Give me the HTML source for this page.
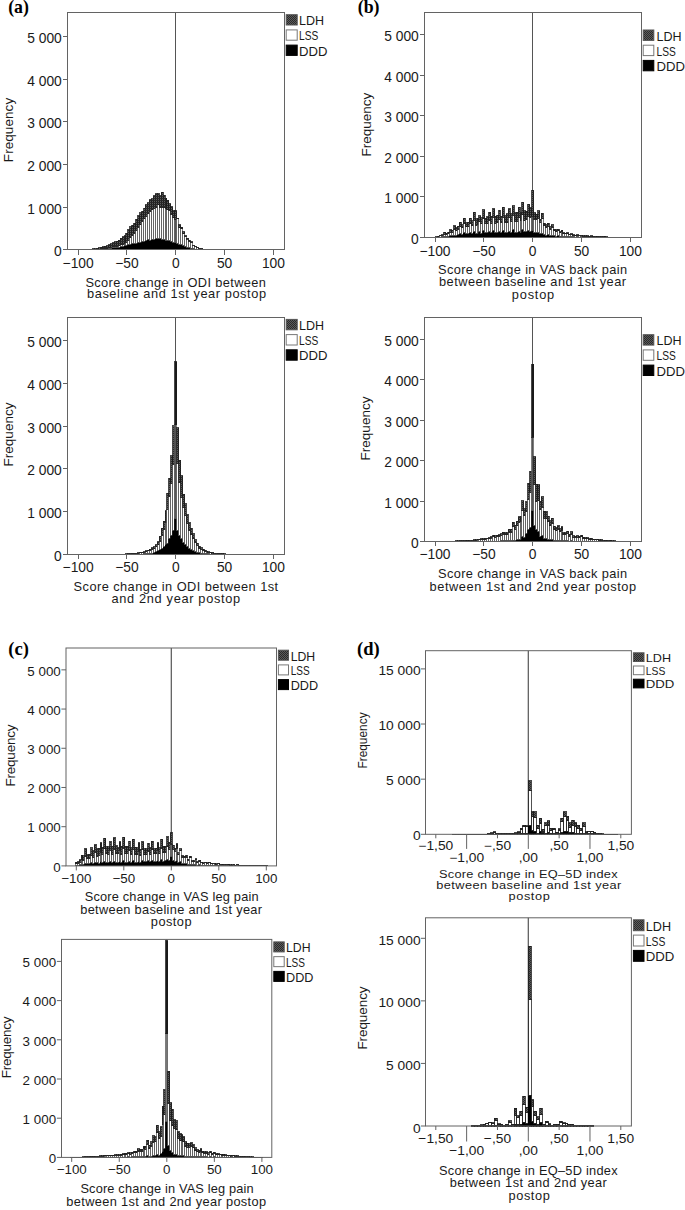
<!DOCTYPE html>
<html><head><meta charset="utf-8"><style>
html,body{margin:0;padding:0;background:#fff;}
svg{display:block;}
</style></head><body>
<svg width="685" height="1210" viewBox="0 0 685 1210">
<defs><pattern id="pl" x="0" y="0" width="2" height="2" patternUnits="userSpaceOnUse"><rect width="2" height="2" fill="#5c5c5c"/><rect width="1" height="1" fill="#2a2a2a"/><rect x="1" y="1" width="1" height="1" fill="#2a2a2a"/></pattern></defs>
<rect width="685" height="1210" fill="#fff"/>
<line x1="175.75" y1="12.50" x2="175.75" y2="249.90" stroke="#555" stroke-width="1.2" shape-rendering="crispEdges"/>
<rect x="79.08" y="249.86" width="1.95" height="0.04" fill="none" stroke="#5e5e5e" stroke-width="0.8" shape-rendering="crispEdges"/>
<rect x="79.08" y="249.81" width="1.95" height="0.04" fill="url(#pl)" stroke="#1a1a1a" stroke-width="0.8" shape-rendering="crispEdges"/>
<rect x="81.03" y="249.88" width="1.95" height="0.02" fill="#000" stroke="#000" stroke-width="0.8" shape-rendering="crispEdges"/>
<rect x="81.03" y="249.82" width="1.95" height="0.06" fill="none" stroke="#5e5e5e" stroke-width="0.8" shape-rendering="crispEdges"/>
<rect x="81.03" y="249.74" width="1.95" height="0.09" fill="url(#pl)" stroke="#1a1a1a" stroke-width="0.8" shape-rendering="crispEdges"/>
<rect x="82.99" y="249.86" width="1.95" height="0.04" fill="#000" stroke="#000" stroke-width="0.8" shape-rendering="crispEdges"/>
<rect x="82.99" y="249.79" width="1.95" height="0.07" fill="none" stroke="#5e5e5e" stroke-width="0.8" shape-rendering="crispEdges"/>
<rect x="82.99" y="249.65" width="1.95" height="0.14" fill="url(#pl)" stroke="#1a1a1a" stroke-width="0.8" shape-rendering="crispEdges"/>
<rect x="84.94" y="249.84" width="1.95" height="0.06" fill="#000" stroke="#000" stroke-width="0.8" shape-rendering="crispEdges"/>
<rect x="84.94" y="249.76" width="1.95" height="0.07" fill="none" stroke="#5e5e5e" stroke-width="0.8" shape-rendering="crispEdges"/>
<rect x="84.94" y="249.55" width="1.95" height="0.21" fill="url(#pl)" stroke="#1a1a1a" stroke-width="0.8" shape-rendering="crispEdges"/>
<rect x="86.89" y="249.81" width="1.95" height="0.09" fill="#000" stroke="#000" stroke-width="0.8" shape-rendering="crispEdges"/>
<rect x="86.89" y="249.73" width="1.95" height="0.08" fill="none" stroke="#5e5e5e" stroke-width="0.8" shape-rendering="crispEdges"/>
<rect x="86.89" y="249.48" width="1.95" height="0.24" fill="url(#pl)" stroke="#1a1a1a" stroke-width="0.8" shape-rendering="crispEdges"/>
<rect x="88.84" y="249.77" width="1.95" height="0.13" fill="#000" stroke="#000" stroke-width="0.8" shape-rendering="crispEdges"/>
<rect x="88.84" y="249.65" width="1.95" height="0.12" fill="none" stroke="#5e5e5e" stroke-width="0.8" shape-rendering="crispEdges"/>
<rect x="88.84" y="249.30" width="1.95" height="0.35" fill="url(#pl)" stroke="#1a1a1a" stroke-width="0.8" shape-rendering="crispEdges"/>
<rect x="90.80" y="249.73" width="1.95" height="0.17" fill="#000" stroke="#000" stroke-width="0.8" shape-rendering="crispEdges"/>
<rect x="90.80" y="249.58" width="1.95" height="0.15" fill="none" stroke="#5e5e5e" stroke-width="0.8" shape-rendering="crispEdges"/>
<rect x="90.80" y="249.16" width="1.95" height="0.42" fill="url(#pl)" stroke="#1a1a1a" stroke-width="0.8" shape-rendering="crispEdges"/>
<rect x="92.75" y="249.68" width="1.95" height="0.22" fill="#000" stroke="#000" stroke-width="0.8" shape-rendering="crispEdges"/>
<rect x="92.75" y="249.53" width="1.95" height="0.15" fill="none" stroke="#5e5e5e" stroke-width="0.8" shape-rendering="crispEdges"/>
<rect x="92.75" y="248.98" width="1.95" height="0.55" fill="url(#pl)" stroke="#1a1a1a" stroke-width="0.8" shape-rendering="crispEdges"/>
<rect x="94.70" y="249.58" width="1.95" height="0.32" fill="#000" stroke="#000" stroke-width="0.8" shape-rendering="crispEdges"/>
<rect x="94.70" y="249.35" width="1.95" height="0.23" fill="none" stroke="#5e5e5e" stroke-width="0.8" shape-rendering="crispEdges"/>
<rect x="94.70" y="248.61" width="1.95" height="0.73" fill="url(#pl)" stroke="#1a1a1a" stroke-width="0.8" shape-rendering="crispEdges"/>
<rect x="96.66" y="249.50" width="1.95" height="0.40" fill="#000" stroke="#000" stroke-width="0.8" shape-rendering="crispEdges"/>
<rect x="96.66" y="249.17" width="1.95" height="0.33" fill="none" stroke="#5e5e5e" stroke-width="0.8" shape-rendering="crispEdges"/>
<rect x="96.66" y="248.23" width="1.95" height="0.94" fill="url(#pl)" stroke="#1a1a1a" stroke-width="0.8" shape-rendering="crispEdges"/>
<rect x="98.61" y="249.38" width="1.95" height="0.52" fill="#000" stroke="#000" stroke-width="0.8" shape-rendering="crispEdges"/>
<rect x="98.61" y="249.04" width="1.95" height="0.34" fill="none" stroke="#5e5e5e" stroke-width="0.8" shape-rendering="crispEdges"/>
<rect x="98.61" y="247.86" width="1.95" height="1.18" fill="url(#pl)" stroke="#1a1a1a" stroke-width="0.8" shape-rendering="crispEdges"/>
<rect x="100.56" y="249.32" width="1.95" height="0.58" fill="#000" stroke="#000" stroke-width="0.8" shape-rendering="crispEdges"/>
<rect x="100.56" y="248.91" width="1.95" height="0.41" fill="none" stroke="#5e5e5e" stroke-width="0.8" shape-rendering="crispEdges"/>
<rect x="100.56" y="247.48" width="1.95" height="1.43" fill="url(#pl)" stroke="#1a1a1a" stroke-width="0.8" shape-rendering="crispEdges"/>
<rect x="102.52" y="249.14" width="1.95" height="0.76" fill="#000" stroke="#000" stroke-width="0.8" shape-rendering="crispEdges"/>
<rect x="102.52" y="248.55" width="1.95" height="0.59" fill="none" stroke="#5e5e5e" stroke-width="0.8" shape-rendering="crispEdges"/>
<rect x="102.52" y="246.98" width="1.95" height="1.57" fill="url(#pl)" stroke="#1a1a1a" stroke-width="0.8" shape-rendering="crispEdges"/>
<rect x="104.47" y="248.96" width="1.95" height="0.94" fill="#000" stroke="#000" stroke-width="0.8" shape-rendering="crispEdges"/>
<rect x="104.47" y="248.35" width="1.95" height="0.61" fill="none" stroke="#5e5e5e" stroke-width="0.8" shape-rendering="crispEdges"/>
<rect x="104.47" y="246.23" width="1.95" height="2.11" fill="url(#pl)" stroke="#1a1a1a" stroke-width="0.8" shape-rendering="crispEdges"/>
<rect x="106.42" y="248.78" width="1.95" height="1.12" fill="#000" stroke="#000" stroke-width="0.8" shape-rendering="crispEdges"/>
<rect x="106.42" y="248.06" width="1.95" height="0.72" fill="none" stroke="#5e5e5e" stroke-width="0.8" shape-rendering="crispEdges"/>
<rect x="106.42" y="245.67" width="1.95" height="2.40" fill="url(#pl)" stroke="#1a1a1a" stroke-width="0.8" shape-rendering="crispEdges"/>
<rect x="108.37" y="248.60" width="1.95" height="1.30" fill="#000" stroke="#000" stroke-width="0.8" shape-rendering="crispEdges"/>
<rect x="108.37" y="247.70" width="1.95" height="0.90" fill="none" stroke="#5e5e5e" stroke-width="0.8" shape-rendering="crispEdges"/>
<rect x="108.37" y="244.96" width="1.95" height="2.74" fill="url(#pl)" stroke="#1a1a1a" stroke-width="0.8" shape-rendering="crispEdges"/>
<rect x="110.33" y="248.24" width="1.95" height="1.66" fill="#000" stroke="#000" stroke-width="0.8" shape-rendering="crispEdges"/>
<rect x="110.33" y="247.26" width="1.95" height="0.97" fill="none" stroke="#5e5e5e" stroke-width="0.8" shape-rendering="crispEdges"/>
<rect x="110.33" y="243.83" width="1.95" height="3.44" fill="url(#pl)" stroke="#1a1a1a" stroke-width="0.8" shape-rendering="crispEdges"/>
<rect x="112.28" y="247.92" width="1.95" height="1.98" fill="#000" stroke="#000" stroke-width="0.8" shape-rendering="crispEdges"/>
<rect x="112.28" y="246.99" width="1.95" height="0.93" fill="none" stroke="#5e5e5e" stroke-width="0.8" shape-rendering="crispEdges"/>
<rect x="112.28" y="242.97" width="1.95" height="4.02" fill="url(#pl)" stroke="#1a1a1a" stroke-width="0.8" shape-rendering="crispEdges"/>
<rect x="114.23" y="247.65" width="1.95" height="2.25" fill="#000" stroke="#000" stroke-width="0.8" shape-rendering="crispEdges"/>
<rect x="114.23" y="246.37" width="1.95" height="1.27" fill="none" stroke="#5e5e5e" stroke-width="0.8" shape-rendering="crispEdges"/>
<rect x="114.23" y="241.93" width="1.95" height="4.45" fill="url(#pl)" stroke="#1a1a1a" stroke-width="0.8" shape-rendering="crispEdges"/>
<rect x="116.19" y="247.27" width="1.95" height="2.63" fill="#000" stroke="#000" stroke-width="0.8" shape-rendering="crispEdges"/>
<rect x="116.19" y="246.15" width="1.95" height="1.12" fill="none" stroke="#5e5e5e" stroke-width="0.8" shape-rendering="crispEdges"/>
<rect x="116.19" y="241.21" width="1.95" height="4.93" fill="url(#pl)" stroke="#1a1a1a" stroke-width="0.8" shape-rendering="crispEdges"/>
<rect x="118.14" y="247.12" width="1.95" height="2.78" fill="#000" stroke="#000" stroke-width="0.8" shape-rendering="crispEdges"/>
<rect x="118.14" y="245.60" width="1.95" height="1.52" fill="none" stroke="#5e5e5e" stroke-width="0.8" shape-rendering="crispEdges"/>
<rect x="118.14" y="240.02" width="1.95" height="5.58" fill="url(#pl)" stroke="#1a1a1a" stroke-width="0.8" shape-rendering="crispEdges"/>
<rect x="120.09" y="246.80" width="1.95" height="3.10" fill="#000" stroke="#000" stroke-width="0.8" shape-rendering="crispEdges"/>
<rect x="120.09" y="244.80" width="1.95" height="2.01" fill="none" stroke="#5e5e5e" stroke-width="0.8" shape-rendering="crispEdges"/>
<rect x="120.09" y="238.48" width="1.95" height="6.31" fill="url(#pl)" stroke="#1a1a1a" stroke-width="0.8" shape-rendering="crispEdges"/>
<rect x="122.05" y="246.37" width="1.95" height="3.53" fill="#000" stroke="#000" stroke-width="0.8" shape-rendering="crispEdges"/>
<rect x="122.05" y="244.28" width="1.95" height="2.09" fill="none" stroke="#5e5e5e" stroke-width="0.8" shape-rendering="crispEdges"/>
<rect x="122.05" y="236.78" width="1.95" height="7.50" fill="url(#pl)" stroke="#1a1a1a" stroke-width="0.8" shape-rendering="crispEdges"/>
<rect x="124.00" y="245.72" width="1.95" height="4.18" fill="#000" stroke="#000" stroke-width="0.8" shape-rendering="crispEdges"/>
<rect x="124.00" y="243.36" width="1.95" height="2.37" fill="none" stroke="#5e5e5e" stroke-width="0.8" shape-rendering="crispEdges"/>
<rect x="124.00" y="235.62" width="1.95" height="7.74" fill="url(#pl)" stroke="#1a1a1a" stroke-width="0.8" shape-rendering="crispEdges"/>
<rect x="125.95" y="245.37" width="1.95" height="4.53" fill="#000" stroke="#000" stroke-width="0.8" shape-rendering="crispEdges"/>
<rect x="125.95" y="242.14" width="1.95" height="3.23" fill="none" stroke="#5e5e5e" stroke-width="0.8" shape-rendering="crispEdges"/>
<rect x="125.95" y="233.28" width="1.95" height="8.87" fill="url(#pl)" stroke="#1a1a1a" stroke-width="0.8" shape-rendering="crispEdges"/>
<rect x="127.90" y="244.62" width="1.95" height="5.28" fill="#000" stroke="#000" stroke-width="0.8" shape-rendering="crispEdges"/>
<rect x="127.90" y="240.21" width="1.95" height="4.41" fill="none" stroke="#5e5e5e" stroke-width="0.8" shape-rendering="crispEdges"/>
<rect x="127.90" y="229.83" width="1.95" height="10.38" fill="url(#pl)" stroke="#1a1a1a" stroke-width="0.8" shape-rendering="crispEdges"/>
<rect x="129.86" y="244.13" width="1.95" height="5.77" fill="#000" stroke="#000" stroke-width="0.8" shape-rendering="crispEdges"/>
<rect x="129.86" y="237.94" width="1.95" height="6.19" fill="none" stroke="#5e5e5e" stroke-width="0.8" shape-rendering="crispEdges"/>
<rect x="129.86" y="226.84" width="1.95" height="11.10" fill="url(#pl)" stroke="#1a1a1a" stroke-width="0.8" shape-rendering="crispEdges"/>
<rect x="131.81" y="243.87" width="1.95" height="6.03" fill="#000" stroke="#000" stroke-width="0.8" shape-rendering="crispEdges"/>
<rect x="131.81" y="235.79" width="1.95" height="8.08" fill="none" stroke="#5e5e5e" stroke-width="0.8" shape-rendering="crispEdges"/>
<rect x="131.81" y="225.24" width="1.95" height="10.55" fill="url(#pl)" stroke="#1a1a1a" stroke-width="0.8" shape-rendering="crispEdges"/>
<rect x="133.76" y="243.54" width="1.95" height="6.36" fill="#000" stroke="#000" stroke-width="0.8" shape-rendering="crispEdges"/>
<rect x="133.76" y="233.07" width="1.95" height="10.48" fill="none" stroke="#5e5e5e" stroke-width="0.8" shape-rendering="crispEdges"/>
<rect x="133.76" y="223.06" width="1.95" height="10.00" fill="url(#pl)" stroke="#1a1a1a" stroke-width="0.8" shape-rendering="crispEdges"/>
<rect x="135.72" y="243.36" width="1.95" height="6.54" fill="#000" stroke="#000" stroke-width="0.8" shape-rendering="crispEdges"/>
<rect x="135.72" y="230.30" width="1.95" height="13.06" fill="none" stroke="#5e5e5e" stroke-width="0.8" shape-rendering="crispEdges"/>
<rect x="135.72" y="219.04" width="1.95" height="11.26" fill="url(#pl)" stroke="#1a1a1a" stroke-width="0.8" shape-rendering="crispEdges"/>
<rect x="137.67" y="242.46" width="1.95" height="7.44" fill="#000" stroke="#000" stroke-width="0.8" shape-rendering="crispEdges"/>
<rect x="137.67" y="227.19" width="1.95" height="15.28" fill="none" stroke="#5e5e5e" stroke-width="0.8" shape-rendering="crispEdges"/>
<rect x="137.67" y="215.61" width="1.95" height="11.57" fill="url(#pl)" stroke="#1a1a1a" stroke-width="0.8" shape-rendering="crispEdges"/>
<rect x="139.62" y="242.39" width="1.95" height="7.51" fill="#000" stroke="#000" stroke-width="0.8" shape-rendering="crispEdges"/>
<rect x="139.62" y="224.53" width="1.95" height="17.86" fill="none" stroke="#5e5e5e" stroke-width="0.8" shape-rendering="crispEdges"/>
<rect x="139.62" y="212.89" width="1.95" height="11.64" fill="url(#pl)" stroke="#1a1a1a" stroke-width="0.8" shape-rendering="crispEdges"/>
<rect x="141.58" y="241.94" width="1.95" height="7.96" fill="#000" stroke="#000" stroke-width="0.8" shape-rendering="crispEdges"/>
<rect x="141.58" y="221.39" width="1.95" height="20.55" fill="none" stroke="#5e5e5e" stroke-width="0.8" shape-rendering="crispEdges"/>
<rect x="141.58" y="211.41" width="1.95" height="9.99" fill="url(#pl)" stroke="#1a1a1a" stroke-width="0.8" shape-rendering="crispEdges"/>
<rect x="143.53" y="241.13" width="1.95" height="8.77" fill="#000" stroke="#000" stroke-width="0.8" shape-rendering="crispEdges"/>
<rect x="143.53" y="218.57" width="1.95" height="22.56" fill="none" stroke="#5e5e5e" stroke-width="0.8" shape-rendering="crispEdges"/>
<rect x="143.53" y="208.00" width="1.95" height="10.57" fill="url(#pl)" stroke="#1a1a1a" stroke-width="0.8" shape-rendering="crispEdges"/>
<rect x="145.48" y="240.70" width="1.95" height="9.20" fill="#000" stroke="#000" stroke-width="0.8" shape-rendering="crispEdges"/>
<rect x="145.48" y="216.21" width="1.95" height="24.49" fill="none" stroke="#5e5e5e" stroke-width="0.8" shape-rendering="crispEdges"/>
<rect x="145.48" y="204.90" width="1.95" height="11.31" fill="url(#pl)" stroke="#1a1a1a" stroke-width="0.8" shape-rendering="crispEdges"/>
<rect x="147.43" y="239.93" width="1.95" height="9.97" fill="#000" stroke="#000" stroke-width="0.8" shape-rendering="crispEdges"/>
<rect x="147.43" y="213.76" width="1.95" height="26.16" fill="none" stroke="#5e5e5e" stroke-width="0.8" shape-rendering="crispEdges"/>
<rect x="147.43" y="202.66" width="1.95" height="11.10" fill="url(#pl)" stroke="#1a1a1a" stroke-width="0.8" shape-rendering="crispEdges"/>
<rect x="149.39" y="240.05" width="1.95" height="9.85" fill="#000" stroke="#000" stroke-width="0.8" shape-rendering="crispEdges"/>
<rect x="149.39" y="211.39" width="1.95" height="28.67" fill="none" stroke="#5e5e5e" stroke-width="0.8" shape-rendering="crispEdges"/>
<rect x="149.39" y="199.94" width="1.95" height="11.44" fill="url(#pl)" stroke="#1a1a1a" stroke-width="0.8" shape-rendering="crispEdges"/>
<rect x="151.34" y="239.43" width="1.95" height="10.47" fill="#000" stroke="#000" stroke-width="0.8" shape-rendering="crispEdges"/>
<rect x="151.34" y="209.63" width="1.95" height="29.80" fill="none" stroke="#5e5e5e" stroke-width="0.8" shape-rendering="crispEdges"/>
<rect x="151.34" y="198.75" width="1.95" height="10.88" fill="url(#pl)" stroke="#1a1a1a" stroke-width="0.8" shape-rendering="crispEdges"/>
<rect x="153.29" y="239.25" width="1.95" height="10.65" fill="#000" stroke="#000" stroke-width="0.8" shape-rendering="crispEdges"/>
<rect x="153.29" y="208.11" width="1.95" height="31.14" fill="none" stroke="#5e5e5e" stroke-width="0.8" shape-rendering="crispEdges"/>
<rect x="153.29" y="195.90" width="1.95" height="12.21" fill="url(#pl)" stroke="#1a1a1a" stroke-width="0.8" shape-rendering="crispEdges"/>
<rect x="155.25" y="238.55" width="1.95" height="11.35" fill="#000" stroke="#000" stroke-width="0.8" shape-rendering="crispEdges"/>
<rect x="155.25" y="207.32" width="1.95" height="31.24" fill="none" stroke="#5e5e5e" stroke-width="0.8" shape-rendering="crispEdges"/>
<rect x="155.25" y="193.82" width="1.95" height="13.49" fill="url(#pl)" stroke="#1a1a1a" stroke-width="0.8" shape-rendering="crispEdges"/>
<rect x="157.20" y="238.50" width="1.95" height="11.40" fill="#000" stroke="#000" stroke-width="0.8" shape-rendering="crispEdges"/>
<rect x="157.20" y="204.76" width="1.95" height="33.74" fill="none" stroke="#5e5e5e" stroke-width="0.8" shape-rendering="crispEdges"/>
<rect x="157.20" y="193.74" width="1.95" height="11.02" fill="url(#pl)" stroke="#1a1a1a" stroke-width="0.8" shape-rendering="crispEdges"/>
<rect x="159.15" y="238.81" width="1.95" height="11.09" fill="#000" stroke="#000" stroke-width="0.8" shape-rendering="crispEdges"/>
<rect x="159.15" y="207.47" width="1.95" height="31.35" fill="none" stroke="#5e5e5e" stroke-width="0.8" shape-rendering="crispEdges"/>
<rect x="159.15" y="195.88" width="1.95" height="11.59" fill="url(#pl)" stroke="#1a1a1a" stroke-width="0.8" shape-rendering="crispEdges"/>
<rect x="161.11" y="239.26" width="1.95" height="10.64" fill="#000" stroke="#000" stroke-width="0.8" shape-rendering="crispEdges"/>
<rect x="161.11" y="207.21" width="1.95" height="32.05" fill="none" stroke="#5e5e5e" stroke-width="0.8" shape-rendering="crispEdges"/>
<rect x="161.11" y="192.33" width="1.95" height="14.88" fill="url(#pl)" stroke="#1a1a1a" stroke-width="0.8" shape-rendering="crispEdges"/>
<rect x="163.06" y="239.76" width="1.95" height="10.14" fill="#000" stroke="#000" stroke-width="0.8" shape-rendering="crispEdges"/>
<rect x="163.06" y="207.81" width="1.95" height="31.95" fill="none" stroke="#5e5e5e" stroke-width="0.8" shape-rendering="crispEdges"/>
<rect x="163.06" y="195.48" width="1.95" height="12.33" fill="url(#pl)" stroke="#1a1a1a" stroke-width="0.8" shape-rendering="crispEdges"/>
<rect x="165.01" y="240.00" width="1.95" height="9.90" fill="#000" stroke="#000" stroke-width="0.8" shape-rendering="crispEdges"/>
<rect x="165.01" y="208.49" width="1.95" height="31.51" fill="none" stroke="#5e5e5e" stroke-width="0.8" shape-rendering="crispEdges"/>
<rect x="165.01" y="198.17" width="1.95" height="10.33" fill="url(#pl)" stroke="#1a1a1a" stroke-width="0.8" shape-rendering="crispEdges"/>
<rect x="166.96" y="240.41" width="1.95" height="9.49" fill="#000" stroke="#000" stroke-width="0.8" shape-rendering="crispEdges"/>
<rect x="166.96" y="209.75" width="1.95" height="30.66" fill="none" stroke="#5e5e5e" stroke-width="0.8" shape-rendering="crispEdges"/>
<rect x="166.96" y="200.49" width="1.95" height="9.27" fill="url(#pl)" stroke="#1a1a1a" stroke-width="0.8" shape-rendering="crispEdges"/>
<rect x="168.92" y="240.98" width="1.95" height="8.92" fill="#000" stroke="#000" stroke-width="0.8" shape-rendering="crispEdges"/>
<rect x="168.92" y="210.44" width="1.95" height="30.54" fill="none" stroke="#5e5e5e" stroke-width="0.8" shape-rendering="crispEdges"/>
<rect x="168.92" y="203.80" width="1.95" height="6.64" fill="url(#pl)" stroke="#1a1a1a" stroke-width="0.8" shape-rendering="crispEdges"/>
<rect x="170.87" y="241.37" width="1.95" height="8.53" fill="#000" stroke="#000" stroke-width="0.8" shape-rendering="crispEdges"/>
<rect x="170.87" y="214.49" width="1.95" height="26.88" fill="none" stroke="#5e5e5e" stroke-width="0.8" shape-rendering="crispEdges"/>
<rect x="170.87" y="206.63" width="1.95" height="7.86" fill="url(#pl)" stroke="#1a1a1a" stroke-width="0.8" shape-rendering="crispEdges"/>
<rect x="172.82" y="242.04" width="1.95" height="7.86" fill="#000" stroke="#000" stroke-width="0.8" shape-rendering="crispEdges"/>
<rect x="172.82" y="217.55" width="1.95" height="24.49" fill="none" stroke="#5e5e5e" stroke-width="0.8" shape-rendering="crispEdges"/>
<rect x="172.82" y="210.77" width="1.95" height="6.78" fill="url(#pl)" stroke="#1a1a1a" stroke-width="0.8" shape-rendering="crispEdges"/>
<rect x="174.78" y="242.11" width="1.95" height="7.79" fill="#000" stroke="#000" stroke-width="0.8" shape-rendering="crispEdges"/>
<rect x="174.78" y="219.72" width="1.95" height="22.39" fill="none" stroke="#5e5e5e" stroke-width="0.8" shape-rendering="crispEdges"/>
<rect x="174.78" y="210.90" width="1.95" height="8.82" fill="url(#pl)" stroke="#1a1a1a" stroke-width="0.8" shape-rendering="crispEdges"/>
<rect x="176.73" y="243.10" width="1.95" height="6.80" fill="#000" stroke="#000" stroke-width="0.8" shape-rendering="crispEdges"/>
<rect x="176.73" y="218.77" width="1.95" height="24.33" fill="none" stroke="#5e5e5e" stroke-width="0.8" shape-rendering="crispEdges"/>
<rect x="176.73" y="218.17" width="1.95" height="0.60" fill="url(#pl)" stroke="#1a1a1a" stroke-width="0.8" shape-rendering="crispEdges"/>
<rect x="178.68" y="244.00" width="1.95" height="5.90" fill="#000" stroke="#000" stroke-width="0.8" shape-rendering="crispEdges"/>
<rect x="178.68" y="227.87" width="1.95" height="16.13" fill="none" stroke="#5e5e5e" stroke-width="0.8" shape-rendering="crispEdges"/>
<rect x="178.68" y="224.65" width="1.95" height="3.22" fill="url(#pl)" stroke="#1a1a1a" stroke-width="0.8" shape-rendering="crispEdges"/>
<rect x="180.64" y="244.71" width="1.95" height="5.19" fill="#000" stroke="#000" stroke-width="0.8" shape-rendering="crispEdges"/>
<rect x="180.64" y="228.99" width="1.95" height="15.72" fill="none" stroke="#5e5e5e" stroke-width="0.8" shape-rendering="crispEdges"/>
<rect x="180.64" y="227.47" width="1.95" height="1.52" fill="url(#pl)" stroke="#1a1a1a" stroke-width="0.8" shape-rendering="crispEdges"/>
<rect x="182.59" y="245.19" width="1.95" height="4.71" fill="#000" stroke="#000" stroke-width="0.8" shape-rendering="crispEdges"/>
<rect x="182.59" y="233.75" width="1.95" height="11.44" fill="none" stroke="#5e5e5e" stroke-width="0.8" shape-rendering="crispEdges"/>
<rect x="182.59" y="231.94" width="1.95" height="1.81" fill="url(#pl)" stroke="#1a1a1a" stroke-width="0.8" shape-rendering="crispEdges"/>
<rect x="184.54" y="246.17" width="1.95" height="3.73" fill="#000" stroke="#000" stroke-width="0.8" shape-rendering="crispEdges"/>
<rect x="184.54" y="236.56" width="1.95" height="9.62" fill="none" stroke="#5e5e5e" stroke-width="0.8" shape-rendering="crispEdges"/>
<rect x="184.54" y="235.87" width="1.95" height="0.69" fill="url(#pl)" stroke="#1a1a1a" stroke-width="0.8" shape-rendering="crispEdges"/>
<rect x="186.49" y="247.06" width="1.95" height="2.84" fill="#000" stroke="#000" stroke-width="0.8" shape-rendering="crispEdges"/>
<rect x="186.49" y="238.99" width="1.95" height="8.06" fill="none" stroke="#5e5e5e" stroke-width="0.8" shape-rendering="crispEdges"/>
<rect x="186.49" y="238.04" width="1.95" height="0.96" fill="url(#pl)" stroke="#1a1a1a" stroke-width="0.8" shape-rendering="crispEdges"/>
<rect x="188.45" y="247.88" width="1.95" height="2.02" fill="#000" stroke="#000" stroke-width="0.8" shape-rendering="crispEdges"/>
<rect x="188.45" y="241.15" width="1.95" height="6.73" fill="none" stroke="#5e5e5e" stroke-width="0.8" shape-rendering="crispEdges"/>
<rect x="188.45" y="240.49" width="1.95" height="0.67" fill="url(#pl)" stroke="#1a1a1a" stroke-width="0.8" shape-rendering="crispEdges"/>
<rect x="190.40" y="248.37" width="1.95" height="1.53" fill="#000" stroke="#000" stroke-width="0.8" shape-rendering="crispEdges"/>
<rect x="190.40" y="242.43" width="1.95" height="5.94" fill="none" stroke="#5e5e5e" stroke-width="0.8" shape-rendering="crispEdges"/>
<rect x="190.40" y="241.94" width="1.95" height="0.48" fill="url(#pl)" stroke="#1a1a1a" stroke-width="0.8" shape-rendering="crispEdges"/>
<rect x="192.35" y="248.88" width="1.95" height="1.02" fill="#000" stroke="#000" stroke-width="0.8" shape-rendering="crispEdges"/>
<rect x="192.35" y="245.81" width="1.95" height="3.07" fill="none" stroke="#5e5e5e" stroke-width="0.8" shape-rendering="crispEdges"/>
<rect x="192.35" y="245.50" width="1.95" height="0.31" fill="url(#pl)" stroke="#1a1a1a" stroke-width="0.8" shape-rendering="crispEdges"/>
<rect x="194.31" y="249.15" width="1.95" height="0.75" fill="#000" stroke="#000" stroke-width="0.8" shape-rendering="crispEdges"/>
<rect x="194.31" y="246.76" width="1.95" height="2.39" fill="none" stroke="#5e5e5e" stroke-width="0.8" shape-rendering="crispEdges"/>
<rect x="194.31" y="246.51" width="1.95" height="0.26" fill="url(#pl)" stroke="#1a1a1a" stroke-width="0.8" shape-rendering="crispEdges"/>
<rect x="196.26" y="249.41" width="1.95" height="0.49" fill="#000" stroke="#000" stroke-width="0.8" shape-rendering="crispEdges"/>
<rect x="196.26" y="247.85" width="1.95" height="1.56" fill="none" stroke="#5e5e5e" stroke-width="0.8" shape-rendering="crispEdges"/>
<rect x="196.26" y="247.66" width="1.95" height="0.19" fill="url(#pl)" stroke="#1a1a1a" stroke-width="0.8" shape-rendering="crispEdges"/>
<rect x="198.21" y="249.60" width="1.95" height="0.30" fill="#000" stroke="#000" stroke-width="0.8" shape-rendering="crispEdges"/>
<rect x="198.21" y="248.39" width="1.95" height="1.21" fill="none" stroke="#5e5e5e" stroke-width="0.8" shape-rendering="crispEdges"/>
<rect x="198.21" y="248.27" width="1.95" height="0.12" fill="url(#pl)" stroke="#1a1a1a" stroke-width="0.8" shape-rendering="crispEdges"/>
<rect x="200.17" y="249.67" width="1.95" height="0.23" fill="#000" stroke="#000" stroke-width="0.8" shape-rendering="crispEdges"/>
<rect x="200.17" y="248.75" width="1.95" height="0.92" fill="none" stroke="#5e5e5e" stroke-width="0.8" shape-rendering="crispEdges"/>
<rect x="200.17" y="248.64" width="1.95" height="0.11" fill="url(#pl)" stroke="#1a1a1a" stroke-width="0.8" shape-rendering="crispEdges"/>
<rect x="202.12" y="249.73" width="1.95" height="0.17" fill="#000" stroke="#000" stroke-width="0.8" shape-rendering="crispEdges"/>
<rect x="202.12" y="249.11" width="1.95" height="0.62" fill="none" stroke="#5e5e5e" stroke-width="0.8" shape-rendering="crispEdges"/>
<rect x="202.12" y="249.03" width="1.95" height="0.08" fill="url(#pl)" stroke="#1a1a1a" stroke-width="0.8" shape-rendering="crispEdges"/>
<rect x="204.07" y="249.77" width="1.95" height="0.13" fill="#000" stroke="#000" stroke-width="0.8" shape-rendering="crispEdges"/>
<rect x="204.07" y="249.33" width="1.95" height="0.44" fill="none" stroke="#5e5e5e" stroke-width="0.8" shape-rendering="crispEdges"/>
<rect x="204.07" y="249.26" width="1.95" height="0.07" fill="url(#pl)" stroke="#1a1a1a" stroke-width="0.8" shape-rendering="crispEdges"/>
<rect x="206.02" y="249.81" width="1.95" height="0.09" fill="#000" stroke="#000" stroke-width="0.8" shape-rendering="crispEdges"/>
<rect x="206.02" y="249.53" width="1.95" height="0.29" fill="none" stroke="#5e5e5e" stroke-width="0.8" shape-rendering="crispEdges"/>
<rect x="206.02" y="249.48" width="1.95" height="0.05" fill="url(#pl)" stroke="#1a1a1a" stroke-width="0.8" shape-rendering="crispEdges"/>
<rect x="207.98" y="249.83" width="1.95" height="0.07" fill="#000" stroke="#000" stroke-width="0.8" shape-rendering="crispEdges"/>
<rect x="207.98" y="249.58" width="1.95" height="0.25" fill="none" stroke="#5e5e5e" stroke-width="0.8" shape-rendering="crispEdges"/>
<rect x="207.98" y="249.56" width="1.95" height="0.01" fill="url(#pl)" stroke="#1a1a1a" stroke-width="0.8" shape-rendering="crispEdges"/>
<rect x="209.93" y="249.84" width="1.95" height="0.06" fill="#000" stroke="#000" stroke-width="0.8" shape-rendering="crispEdges"/>
<rect x="209.93" y="249.65" width="1.95" height="0.19" fill="none" stroke="#5e5e5e" stroke-width="0.8" shape-rendering="crispEdges"/>
<rect x="209.93" y="249.64" width="1.95" height="0.02" fill="url(#pl)" stroke="#1a1a1a" stroke-width="0.8" shape-rendering="crispEdges"/>
<rect x="211.88" y="249.86" width="1.95" height="0.04" fill="#000" stroke="#000" stroke-width="0.8" shape-rendering="crispEdges"/>
<rect x="211.88" y="249.72" width="1.95" height="0.13" fill="none" stroke="#5e5e5e" stroke-width="0.8" shape-rendering="crispEdges"/>
<rect x="213.84" y="249.87" width="1.95" height="0.03" fill="#000" stroke="#000" stroke-width="0.8" shape-rendering="crispEdges"/>
<rect x="213.84" y="249.78" width="1.95" height="0.10" fill="none" stroke="#5e5e5e" stroke-width="0.8" shape-rendering="crispEdges"/>
<rect x="215.79" y="249.89" width="1.95" height="0.01" fill="#000" stroke="#000" stroke-width="0.8" shape-rendering="crispEdges"/>
<rect x="215.79" y="249.82" width="1.95" height="0.07" fill="none" stroke="#5e5e5e" stroke-width="0.8" shape-rendering="crispEdges"/>
<rect x="217.74" y="249.86" width="1.95" height="0.04" fill="none" stroke="#5e5e5e" stroke-width="0.8" shape-rendering="crispEdges"/>
<rect x="219.70" y="249.87" width="1.95" height="0.03" fill="none" stroke="#5e5e5e" stroke-width="0.8" shape-rendering="crispEdges"/>
<rect x="219.70" y="249.87" width="1.95" height="0.00" fill="url(#pl)" stroke="#1a1a1a" stroke-width="0.8" shape-rendering="crispEdges"/>
<rect x="221.65" y="249.89" width="1.95" height="0.01" fill="none" stroke="#5e5e5e" stroke-width="0.8" shape-rendering="crispEdges"/>
<rect x="67.50" y="12.50" width="217.00" height="237.40" fill="none" stroke="#636363" stroke-width="1" shape-rendering="crispEdges"/>
<line x1="62.90" y1="249.90" x2="67.50" y2="249.90" stroke="#636363" stroke-width="1" shape-rendering="crispEdges"/>
<text transform="translate(61.80,256.40) scale(1,1.0)" font-family="Liberation Sans, sans-serif" font-size="13.8" text-anchor="end" fill="#1a1a1a">0</text>
<line x1="62.90" y1="207.20" x2="67.50" y2="207.20" stroke="#636363" stroke-width="1" shape-rendering="crispEdges"/>
<text transform="translate(61.80,213.70) scale(1,1.0)" font-family="Liberation Sans, sans-serif" font-size="13.8" text-anchor="end" fill="#1a1a1a">1 000</text>
<line x1="62.90" y1="164.50" x2="67.50" y2="164.50" stroke="#636363" stroke-width="1" shape-rendering="crispEdges"/>
<text transform="translate(61.80,171.00) scale(1,1.0)" font-family="Liberation Sans, sans-serif" font-size="13.8" text-anchor="end" fill="#1a1a1a">2 000</text>
<line x1="62.90" y1="121.80" x2="67.50" y2="121.80" stroke="#636363" stroke-width="1" shape-rendering="crispEdges"/>
<text transform="translate(61.80,128.30) scale(1,1.0)" font-family="Liberation Sans, sans-serif" font-size="13.8" text-anchor="end" fill="#1a1a1a">3 000</text>
<line x1="62.90" y1="79.10" x2="67.50" y2="79.10" stroke="#636363" stroke-width="1" shape-rendering="crispEdges"/>
<text transform="translate(61.80,85.60) scale(1,1.0)" font-family="Liberation Sans, sans-serif" font-size="13.8" text-anchor="end" fill="#1a1a1a">4 000</text>
<line x1="62.90" y1="36.40" x2="67.50" y2="36.40" stroke="#636363" stroke-width="1" shape-rendering="crispEdges"/>
<text transform="translate(61.80,42.90) scale(1,1.0)" font-family="Liberation Sans, sans-serif" font-size="13.8" text-anchor="end" fill="#1a1a1a">5 000</text>
<line x1="78.10" y1="249.90" x2="78.10" y2="254.60" stroke="#636363" stroke-width="1" shape-rendering="crispEdges"/>
<text transform="translate(78.10,268.00) scale(1,1.0)" font-family="Liberation Sans, sans-serif" font-size="13.8" text-anchor="middle" fill="#1a1a1a">−100</text>
<line x1="126.92" y1="249.90" x2="126.92" y2="254.60" stroke="#636363" stroke-width="1" shape-rendering="crispEdges"/>
<text transform="translate(126.92,268.00) scale(1,1.0)" font-family="Liberation Sans, sans-serif" font-size="13.8" text-anchor="middle" fill="#1a1a1a">−50</text>
<line x1="175.75" y1="249.90" x2="175.75" y2="254.60" stroke="#636363" stroke-width="1" shape-rendering="crispEdges"/>
<text transform="translate(175.75,268.00) scale(1,1.0)" font-family="Liberation Sans, sans-serif" font-size="13.8" text-anchor="middle" fill="#1a1a1a">0</text>
<line x1="224.57" y1="249.90" x2="224.57" y2="254.60" stroke="#636363" stroke-width="1" shape-rendering="crispEdges"/>
<text transform="translate(224.57,268.00) scale(1,1.0)" font-family="Liberation Sans, sans-serif" font-size="13.8" text-anchor="middle" fill="#1a1a1a">50</text>
<line x1="273.40" y1="249.90" x2="273.40" y2="254.60" stroke="#636363" stroke-width="1" shape-rendering="crispEdges"/>
<text transform="translate(273.40,268.00) scale(1,1.0)" font-family="Liberation Sans, sans-serif" font-size="13.8" text-anchor="middle" fill="#1a1a1a">100</text>
<text transform="translate(175.70,286.60) scale(1,1.0)" font-family="Liberation Sans, sans-serif" font-size="12.8" text-anchor="middle" fill="#1a1a1a" textLength="180.60" lengthAdjust="spacing">Score change in ODI between</text>
<text transform="translate(176.50,298.30) scale(1,1.0)" font-family="Liberation Sans, sans-serif" font-size="12.8" text-anchor="middle" fill="#1a1a1a" textLength="179.00" lengthAdjust="spacing">baseline and 1st year postop</text>
<text transform="translate(12.80,130.00) rotate(-90) scale(1,1.0)" font-family="Liberation Sans, sans-serif" font-size="13.5" text-anchor="middle" fill="#1a1a1a" textLength="64.30" lengthAdjust="spacing">Frequency</text>
<rect x="286.20" y="14.70" width="11.00" height="10.30" fill="url(#pl)" stroke="#555" stroke-width="1"/>
<text transform="translate(299.00,25.20) scale(1,1.0)" font-family="Liberation Sans, sans-serif" font-size="13.5" text-anchor="start" fill="#1a1a1a" textLength="25.00" lengthAdjust="spacingAndGlyphs">LDH</text>
<rect x="286.20" y="29.90" width="11.00" height="10.30" fill="#fff" stroke="#777" stroke-width="1"/>
<text transform="translate(299.00,40.40) scale(1,1.0)" font-family="Liberation Sans, sans-serif" font-size="13.5" text-anchor="start" fill="#1a1a1a" textLength="19.30" lengthAdjust="spacingAndGlyphs">LSS</text>
<rect x="286.20" y="45.10" width="11.00" height="10.30" fill="#000" stroke="#000" stroke-width="1"/>
<text transform="translate(299.00,55.60) scale(1,1.0)" font-family="Liberation Sans, sans-serif" font-size="13.5" text-anchor="start" fill="#1a1a1a" textLength="28.40" lengthAdjust="spacingAndGlyphs">DDD</text>
<text transform="translate(8.20,13.20) scale(1,1.0)" font-family="Liberation Serif, serif" font-size="17.8" text-anchor="start" fill="#000" font-weight="bold">(a)</text>
<line x1="175.75" y1="317.50" x2="175.75" y2="554.40" stroke="#555" stroke-width="1.2" shape-rendering="crispEdges"/>
<rect x="108.37" y="554.38" width="1.95" height="0.02" fill="none" stroke="#5e5e5e" stroke-width="0.8" shape-rendering="crispEdges"/>
<rect x="110.33" y="554.35" width="1.95" height="0.05" fill="none" stroke="#5e5e5e" stroke-width="0.8" shape-rendering="crispEdges"/>
<rect x="112.28" y="554.32" width="1.95" height="0.08" fill="none" stroke="#5e5e5e" stroke-width="0.8" shape-rendering="crispEdges"/>
<rect x="114.23" y="554.30" width="1.95" height="0.10" fill="none" stroke="#5e5e5e" stroke-width="0.8" shape-rendering="crispEdges"/>
<rect x="116.19" y="554.27" width="1.95" height="0.13" fill="none" stroke="#5e5e5e" stroke-width="0.8" shape-rendering="crispEdges"/>
<rect x="118.14" y="554.38" width="1.95" height="0.02" fill="#000" stroke="#000" stroke-width="0.8" shape-rendering="crispEdges"/>
<rect x="118.14" y="554.23" width="1.95" height="0.15" fill="none" stroke="#5e5e5e" stroke-width="0.8" shape-rendering="crispEdges"/>
<rect x="118.14" y="554.21" width="1.95" height="0.02" fill="url(#pl)" stroke="#1a1a1a" stroke-width="0.8" shape-rendering="crispEdges"/>
<rect x="120.09" y="554.37" width="1.95" height="0.03" fill="#000" stroke="#000" stroke-width="0.8" shape-rendering="crispEdges"/>
<rect x="120.09" y="554.19" width="1.95" height="0.17" fill="none" stroke="#5e5e5e" stroke-width="0.8" shape-rendering="crispEdges"/>
<rect x="120.09" y="554.16" width="1.95" height="0.03" fill="url(#pl)" stroke="#1a1a1a" stroke-width="0.8" shape-rendering="crispEdges"/>
<rect x="122.05" y="554.35" width="1.95" height="0.05" fill="#000" stroke="#000" stroke-width="0.8" shape-rendering="crispEdges"/>
<rect x="122.05" y="554.15" width="1.95" height="0.20" fill="none" stroke="#5e5e5e" stroke-width="0.8" shape-rendering="crispEdges"/>
<rect x="122.05" y="554.08" width="1.95" height="0.06" fill="url(#pl)" stroke="#1a1a1a" stroke-width="0.8" shape-rendering="crispEdges"/>
<rect x="124.00" y="554.33" width="1.95" height="0.07" fill="#000" stroke="#000" stroke-width="0.8" shape-rendering="crispEdges"/>
<rect x="124.00" y="554.09" width="1.95" height="0.24" fill="none" stroke="#5e5e5e" stroke-width="0.8" shape-rendering="crispEdges"/>
<rect x="124.00" y="554.02" width="1.95" height="0.07" fill="url(#pl)" stroke="#1a1a1a" stroke-width="0.8" shape-rendering="crispEdges"/>
<rect x="125.95" y="554.31" width="1.95" height="0.09" fill="#000" stroke="#000" stroke-width="0.8" shape-rendering="crispEdges"/>
<rect x="125.95" y="554.06" width="1.95" height="0.26" fill="none" stroke="#5e5e5e" stroke-width="0.8" shape-rendering="crispEdges"/>
<rect x="125.95" y="553.98" width="1.95" height="0.08" fill="url(#pl)" stroke="#1a1a1a" stroke-width="0.8" shape-rendering="crispEdges"/>
<rect x="127.90" y="554.29" width="1.95" height="0.11" fill="#000" stroke="#000" stroke-width="0.8" shape-rendering="crispEdges"/>
<rect x="127.90" y="553.91" width="1.95" height="0.37" fill="none" stroke="#5e5e5e" stroke-width="0.8" shape-rendering="crispEdges"/>
<rect x="127.90" y="553.82" width="1.95" height="0.10" fill="url(#pl)" stroke="#1a1a1a" stroke-width="0.8" shape-rendering="crispEdges"/>
<rect x="129.86" y="554.26" width="1.95" height="0.14" fill="#000" stroke="#000" stroke-width="0.8" shape-rendering="crispEdges"/>
<rect x="129.86" y="553.80" width="1.95" height="0.46" fill="none" stroke="#5e5e5e" stroke-width="0.8" shape-rendering="crispEdges"/>
<rect x="129.86" y="553.61" width="1.95" height="0.19" fill="url(#pl)" stroke="#1a1a1a" stroke-width="0.8" shape-rendering="crispEdges"/>
<rect x="131.81" y="554.24" width="1.95" height="0.16" fill="#000" stroke="#000" stroke-width="0.8" shape-rendering="crispEdges"/>
<rect x="131.81" y="553.65" width="1.95" height="0.58" fill="none" stroke="#5e5e5e" stroke-width="0.8" shape-rendering="crispEdges"/>
<rect x="131.81" y="553.48" width="1.95" height="0.17" fill="url(#pl)" stroke="#1a1a1a" stroke-width="0.8" shape-rendering="crispEdges"/>
<rect x="133.76" y="554.21" width="1.95" height="0.19" fill="#000" stroke="#000" stroke-width="0.8" shape-rendering="crispEdges"/>
<rect x="133.76" y="553.52" width="1.95" height="0.69" fill="none" stroke="#5e5e5e" stroke-width="0.8" shape-rendering="crispEdges"/>
<rect x="133.76" y="553.26" width="1.95" height="0.26" fill="url(#pl)" stroke="#1a1a1a" stroke-width="0.8" shape-rendering="crispEdges"/>
<rect x="135.72" y="554.19" width="1.95" height="0.21" fill="#000" stroke="#000" stroke-width="0.8" shape-rendering="crispEdges"/>
<rect x="135.72" y="553.39" width="1.95" height="0.80" fill="none" stroke="#5e5e5e" stroke-width="0.8" shape-rendering="crispEdges"/>
<rect x="135.72" y="553.11" width="1.95" height="0.27" fill="url(#pl)" stroke="#1a1a1a" stroke-width="0.8" shape-rendering="crispEdges"/>
<rect x="137.67" y="554.14" width="1.95" height="0.26" fill="#000" stroke="#000" stroke-width="0.8" shape-rendering="crispEdges"/>
<rect x="137.67" y="553.16" width="1.95" height="0.98" fill="none" stroke="#5e5e5e" stroke-width="0.8" shape-rendering="crispEdges"/>
<rect x="137.67" y="552.83" width="1.95" height="0.33" fill="url(#pl)" stroke="#1a1a1a" stroke-width="0.8" shape-rendering="crispEdges"/>
<rect x="139.62" y="554.09" width="1.95" height="0.31" fill="#000" stroke="#000" stroke-width="0.8" shape-rendering="crispEdges"/>
<rect x="139.62" y="552.84" width="1.95" height="1.25" fill="none" stroke="#5e5e5e" stroke-width="0.8" shape-rendering="crispEdges"/>
<rect x="139.62" y="552.45" width="1.95" height="0.38" fill="url(#pl)" stroke="#1a1a1a" stroke-width="0.8" shape-rendering="crispEdges"/>
<rect x="141.58" y="554.03" width="1.95" height="0.37" fill="#000" stroke="#000" stroke-width="0.8" shape-rendering="crispEdges"/>
<rect x="141.58" y="552.59" width="1.95" height="1.44" fill="none" stroke="#5e5e5e" stroke-width="0.8" shape-rendering="crispEdges"/>
<rect x="141.58" y="552.22" width="1.95" height="0.37" fill="url(#pl)" stroke="#1a1a1a" stroke-width="0.8" shape-rendering="crispEdges"/>
<rect x="143.53" y="553.97" width="1.95" height="0.43" fill="#000" stroke="#000" stroke-width="0.8" shape-rendering="crispEdges"/>
<rect x="143.53" y="552.42" width="1.95" height="1.55" fill="none" stroke="#5e5e5e" stroke-width="0.8" shape-rendering="crispEdges"/>
<rect x="143.53" y="551.85" width="1.95" height="0.57" fill="url(#pl)" stroke="#1a1a1a" stroke-width="0.8" shape-rendering="crispEdges"/>
<rect x="145.48" y="553.80" width="1.95" height="0.60" fill="#000" stroke="#000" stroke-width="0.8" shape-rendering="crispEdges"/>
<rect x="145.48" y="551.74" width="1.95" height="2.07" fill="none" stroke="#5e5e5e" stroke-width="0.8" shape-rendering="crispEdges"/>
<rect x="145.48" y="550.91" width="1.95" height="0.82" fill="url(#pl)" stroke="#1a1a1a" stroke-width="0.8" shape-rendering="crispEdges"/>
<rect x="147.43" y="553.65" width="1.95" height="0.75" fill="#000" stroke="#000" stroke-width="0.8" shape-rendering="crispEdges"/>
<rect x="147.43" y="550.98" width="1.95" height="2.67" fill="none" stroke="#5e5e5e" stroke-width="0.8" shape-rendering="crispEdges"/>
<rect x="147.43" y="550.24" width="1.95" height="0.74" fill="url(#pl)" stroke="#1a1a1a" stroke-width="0.8" shape-rendering="crispEdges"/>
<rect x="149.39" y="553.44" width="1.95" height="0.96" fill="#000" stroke="#000" stroke-width="0.8" shape-rendering="crispEdges"/>
<rect x="149.39" y="550.19" width="1.95" height="3.25" fill="none" stroke="#5e5e5e" stroke-width="0.8" shape-rendering="crispEdges"/>
<rect x="149.39" y="549.06" width="1.95" height="1.13" fill="url(#pl)" stroke="#1a1a1a" stroke-width="0.8" shape-rendering="crispEdges"/>
<rect x="151.34" y="553.19" width="1.95" height="1.21" fill="#000" stroke="#000" stroke-width="0.8" shape-rendering="crispEdges"/>
<rect x="151.34" y="549.35" width="1.95" height="3.84" fill="none" stroke="#5e5e5e" stroke-width="0.8" shape-rendering="crispEdges"/>
<rect x="151.34" y="547.90" width="1.95" height="1.45" fill="url(#pl)" stroke="#1a1a1a" stroke-width="0.8" shape-rendering="crispEdges"/>
<rect x="153.29" y="552.91" width="1.95" height="1.49" fill="#000" stroke="#000" stroke-width="0.8" shape-rendering="crispEdges"/>
<rect x="153.29" y="548.85" width="1.95" height="4.06" fill="none" stroke="#5e5e5e" stroke-width="0.8" shape-rendering="crispEdges"/>
<rect x="153.29" y="546.79" width="1.95" height="2.06" fill="url(#pl)" stroke="#1a1a1a" stroke-width="0.8" shape-rendering="crispEdges"/>
<rect x="155.25" y="551.61" width="1.95" height="2.79" fill="#000" stroke="#000" stroke-width="0.8" shape-rendering="crispEdges"/>
<rect x="155.25" y="546.77" width="1.95" height="4.85" fill="none" stroke="#5e5e5e" stroke-width="0.8" shape-rendering="crispEdges"/>
<rect x="155.25" y="544.69" width="1.95" height="2.07" fill="url(#pl)" stroke="#1a1a1a" stroke-width="0.8" shape-rendering="crispEdges"/>
<rect x="157.20" y="550.69" width="1.95" height="3.71" fill="#000" stroke="#000" stroke-width="0.8" shape-rendering="crispEdges"/>
<rect x="157.20" y="544.50" width="1.95" height="6.19" fill="none" stroke="#5e5e5e" stroke-width="0.8" shape-rendering="crispEdges"/>
<rect x="157.20" y="541.53" width="1.95" height="2.97" fill="url(#pl)" stroke="#1a1a1a" stroke-width="0.8" shape-rendering="crispEdges"/>
<rect x="159.15" y="549.70" width="1.95" height="4.70" fill="#000" stroke="#000" stroke-width="0.8" shape-rendering="crispEdges"/>
<rect x="159.15" y="541.19" width="1.95" height="8.51" fill="none" stroke="#5e5e5e" stroke-width="0.8" shape-rendering="crispEdges"/>
<rect x="159.15" y="536.11" width="1.95" height="5.08" fill="url(#pl)" stroke="#1a1a1a" stroke-width="0.8" shape-rendering="crispEdges"/>
<rect x="161.11" y="548.49" width="1.95" height="5.91" fill="#000" stroke="#000" stroke-width="0.8" shape-rendering="crispEdges"/>
<rect x="161.11" y="535.19" width="1.95" height="13.30" fill="none" stroke="#5e5e5e" stroke-width="0.8" shape-rendering="crispEdges"/>
<rect x="161.11" y="528.36" width="1.95" height="6.83" fill="url(#pl)" stroke="#1a1a1a" stroke-width="0.8" shape-rendering="crispEdges"/>
<rect x="163.06" y="546.55" width="1.95" height="7.85" fill="#000" stroke="#000" stroke-width="0.8" shape-rendering="crispEdges"/>
<rect x="163.06" y="529.93" width="1.95" height="16.62" fill="none" stroke="#5e5e5e" stroke-width="0.8" shape-rendering="crispEdges"/>
<rect x="163.06" y="521.30" width="1.95" height="8.63" fill="url(#pl)" stroke="#1a1a1a" stroke-width="0.8" shape-rendering="crispEdges"/>
<rect x="165.01" y="544.32" width="1.95" height="10.08" fill="#000" stroke="#000" stroke-width="0.8" shape-rendering="crispEdges"/>
<rect x="165.01" y="522.56" width="1.95" height="21.76" fill="none" stroke="#5e5e5e" stroke-width="0.8" shape-rendering="crispEdges"/>
<rect x="165.01" y="510.98" width="1.95" height="11.58" fill="url(#pl)" stroke="#1a1a1a" stroke-width="0.8" shape-rendering="crispEdges"/>
<rect x="166.96" y="543.10" width="1.95" height="11.30" fill="#000" stroke="#000" stroke-width="0.8" shape-rendering="crispEdges"/>
<rect x="166.96" y="509.32" width="1.95" height="33.78" fill="none" stroke="#5e5e5e" stroke-width="0.8" shape-rendering="crispEdges"/>
<rect x="166.96" y="493.28" width="1.95" height="16.04" fill="url(#pl)" stroke="#1a1a1a" stroke-width="0.8" shape-rendering="crispEdges"/>
<rect x="168.92" y="538.46" width="1.95" height="15.94" fill="#000" stroke="#000" stroke-width="0.8" shape-rendering="crispEdges"/>
<rect x="168.92" y="496.64" width="1.95" height="41.82" fill="none" stroke="#5e5e5e" stroke-width="0.8" shape-rendering="crispEdges"/>
<rect x="168.92" y="478.14" width="1.95" height="18.50" fill="url(#pl)" stroke="#1a1a1a" stroke-width="0.8" shape-rendering="crispEdges"/>
<rect x="170.87" y="535.28" width="1.95" height="19.12" fill="#000" stroke="#000" stroke-width="0.8" shape-rendering="crispEdges"/>
<rect x="170.87" y="483.49" width="1.95" height="51.79" fill="none" stroke="#5e5e5e" stroke-width="0.8" shape-rendering="crispEdges"/>
<rect x="170.87" y="455.81" width="1.95" height="27.68" fill="url(#pl)" stroke="#1a1a1a" stroke-width="0.8" shape-rendering="crispEdges"/>
<rect x="172.82" y="530.09" width="1.95" height="24.31" fill="#000" stroke="#000" stroke-width="0.8" shape-rendering="crispEdges"/>
<rect x="172.82" y="464.02" width="1.95" height="66.07" fill="none" stroke="#5e5e5e" stroke-width="0.8" shape-rendering="crispEdges"/>
<rect x="172.82" y="425.98" width="1.95" height="38.04" fill="url(#pl)" stroke="#1a1a1a" stroke-width="0.8" shape-rendering="crispEdges"/>
<rect x="174.78" y="518.55" width="1.95" height="35.85" fill="#000" stroke="#000" stroke-width="0.8" shape-rendering="crispEdges"/>
<rect x="174.78" y="424.61" width="1.95" height="93.94" fill="none" stroke="#5e5e5e" stroke-width="0.8" shape-rendering="crispEdges"/>
<rect x="174.78" y="361.61" width="1.95" height="63.00" fill="#1a1a1a" stroke="#1a1a1a" stroke-width="0.8" shape-rendering="crispEdges"/>
<rect x="176.73" y="530.19" width="1.95" height="24.21" fill="#000" stroke="#000" stroke-width="0.8" shape-rendering="crispEdges"/>
<rect x="176.73" y="463.06" width="1.95" height="67.13" fill="none" stroke="#5e5e5e" stroke-width="0.8" shape-rendering="crispEdges"/>
<rect x="176.73" y="427.57" width="1.95" height="35.49" fill="url(#pl)" stroke="#1a1a1a" stroke-width="0.8" shape-rendering="crispEdges"/>
<rect x="178.68" y="535.43" width="1.95" height="18.97" fill="#000" stroke="#000" stroke-width="0.8" shape-rendering="crispEdges"/>
<rect x="178.68" y="482.83" width="1.95" height="52.60" fill="none" stroke="#5e5e5e" stroke-width="0.8" shape-rendering="crispEdges"/>
<rect x="178.68" y="460.48" width="1.95" height="22.35" fill="url(#pl)" stroke="#1a1a1a" stroke-width="0.8" shape-rendering="crispEdges"/>
<rect x="180.64" y="538.76" width="1.95" height="15.64" fill="#000" stroke="#000" stroke-width="0.8" shape-rendering="crispEdges"/>
<rect x="180.64" y="497.31" width="1.95" height="41.44" fill="none" stroke="#5e5e5e" stroke-width="0.8" shape-rendering="crispEdges"/>
<rect x="180.64" y="475.72" width="1.95" height="21.59" fill="url(#pl)" stroke="#1a1a1a" stroke-width="0.8" shape-rendering="crispEdges"/>
<rect x="182.59" y="542.84" width="1.95" height="11.56" fill="#000" stroke="#000" stroke-width="0.8" shape-rendering="crispEdges"/>
<rect x="182.59" y="507.03" width="1.95" height="35.81" fill="none" stroke="#5e5e5e" stroke-width="0.8" shape-rendering="crispEdges"/>
<rect x="182.59" y="494.20" width="1.95" height="12.84" fill="url(#pl)" stroke="#1a1a1a" stroke-width="0.8" shape-rendering="crispEdges"/>
<rect x="184.54" y="544.22" width="1.95" height="10.18" fill="#000" stroke="#000" stroke-width="0.8" shape-rendering="crispEdges"/>
<rect x="184.54" y="515.16" width="1.95" height="29.06" fill="none" stroke="#5e5e5e" stroke-width="0.8" shape-rendering="crispEdges"/>
<rect x="184.54" y="503.66" width="1.95" height="11.50" fill="url(#pl)" stroke="#1a1a1a" stroke-width="0.8" shape-rendering="crispEdges"/>
<rect x="186.49" y="546.38" width="1.95" height="8.02" fill="#000" stroke="#000" stroke-width="0.8" shape-rendering="crispEdges"/>
<rect x="186.49" y="523.15" width="1.95" height="23.23" fill="none" stroke="#5e5e5e" stroke-width="0.8" shape-rendering="crispEdges"/>
<rect x="186.49" y="514.55" width="1.95" height="8.60" fill="url(#pl)" stroke="#1a1a1a" stroke-width="0.8" shape-rendering="crispEdges"/>
<rect x="188.45" y="548.29" width="1.95" height="6.11" fill="#000" stroke="#000" stroke-width="0.8" shape-rendering="crispEdges"/>
<rect x="188.45" y="530.47" width="1.95" height="17.82" fill="none" stroke="#5e5e5e" stroke-width="0.8" shape-rendering="crispEdges"/>
<rect x="188.45" y="522.50" width="1.95" height="7.97" fill="url(#pl)" stroke="#1a1a1a" stroke-width="0.8" shape-rendering="crispEdges"/>
<rect x="190.40" y="549.56" width="1.95" height="4.84" fill="#000" stroke="#000" stroke-width="0.8" shape-rendering="crispEdges"/>
<rect x="190.40" y="534.52" width="1.95" height="15.05" fill="none" stroke="#5e5e5e" stroke-width="0.8" shape-rendering="crispEdges"/>
<rect x="190.40" y="528.45" width="1.95" height="6.07" fill="url(#pl)" stroke="#1a1a1a" stroke-width="0.8" shape-rendering="crispEdges"/>
<rect x="192.35" y="550.76" width="1.95" height="3.64" fill="#000" stroke="#000" stroke-width="0.8" shape-rendering="crispEdges"/>
<rect x="192.35" y="538.78" width="1.95" height="11.98" fill="none" stroke="#5e5e5e" stroke-width="0.8" shape-rendering="crispEdges"/>
<rect x="192.35" y="533.98" width="1.95" height="4.80" fill="url(#pl)" stroke="#1a1a1a" stroke-width="0.8" shape-rendering="crispEdges"/>
<rect x="194.31" y="551.51" width="1.95" height="2.89" fill="#000" stroke="#000" stroke-width="0.8" shape-rendering="crispEdges"/>
<rect x="194.31" y="542.19" width="1.95" height="9.31" fill="none" stroke="#5e5e5e" stroke-width="0.8" shape-rendering="crispEdges"/>
<rect x="194.31" y="539.70" width="1.95" height="2.49" fill="url(#pl)" stroke="#1a1a1a" stroke-width="0.8" shape-rendering="crispEdges"/>
<rect x="196.26" y="552.41" width="1.95" height="1.99" fill="#000" stroke="#000" stroke-width="0.8" shape-rendering="crispEdges"/>
<rect x="196.26" y="545.45" width="1.95" height="6.96" fill="none" stroke="#5e5e5e" stroke-width="0.8" shape-rendering="crispEdges"/>
<rect x="196.26" y="543.43" width="1.95" height="2.02" fill="url(#pl)" stroke="#1a1a1a" stroke-width="0.8" shape-rendering="crispEdges"/>
<rect x="198.21" y="552.92" width="1.95" height="1.48" fill="#000" stroke="#000" stroke-width="0.8" shape-rendering="crispEdges"/>
<rect x="198.21" y="548.03" width="1.95" height="4.89" fill="none" stroke="#5e5e5e" stroke-width="0.8" shape-rendering="crispEdges"/>
<rect x="198.21" y="546.30" width="1.95" height="1.73" fill="url(#pl)" stroke="#1a1a1a" stroke-width="0.8" shape-rendering="crispEdges"/>
<rect x="200.17" y="553.23" width="1.95" height="1.17" fill="#000" stroke="#000" stroke-width="0.8" shape-rendering="crispEdges"/>
<rect x="200.17" y="549.05" width="1.95" height="4.18" fill="none" stroke="#5e5e5e" stroke-width="0.8" shape-rendering="crispEdges"/>
<rect x="200.17" y="547.87" width="1.95" height="1.18" fill="url(#pl)" stroke="#1a1a1a" stroke-width="0.8" shape-rendering="crispEdges"/>
<rect x="202.12" y="553.50" width="1.95" height="0.90" fill="#000" stroke="#000" stroke-width="0.8" shape-rendering="crispEdges"/>
<rect x="202.12" y="550.23" width="1.95" height="3.27" fill="none" stroke="#5e5e5e" stroke-width="0.8" shape-rendering="crispEdges"/>
<rect x="202.12" y="549.36" width="1.95" height="0.87" fill="url(#pl)" stroke="#1a1a1a" stroke-width="0.8" shape-rendering="crispEdges"/>
<rect x="204.07" y="553.69" width="1.95" height="0.71" fill="#000" stroke="#000" stroke-width="0.8" shape-rendering="crispEdges"/>
<rect x="204.07" y="551.20" width="1.95" height="2.49" fill="none" stroke="#5e5e5e" stroke-width="0.8" shape-rendering="crispEdges"/>
<rect x="204.07" y="550.35" width="1.95" height="0.85" fill="url(#pl)" stroke="#1a1a1a" stroke-width="0.8" shape-rendering="crispEdges"/>
<rect x="206.02" y="553.85" width="1.95" height="0.55" fill="#000" stroke="#000" stroke-width="0.8" shape-rendering="crispEdges"/>
<rect x="206.02" y="551.90" width="1.95" height="1.95" fill="none" stroke="#5e5e5e" stroke-width="0.8" shape-rendering="crispEdges"/>
<rect x="206.02" y="551.42" width="1.95" height="0.48" fill="url(#pl)" stroke="#1a1a1a" stroke-width="0.8" shape-rendering="crispEdges"/>
<rect x="207.98" y="553.94" width="1.95" height="0.46" fill="#000" stroke="#000" stroke-width="0.8" shape-rendering="crispEdges"/>
<rect x="207.98" y="552.26" width="1.95" height="1.69" fill="none" stroke="#5e5e5e" stroke-width="0.8" shape-rendering="crispEdges"/>
<rect x="207.98" y="551.81" width="1.95" height="0.45" fill="url(#pl)" stroke="#1a1a1a" stroke-width="0.8" shape-rendering="crispEdges"/>
<rect x="209.93" y="554.03" width="1.95" height="0.37" fill="#000" stroke="#000" stroke-width="0.8" shape-rendering="crispEdges"/>
<rect x="209.93" y="552.66" width="1.95" height="1.37" fill="none" stroke="#5e5e5e" stroke-width="0.8" shape-rendering="crispEdges"/>
<rect x="209.93" y="552.27" width="1.95" height="0.39" fill="url(#pl)" stroke="#1a1a1a" stroke-width="0.8" shape-rendering="crispEdges"/>
<rect x="211.88" y="554.11" width="1.95" height="0.29" fill="#000" stroke="#000" stroke-width="0.8" shape-rendering="crispEdges"/>
<rect x="211.88" y="552.99" width="1.95" height="1.11" fill="none" stroke="#5e5e5e" stroke-width="0.8" shape-rendering="crispEdges"/>
<rect x="211.88" y="552.73" width="1.95" height="0.27" fill="url(#pl)" stroke="#1a1a1a" stroke-width="0.8" shape-rendering="crispEdges"/>
<rect x="213.84" y="554.19" width="1.95" height="0.21" fill="#000" stroke="#000" stroke-width="0.8" shape-rendering="crispEdges"/>
<rect x="213.84" y="553.36" width="1.95" height="0.83" fill="none" stroke="#5e5e5e" stroke-width="0.8" shape-rendering="crispEdges"/>
<rect x="213.84" y="553.14" width="1.95" height="0.22" fill="url(#pl)" stroke="#1a1a1a" stroke-width="0.8" shape-rendering="crispEdges"/>
<rect x="215.79" y="554.21" width="1.95" height="0.19" fill="#000" stroke="#000" stroke-width="0.8" shape-rendering="crispEdges"/>
<rect x="215.79" y="553.47" width="1.95" height="0.74" fill="none" stroke="#5e5e5e" stroke-width="0.8" shape-rendering="crispEdges"/>
<rect x="215.79" y="553.30" width="1.95" height="0.17" fill="url(#pl)" stroke="#1a1a1a" stroke-width="0.8" shape-rendering="crispEdges"/>
<rect x="217.74" y="554.24" width="1.95" height="0.16" fill="#000" stroke="#000" stroke-width="0.8" shape-rendering="crispEdges"/>
<rect x="217.74" y="553.60" width="1.95" height="0.64" fill="none" stroke="#5e5e5e" stroke-width="0.8" shape-rendering="crispEdges"/>
<rect x="217.74" y="553.47" width="1.95" height="0.13" fill="url(#pl)" stroke="#1a1a1a" stroke-width="0.8" shape-rendering="crispEdges"/>
<rect x="219.70" y="554.26" width="1.95" height="0.14" fill="#000" stroke="#000" stroke-width="0.8" shape-rendering="crispEdges"/>
<rect x="219.70" y="553.78" width="1.95" height="0.49" fill="none" stroke="#5e5e5e" stroke-width="0.8" shape-rendering="crispEdges"/>
<rect x="219.70" y="553.64" width="1.95" height="0.14" fill="url(#pl)" stroke="#1a1a1a" stroke-width="0.8" shape-rendering="crispEdges"/>
<rect x="221.65" y="554.29" width="1.95" height="0.11" fill="#000" stroke="#000" stroke-width="0.8" shape-rendering="crispEdges"/>
<rect x="221.65" y="553.90" width="1.95" height="0.39" fill="none" stroke="#5e5e5e" stroke-width="0.8" shape-rendering="crispEdges"/>
<rect x="221.65" y="553.82" width="1.95" height="0.09" fill="url(#pl)" stroke="#1a1a1a" stroke-width="0.8" shape-rendering="crispEdges"/>
<rect x="223.60" y="554.32" width="1.95" height="0.08" fill="#000" stroke="#000" stroke-width="0.8" shape-rendering="crispEdges"/>
<rect x="223.60" y="554.06" width="1.95" height="0.26" fill="none" stroke="#5e5e5e" stroke-width="0.8" shape-rendering="crispEdges"/>
<rect x="223.60" y="553.98" width="1.95" height="0.07" fill="url(#pl)" stroke="#1a1a1a" stroke-width="0.8" shape-rendering="crispEdges"/>
<rect x="225.55" y="554.32" width="1.95" height="0.08" fill="#000" stroke="#000" stroke-width="0.8" shape-rendering="crispEdges"/>
<rect x="225.55" y="554.10" width="1.95" height="0.22" fill="none" stroke="#5e5e5e" stroke-width="0.8" shape-rendering="crispEdges"/>
<rect x="225.55" y="554.03" width="1.95" height="0.07" fill="url(#pl)" stroke="#1a1a1a" stroke-width="0.8" shape-rendering="crispEdges"/>
<rect x="227.51" y="554.33" width="1.95" height="0.07" fill="#000" stroke="#000" stroke-width="0.8" shape-rendering="crispEdges"/>
<rect x="227.51" y="554.14" width="1.95" height="0.19" fill="none" stroke="#5e5e5e" stroke-width="0.8" shape-rendering="crispEdges"/>
<rect x="227.51" y="554.08" width="1.95" height="0.05" fill="url(#pl)" stroke="#1a1a1a" stroke-width="0.8" shape-rendering="crispEdges"/>
<rect x="229.46" y="554.34" width="1.95" height="0.06" fill="#000" stroke="#000" stroke-width="0.8" shape-rendering="crispEdges"/>
<rect x="229.46" y="554.18" width="1.95" height="0.16" fill="none" stroke="#5e5e5e" stroke-width="0.8" shape-rendering="crispEdges"/>
<rect x="229.46" y="554.15" width="1.95" height="0.04" fill="url(#pl)" stroke="#1a1a1a" stroke-width="0.8" shape-rendering="crispEdges"/>
<rect x="231.41" y="554.35" width="1.95" height="0.05" fill="#000" stroke="#000" stroke-width="0.8" shape-rendering="crispEdges"/>
<rect x="231.41" y="554.23" width="1.95" height="0.12" fill="none" stroke="#5e5e5e" stroke-width="0.8" shape-rendering="crispEdges"/>
<rect x="231.41" y="554.22" width="1.95" height="0.01" fill="url(#pl)" stroke="#1a1a1a" stroke-width="0.8" shape-rendering="crispEdges"/>
<rect x="233.37" y="554.36" width="1.95" height="0.04" fill="#000" stroke="#000" stroke-width="0.8" shape-rendering="crispEdges"/>
<rect x="233.37" y="554.27" width="1.95" height="0.09" fill="none" stroke="#5e5e5e" stroke-width="0.8" shape-rendering="crispEdges"/>
<rect x="235.32" y="554.37" width="1.95" height="0.03" fill="#000" stroke="#000" stroke-width="0.8" shape-rendering="crispEdges"/>
<rect x="235.32" y="554.30" width="1.95" height="0.07" fill="none" stroke="#5e5e5e" stroke-width="0.8" shape-rendering="crispEdges"/>
<rect x="237.27" y="554.37" width="1.95" height="0.03" fill="#000" stroke="#000" stroke-width="0.8" shape-rendering="crispEdges"/>
<rect x="237.27" y="554.32" width="1.95" height="0.05" fill="none" stroke="#5e5e5e" stroke-width="0.8" shape-rendering="crispEdges"/>
<rect x="239.23" y="554.38" width="1.95" height="0.02" fill="#000" stroke="#000" stroke-width="0.8" shape-rendering="crispEdges"/>
<rect x="239.23" y="554.35" width="1.95" height="0.03" fill="none" stroke="#5e5e5e" stroke-width="0.8" shape-rendering="crispEdges"/>
<rect x="241.18" y="554.39" width="1.95" height="0.01" fill="#000" stroke="#000" stroke-width="0.8" shape-rendering="crispEdges"/>
<rect x="241.18" y="554.37" width="1.95" height="0.02" fill="none" stroke="#5e5e5e" stroke-width="0.8" shape-rendering="crispEdges"/>
<rect x="67.50" y="317.50" width="217.00" height="236.90" fill="none" stroke="#636363" stroke-width="1" shape-rendering="crispEdges"/>
<line x1="62.90" y1="554.40" x2="67.50" y2="554.40" stroke="#636363" stroke-width="1" shape-rendering="crispEdges"/>
<text transform="translate(61.80,560.90) scale(1,1.0)" font-family="Liberation Sans, sans-serif" font-size="13.8" text-anchor="end" fill="#1a1a1a">0</text>
<line x1="62.90" y1="511.66" x2="67.50" y2="511.66" stroke="#636363" stroke-width="1" shape-rendering="crispEdges"/>
<text transform="translate(61.80,518.16) scale(1,1.0)" font-family="Liberation Sans, sans-serif" font-size="13.8" text-anchor="end" fill="#1a1a1a">1 000</text>
<line x1="62.90" y1="468.92" x2="67.50" y2="468.92" stroke="#636363" stroke-width="1" shape-rendering="crispEdges"/>
<text transform="translate(61.80,475.42) scale(1,1.0)" font-family="Liberation Sans, sans-serif" font-size="13.8" text-anchor="end" fill="#1a1a1a">2 000</text>
<line x1="62.90" y1="426.18" x2="67.50" y2="426.18" stroke="#636363" stroke-width="1" shape-rendering="crispEdges"/>
<text transform="translate(61.80,432.68) scale(1,1.0)" font-family="Liberation Sans, sans-serif" font-size="13.8" text-anchor="end" fill="#1a1a1a">3 000</text>
<line x1="62.90" y1="383.44" x2="67.50" y2="383.44" stroke="#636363" stroke-width="1" shape-rendering="crispEdges"/>
<text transform="translate(61.80,389.94) scale(1,1.0)" font-family="Liberation Sans, sans-serif" font-size="13.8" text-anchor="end" fill="#1a1a1a">4 000</text>
<line x1="62.90" y1="340.70" x2="67.50" y2="340.70" stroke="#636363" stroke-width="1" shape-rendering="crispEdges"/>
<text transform="translate(61.80,347.20) scale(1,1.0)" font-family="Liberation Sans, sans-serif" font-size="13.8" text-anchor="end" fill="#1a1a1a">5 000</text>
<line x1="78.10" y1="554.40" x2="78.10" y2="559.10" stroke="#636363" stroke-width="1" shape-rendering="crispEdges"/>
<text transform="translate(78.10,572.20) scale(1,1.0)" font-family="Liberation Sans, sans-serif" font-size="13.8" text-anchor="middle" fill="#1a1a1a">−100</text>
<line x1="126.92" y1="554.40" x2="126.92" y2="559.10" stroke="#636363" stroke-width="1" shape-rendering="crispEdges"/>
<text transform="translate(126.92,572.20) scale(1,1.0)" font-family="Liberation Sans, sans-serif" font-size="13.8" text-anchor="middle" fill="#1a1a1a">−50</text>
<line x1="175.75" y1="554.40" x2="175.75" y2="559.10" stroke="#636363" stroke-width="1" shape-rendering="crispEdges"/>
<text transform="translate(175.75,572.20) scale(1,1.0)" font-family="Liberation Sans, sans-serif" font-size="13.8" text-anchor="middle" fill="#1a1a1a">0</text>
<line x1="224.57" y1="554.40" x2="224.57" y2="559.10" stroke="#636363" stroke-width="1" shape-rendering="crispEdges"/>
<text transform="translate(224.57,572.20) scale(1,1.0)" font-family="Liberation Sans, sans-serif" font-size="13.8" text-anchor="middle" fill="#1a1a1a">50</text>
<line x1="273.40" y1="554.40" x2="273.40" y2="559.10" stroke="#636363" stroke-width="1" shape-rendering="crispEdges"/>
<text transform="translate(273.40,572.20) scale(1,1.0)" font-family="Liberation Sans, sans-serif" font-size="13.8" text-anchor="middle" fill="#1a1a1a">100</text>
<text transform="translate(175.85,591.30) scale(1,1.0)" font-family="Liberation Sans, sans-serif" font-size="12.8" text-anchor="middle" fill="#1a1a1a" textLength="204.50" lengthAdjust="spacing">Score change in ODI between 1st</text>
<text transform="translate(175.80,603.30) scale(1,1.0)" font-family="Liberation Sans, sans-serif" font-size="12.8" text-anchor="middle" fill="#1a1a1a" textLength="128.60" lengthAdjust="spacing">and 2nd year postop</text>
<text transform="translate(12.90,434.50) rotate(-90) scale(1,1.0)" font-family="Liberation Sans, sans-serif" font-size="13.5" text-anchor="middle" fill="#1a1a1a" textLength="64.10" lengthAdjust="spacing">Frequency</text>
<rect x="286.20" y="319.40" width="11.00" height="10.40" fill="url(#pl)" stroke="#555" stroke-width="1"/>
<text transform="translate(299.00,329.90) scale(1,1.0)" font-family="Liberation Sans, sans-serif" font-size="13.5" text-anchor="start" fill="#1a1a1a" textLength="25.00" lengthAdjust="spacingAndGlyphs">LDH</text>
<rect x="286.20" y="334.60" width="11.00" height="10.40" fill="#fff" stroke="#777" stroke-width="1"/>
<text transform="translate(299.00,345.10) scale(1,1.0)" font-family="Liberation Sans, sans-serif" font-size="13.5" text-anchor="start" fill="#1a1a1a" textLength="19.30" lengthAdjust="spacingAndGlyphs">LSS</text>
<rect x="286.20" y="349.80" width="11.00" height="10.40" fill="#000" stroke="#000" stroke-width="1"/>
<text transform="translate(299.00,360.30) scale(1,1.0)" font-family="Liberation Sans, sans-serif" font-size="13.5" text-anchor="start" fill="#1a1a1a" textLength="28.40" lengthAdjust="spacingAndGlyphs">DDD</text>
<line x1="532.70" y1="12.50" x2="532.70" y2="237.50" stroke="#555" stroke-width="1.2" shape-rendering="crispEdges"/>
<rect x="434.02" y="237.44" width="1.96" height="0.06" fill="#000" stroke="#000" stroke-width="0.8" shape-rendering="crispEdges"/>
<rect x="434.02" y="237.39" width="1.96" height="0.06" fill="none" stroke="#5e5e5e" stroke-width="0.8" shape-rendering="crispEdges"/>
<rect x="434.02" y="237.34" width="1.96" height="0.05" fill="url(#pl)" stroke="#1a1a1a" stroke-width="0.8" shape-rendering="crispEdges"/>
<rect x="435.97" y="237.36" width="1.96" height="0.14" fill="#000" stroke="#000" stroke-width="0.8" shape-rendering="crispEdges"/>
<rect x="435.97" y="237.05" width="1.96" height="0.32" fill="none" stroke="#5e5e5e" stroke-width="0.8" shape-rendering="crispEdges"/>
<rect x="435.97" y="236.81" width="1.96" height="0.23" fill="url(#pl)" stroke="#1a1a1a" stroke-width="0.8" shape-rendering="crispEdges"/>
<rect x="437.93" y="237.25" width="1.96" height="0.25" fill="#000" stroke="#000" stroke-width="0.8" shape-rendering="crispEdges"/>
<rect x="437.93" y="236.67" width="1.96" height="0.58" fill="none" stroke="#5e5e5e" stroke-width="0.8" shape-rendering="crispEdges"/>
<rect x="437.93" y="236.32" width="1.96" height="0.35" fill="url(#pl)" stroke="#1a1a1a" stroke-width="0.8" shape-rendering="crispEdges"/>
<rect x="439.88" y="237.02" width="1.96" height="0.48" fill="#000" stroke="#000" stroke-width="0.8" shape-rendering="crispEdges"/>
<rect x="439.88" y="235.73" width="1.96" height="1.28" fill="none" stroke="#5e5e5e" stroke-width="0.8" shape-rendering="crispEdges"/>
<rect x="439.88" y="235.10" width="1.96" height="0.63" fill="url(#pl)" stroke="#1a1a1a" stroke-width="0.8" shape-rendering="crispEdges"/>
<rect x="441.84" y="236.92" width="1.96" height="0.58" fill="#000" stroke="#000" stroke-width="0.8" shape-rendering="crispEdges"/>
<rect x="441.84" y="235.47" width="1.96" height="1.45" fill="none" stroke="#5e5e5e" stroke-width="0.8" shape-rendering="crispEdges"/>
<rect x="441.84" y="234.71" width="1.96" height="0.76" fill="url(#pl)" stroke="#1a1a1a" stroke-width="0.8" shape-rendering="crispEdges"/>
<rect x="443.79" y="236.51" width="1.96" height="0.99" fill="#000" stroke="#000" stroke-width="0.8" shape-rendering="crispEdges"/>
<rect x="443.79" y="234.01" width="1.96" height="2.50" fill="none" stroke="#5e5e5e" stroke-width="0.8" shape-rendering="crispEdges"/>
<rect x="443.79" y="232.42" width="1.96" height="1.58" fill="url(#pl)" stroke="#1a1a1a" stroke-width="0.8" shape-rendering="crispEdges"/>
<rect x="445.74" y="236.52" width="1.96" height="0.98" fill="#000" stroke="#000" stroke-width="0.8" shape-rendering="crispEdges"/>
<rect x="445.74" y="234.19" width="1.96" height="2.33" fill="none" stroke="#5e5e5e" stroke-width="0.8" shape-rendering="crispEdges"/>
<rect x="445.74" y="233.17" width="1.96" height="1.02" fill="url(#pl)" stroke="#1a1a1a" stroke-width="0.8" shape-rendering="crispEdges"/>
<rect x="447.70" y="236.29" width="1.96" height="1.21" fill="#000" stroke="#000" stroke-width="0.8" shape-rendering="crispEdges"/>
<rect x="447.70" y="233.61" width="1.96" height="2.68" fill="none" stroke="#5e5e5e" stroke-width="0.8" shape-rendering="crispEdges"/>
<rect x="447.70" y="232.10" width="1.96" height="1.50" fill="url(#pl)" stroke="#1a1a1a" stroke-width="0.8" shape-rendering="crispEdges"/>
<rect x="449.65" y="235.80" width="1.96" height="1.70" fill="#000" stroke="#000" stroke-width="0.8" shape-rendering="crispEdges"/>
<rect x="449.65" y="232.04" width="1.96" height="3.77" fill="none" stroke="#5e5e5e" stroke-width="0.8" shape-rendering="crispEdges"/>
<rect x="449.65" y="229.82" width="1.96" height="2.22" fill="url(#pl)" stroke="#1a1a1a" stroke-width="0.8" shape-rendering="crispEdges"/>
<rect x="451.61" y="235.85" width="1.96" height="1.65" fill="#000" stroke="#000" stroke-width="0.8" shape-rendering="crispEdges"/>
<rect x="451.61" y="232.28" width="1.96" height="3.57" fill="none" stroke="#5e5e5e" stroke-width="0.8" shape-rendering="crispEdges"/>
<rect x="451.61" y="230.00" width="1.96" height="2.28" fill="url(#pl)" stroke="#1a1a1a" stroke-width="0.8" shape-rendering="crispEdges"/>
<rect x="453.56" y="235.01" width="1.96" height="2.49" fill="#000" stroke="#000" stroke-width="0.8" shape-rendering="crispEdges"/>
<rect x="453.56" y="229.16" width="1.96" height="5.85" fill="none" stroke="#5e5e5e" stroke-width="0.8" shape-rendering="crispEdges"/>
<rect x="453.56" y="225.70" width="1.96" height="3.46" fill="url(#pl)" stroke="#1a1a1a" stroke-width="0.8" shape-rendering="crispEdges"/>
<rect x="455.51" y="235.41" width="1.96" height="2.09" fill="#000" stroke="#000" stroke-width="0.8" shape-rendering="crispEdges"/>
<rect x="455.51" y="230.65" width="1.96" height="4.76" fill="none" stroke="#5e5e5e" stroke-width="0.8" shape-rendering="crispEdges"/>
<rect x="455.51" y="227.83" width="1.96" height="2.82" fill="url(#pl)" stroke="#1a1a1a" stroke-width="0.8" shape-rendering="crispEdges"/>
<rect x="457.47" y="234.90" width="1.96" height="2.60" fill="#000" stroke="#000" stroke-width="0.8" shape-rendering="crispEdges"/>
<rect x="457.47" y="229.48" width="1.96" height="5.42" fill="none" stroke="#5e5e5e" stroke-width="0.8" shape-rendering="crispEdges"/>
<rect x="457.47" y="226.28" width="1.96" height="3.20" fill="url(#pl)" stroke="#1a1a1a" stroke-width="0.8" shape-rendering="crispEdges"/>
<rect x="459.42" y="233.97" width="1.96" height="3.53" fill="#000" stroke="#000" stroke-width="0.8" shape-rendering="crispEdges"/>
<rect x="459.42" y="226.83" width="1.96" height="7.15" fill="none" stroke="#5e5e5e" stroke-width="0.8" shape-rendering="crispEdges"/>
<rect x="459.42" y="222.44" width="1.96" height="4.38" fill="url(#pl)" stroke="#1a1a1a" stroke-width="0.8" shape-rendering="crispEdges"/>
<rect x="461.38" y="234.37" width="1.96" height="3.13" fill="#000" stroke="#000" stroke-width="0.8" shape-rendering="crispEdges"/>
<rect x="461.38" y="227.84" width="1.96" height="6.53" fill="none" stroke="#5e5e5e" stroke-width="0.8" shape-rendering="crispEdges"/>
<rect x="461.38" y="224.62" width="1.96" height="3.23" fill="url(#pl)" stroke="#1a1a1a" stroke-width="0.8" shape-rendering="crispEdges"/>
<rect x="463.33" y="232.74" width="1.96" height="4.76" fill="#000" stroke="#000" stroke-width="0.8" shape-rendering="crispEdges"/>
<rect x="463.33" y="223.58" width="1.96" height="9.16" fill="none" stroke="#5e5e5e" stroke-width="0.8" shape-rendering="crispEdges"/>
<rect x="463.33" y="218.16" width="1.96" height="5.42" fill="url(#pl)" stroke="#1a1a1a" stroke-width="0.8" shape-rendering="crispEdges"/>
<rect x="465.28" y="233.89" width="1.96" height="3.61" fill="#000" stroke="#000" stroke-width="0.8" shape-rendering="crispEdges"/>
<rect x="465.28" y="226.80" width="1.96" height="7.09" fill="none" stroke="#5e5e5e" stroke-width="0.8" shape-rendering="crispEdges"/>
<rect x="465.28" y="222.80" width="1.96" height="3.99" fill="url(#pl)" stroke="#1a1a1a" stroke-width="0.8" shape-rendering="crispEdges"/>
<rect x="467.24" y="233.79" width="1.96" height="3.71" fill="#000" stroke="#000" stroke-width="0.8" shape-rendering="crispEdges"/>
<rect x="467.24" y="226.69" width="1.96" height="7.10" fill="none" stroke="#5e5e5e" stroke-width="0.8" shape-rendering="crispEdges"/>
<rect x="467.24" y="222.03" width="1.96" height="4.66" fill="url(#pl)" stroke="#1a1a1a" stroke-width="0.8" shape-rendering="crispEdges"/>
<rect x="469.19" y="232.92" width="1.96" height="4.58" fill="#000" stroke="#000" stroke-width="0.8" shape-rendering="crispEdges"/>
<rect x="469.19" y="223.71" width="1.96" height="9.21" fill="none" stroke="#5e5e5e" stroke-width="0.8" shape-rendering="crispEdges"/>
<rect x="469.19" y="218.14" width="1.96" height="5.56" fill="url(#pl)" stroke="#1a1a1a" stroke-width="0.8" shape-rendering="crispEdges"/>
<rect x="471.15" y="233.40" width="1.96" height="4.10" fill="#000" stroke="#000" stroke-width="0.8" shape-rendering="crispEdges"/>
<rect x="471.15" y="225.86" width="1.96" height="7.54" fill="none" stroke="#5e5e5e" stroke-width="0.8" shape-rendering="crispEdges"/>
<rect x="471.15" y="220.66" width="1.96" height="5.19" fill="url(#pl)" stroke="#1a1a1a" stroke-width="0.8" shape-rendering="crispEdges"/>
<rect x="473.10" y="231.53" width="1.96" height="5.97" fill="#000" stroke="#000" stroke-width="0.8" shape-rendering="crispEdges"/>
<rect x="473.10" y="220.32" width="1.96" height="11.21" fill="none" stroke="#5e5e5e" stroke-width="0.8" shape-rendering="crispEdges"/>
<rect x="473.10" y="212.00" width="1.96" height="8.32" fill="url(#pl)" stroke="#1a1a1a" stroke-width="0.8" shape-rendering="crispEdges"/>
<rect x="475.05" y="233.30" width="1.96" height="4.20" fill="#000" stroke="#000" stroke-width="0.8" shape-rendering="crispEdges"/>
<rect x="475.05" y="225.27" width="1.96" height="8.03" fill="none" stroke="#5e5e5e" stroke-width="0.8" shape-rendering="crispEdges"/>
<rect x="475.05" y="218.84" width="1.96" height="6.42" fill="url(#pl)" stroke="#1a1a1a" stroke-width="0.8" shape-rendering="crispEdges"/>
<rect x="477.01" y="233.06" width="1.96" height="4.44" fill="#000" stroke="#000" stroke-width="0.8" shape-rendering="crispEdges"/>
<rect x="477.01" y="224.32" width="1.96" height="8.74" fill="none" stroke="#5e5e5e" stroke-width="0.8" shape-rendering="crispEdges"/>
<rect x="477.01" y="218.82" width="1.96" height="5.50" fill="url(#pl)" stroke="#1a1a1a" stroke-width="0.8" shape-rendering="crispEdges"/>
<rect x="478.96" y="231.90" width="1.96" height="5.60" fill="#000" stroke="#000" stroke-width="0.8" shape-rendering="crispEdges"/>
<rect x="478.96" y="221.79" width="1.96" height="10.11" fill="none" stroke="#5e5e5e" stroke-width="0.8" shape-rendering="crispEdges"/>
<rect x="478.96" y="215.62" width="1.96" height="6.17" fill="url(#pl)" stroke="#1a1a1a" stroke-width="0.8" shape-rendering="crispEdges"/>
<rect x="480.92" y="233.05" width="1.96" height="4.45" fill="#000" stroke="#000" stroke-width="0.8" shape-rendering="crispEdges"/>
<rect x="480.92" y="223.91" width="1.96" height="9.14" fill="none" stroke="#5e5e5e" stroke-width="0.8" shape-rendering="crispEdges"/>
<rect x="480.92" y="217.97" width="1.96" height="5.94" fill="url(#pl)" stroke="#1a1a1a" stroke-width="0.8" shape-rendering="crispEdges"/>
<rect x="482.87" y="230.96" width="1.96" height="6.54" fill="#000" stroke="#000" stroke-width="0.8" shape-rendering="crispEdges"/>
<rect x="482.87" y="218.96" width="1.96" height="12.00" fill="none" stroke="#5e5e5e" stroke-width="0.8" shape-rendering="crispEdges"/>
<rect x="482.87" y="209.90" width="1.96" height="9.06" fill="url(#pl)" stroke="#1a1a1a" stroke-width="0.8" shape-rendering="crispEdges"/>
<rect x="484.82" y="232.73" width="1.96" height="4.77" fill="#000" stroke="#000" stroke-width="0.8" shape-rendering="crispEdges"/>
<rect x="484.82" y="223.20" width="1.96" height="9.53" fill="none" stroke="#5e5e5e" stroke-width="0.8" shape-rendering="crispEdges"/>
<rect x="484.82" y="218.22" width="1.96" height="4.98" fill="url(#pl)" stroke="#1a1a1a" stroke-width="0.8" shape-rendering="crispEdges"/>
<rect x="486.78" y="232.66" width="1.96" height="4.84" fill="#000" stroke="#000" stroke-width="0.8" shape-rendering="crispEdges"/>
<rect x="486.78" y="223.84" width="1.96" height="8.82" fill="none" stroke="#5e5e5e" stroke-width="0.8" shape-rendering="crispEdges"/>
<rect x="486.78" y="216.88" width="1.96" height="6.96" fill="url(#pl)" stroke="#1a1a1a" stroke-width="0.8" shape-rendering="crispEdges"/>
<rect x="488.73" y="231.63" width="1.96" height="5.87" fill="#000" stroke="#000" stroke-width="0.8" shape-rendering="crispEdges"/>
<rect x="488.73" y="220.07" width="1.96" height="11.56" fill="none" stroke="#5e5e5e" stroke-width="0.8" shape-rendering="crispEdges"/>
<rect x="488.73" y="212.13" width="1.96" height="7.95" fill="url(#pl)" stroke="#1a1a1a" stroke-width="0.8" shape-rendering="crispEdges"/>
<rect x="490.69" y="232.62" width="1.96" height="4.88" fill="#000" stroke="#000" stroke-width="0.8" shape-rendering="crispEdges"/>
<rect x="490.69" y="223.30" width="1.96" height="9.32" fill="none" stroke="#5e5e5e" stroke-width="0.8" shape-rendering="crispEdges"/>
<rect x="490.69" y="216.05" width="1.96" height="7.25" fill="url(#pl)" stroke="#1a1a1a" stroke-width="0.8" shape-rendering="crispEdges"/>
<rect x="492.64" y="230.73" width="1.96" height="6.77" fill="#000" stroke="#000" stroke-width="0.8" shape-rendering="crispEdges"/>
<rect x="492.64" y="217.07" width="1.96" height="13.65" fill="none" stroke="#5e5e5e" stroke-width="0.8" shape-rendering="crispEdges"/>
<rect x="492.64" y="208.66" width="1.96" height="8.41" fill="url(#pl)" stroke="#1a1a1a" stroke-width="0.8" shape-rendering="crispEdges"/>
<rect x="494.59" y="232.38" width="1.96" height="5.12" fill="#000" stroke="#000" stroke-width="0.8" shape-rendering="crispEdges"/>
<rect x="494.59" y="223.35" width="1.96" height="9.03" fill="none" stroke="#5e5e5e" stroke-width="0.8" shape-rendering="crispEdges"/>
<rect x="494.59" y="216.23" width="1.96" height="7.12" fill="url(#pl)" stroke="#1a1a1a" stroke-width="0.8" shape-rendering="crispEdges"/>
<rect x="496.55" y="232.62" width="1.96" height="4.88" fill="#000" stroke="#000" stroke-width="0.8" shape-rendering="crispEdges"/>
<rect x="496.55" y="222.73" width="1.96" height="9.90" fill="none" stroke="#5e5e5e" stroke-width="0.8" shape-rendering="crispEdges"/>
<rect x="496.55" y="215.39" width="1.96" height="7.34" fill="url(#pl)" stroke="#1a1a1a" stroke-width="0.8" shape-rendering="crispEdges"/>
<rect x="498.50" y="231.52" width="1.96" height="5.98" fill="#000" stroke="#000" stroke-width="0.8" shape-rendering="crispEdges"/>
<rect x="498.50" y="219.68" width="1.96" height="11.84" fill="none" stroke="#5e5e5e" stroke-width="0.8" shape-rendering="crispEdges"/>
<rect x="498.50" y="210.44" width="1.96" height="9.24" fill="url(#pl)" stroke="#1a1a1a" stroke-width="0.8" shape-rendering="crispEdges"/>
<rect x="500.46" y="232.59" width="1.96" height="4.91" fill="#000" stroke="#000" stroke-width="0.8" shape-rendering="crispEdges"/>
<rect x="500.46" y="222.12" width="1.96" height="10.47" fill="none" stroke="#5e5e5e" stroke-width="0.8" shape-rendering="crispEdges"/>
<rect x="500.46" y="216.10" width="1.96" height="6.02" fill="url(#pl)" stroke="#1a1a1a" stroke-width="0.8" shape-rendering="crispEdges"/>
<rect x="502.41" y="230.46" width="1.96" height="7.04" fill="#000" stroke="#000" stroke-width="0.8" shape-rendering="crispEdges"/>
<rect x="502.41" y="217.47" width="1.96" height="12.99" fill="none" stroke="#5e5e5e" stroke-width="0.8" shape-rendering="crispEdges"/>
<rect x="502.41" y="207.23" width="1.96" height="10.23" fill="url(#pl)" stroke="#1a1a1a" stroke-width="0.8" shape-rendering="crispEdges"/>
<rect x="504.36" y="232.49" width="1.96" height="5.01" fill="#000" stroke="#000" stroke-width="0.8" shape-rendering="crispEdges"/>
<rect x="504.36" y="222.48" width="1.96" height="10.01" fill="none" stroke="#5e5e5e" stroke-width="0.8" shape-rendering="crispEdges"/>
<rect x="504.36" y="215.58" width="1.96" height="6.90" fill="url(#pl)" stroke="#1a1a1a" stroke-width="0.8" shape-rendering="crispEdges"/>
<rect x="506.32" y="232.50" width="1.96" height="5.00" fill="#000" stroke="#000" stroke-width="0.8" shape-rendering="crispEdges"/>
<rect x="506.32" y="222.78" width="1.96" height="9.73" fill="none" stroke="#5e5e5e" stroke-width="0.8" shape-rendering="crispEdges"/>
<rect x="506.32" y="213.79" width="1.96" height="8.99" fill="url(#pl)" stroke="#1a1a1a" stroke-width="0.8" shape-rendering="crispEdges"/>
<rect x="508.27" y="231.31" width="1.96" height="6.19" fill="#000" stroke="#000" stroke-width="0.8" shape-rendering="crispEdges"/>
<rect x="508.27" y="217.75" width="1.96" height="13.56" fill="none" stroke="#5e5e5e" stroke-width="0.8" shape-rendering="crispEdges"/>
<rect x="508.27" y="208.84" width="1.96" height="8.92" fill="url(#pl)" stroke="#1a1a1a" stroke-width="0.8" shape-rendering="crispEdges"/>
<rect x="510.23" y="232.42" width="1.96" height="5.08" fill="#000" stroke="#000" stroke-width="0.8" shape-rendering="crispEdges"/>
<rect x="510.23" y="221.38" width="1.96" height="11.04" fill="none" stroke="#5e5e5e" stroke-width="0.8" shape-rendering="crispEdges"/>
<rect x="510.23" y="213.84" width="1.96" height="7.54" fill="url(#pl)" stroke="#1a1a1a" stroke-width="0.8" shape-rendering="crispEdges"/>
<rect x="512.18" y="229.99" width="1.96" height="7.51" fill="#000" stroke="#000" stroke-width="0.8" shape-rendering="crispEdges"/>
<rect x="512.18" y="215.13" width="1.96" height="14.86" fill="none" stroke="#5e5e5e" stroke-width="0.8" shape-rendering="crispEdges"/>
<rect x="512.18" y="205.74" width="1.96" height="9.39" fill="url(#pl)" stroke="#1a1a1a" stroke-width="0.8" shape-rendering="crispEdges"/>
<rect x="514.13" y="232.15" width="1.96" height="5.35" fill="#000" stroke="#000" stroke-width="0.8" shape-rendering="crispEdges"/>
<rect x="514.13" y="221.47" width="1.96" height="10.68" fill="none" stroke="#5e5e5e" stroke-width="0.8" shape-rendering="crispEdges"/>
<rect x="514.13" y="212.72" width="1.96" height="8.75" fill="url(#pl)" stroke="#1a1a1a" stroke-width="0.8" shape-rendering="crispEdges"/>
<rect x="516.09" y="232.20" width="1.96" height="5.30" fill="#000" stroke="#000" stroke-width="0.8" shape-rendering="crispEdges"/>
<rect x="516.09" y="221.34" width="1.96" height="10.86" fill="none" stroke="#5e5e5e" stroke-width="0.8" shape-rendering="crispEdges"/>
<rect x="516.09" y="212.09" width="1.96" height="9.25" fill="url(#pl)" stroke="#1a1a1a" stroke-width="0.8" shape-rendering="crispEdges"/>
<rect x="518.04" y="231.18" width="1.96" height="6.32" fill="#000" stroke="#000" stroke-width="0.8" shape-rendering="crispEdges"/>
<rect x="518.04" y="217.65" width="1.96" height="13.54" fill="none" stroke="#5e5e5e" stroke-width="0.8" shape-rendering="crispEdges"/>
<rect x="518.04" y="207.20" width="1.96" height="10.44" fill="url(#pl)" stroke="#1a1a1a" stroke-width="0.8" shape-rendering="crispEdges"/>
<rect x="520.00" y="232.33" width="1.96" height="5.17" fill="#000" stroke="#000" stroke-width="0.8" shape-rendering="crispEdges"/>
<rect x="520.00" y="220.88" width="1.96" height="11.44" fill="none" stroke="#5e5e5e" stroke-width="0.8" shape-rendering="crispEdges"/>
<rect x="520.00" y="212.58" width="1.96" height="8.31" fill="url(#pl)" stroke="#1a1a1a" stroke-width="0.8" shape-rendering="crispEdges"/>
<rect x="521.95" y="229.80" width="1.96" height="7.70" fill="#000" stroke="#000" stroke-width="0.8" shape-rendering="crispEdges"/>
<rect x="521.95" y="214.79" width="1.96" height="15.00" fill="none" stroke="#5e5e5e" stroke-width="0.8" shape-rendering="crispEdges"/>
<rect x="521.95" y="202.01" width="1.96" height="12.79" fill="url(#pl)" stroke="#1a1a1a" stroke-width="0.8" shape-rendering="crispEdges"/>
<rect x="523.90" y="231.84" width="1.96" height="5.66" fill="#000" stroke="#000" stroke-width="0.8" shape-rendering="crispEdges"/>
<rect x="523.90" y="220.90" width="1.96" height="10.94" fill="none" stroke="#5e5e5e" stroke-width="0.8" shape-rendering="crispEdges"/>
<rect x="523.90" y="210.82" width="1.96" height="10.08" fill="url(#pl)" stroke="#1a1a1a" stroke-width="0.8" shape-rendering="crispEdges"/>
<rect x="525.86" y="231.87" width="1.96" height="5.63" fill="#000" stroke="#000" stroke-width="0.8" shape-rendering="crispEdges"/>
<rect x="525.86" y="219.97" width="1.96" height="11.90" fill="none" stroke="#5e5e5e" stroke-width="0.8" shape-rendering="crispEdges"/>
<rect x="525.86" y="211.16" width="1.96" height="8.81" fill="url(#pl)" stroke="#1a1a1a" stroke-width="0.8" shape-rendering="crispEdges"/>
<rect x="527.81" y="230.62" width="1.96" height="6.88" fill="#000" stroke="#000" stroke-width="0.8" shape-rendering="crispEdges"/>
<rect x="527.81" y="216.12" width="1.96" height="14.50" fill="none" stroke="#5e5e5e" stroke-width="0.8" shape-rendering="crispEdges"/>
<rect x="527.81" y="204.33" width="1.96" height="11.78" fill="url(#pl)" stroke="#1a1a1a" stroke-width="0.8" shape-rendering="crispEdges"/>
<rect x="529.77" y="231.81" width="1.96" height="5.69" fill="#000" stroke="#000" stroke-width="0.8" shape-rendering="crispEdges"/>
<rect x="529.77" y="217.48" width="1.96" height="14.32" fill="none" stroke="#5e5e5e" stroke-width="0.8" shape-rendering="crispEdges"/>
<rect x="529.77" y="207.60" width="1.96" height="9.89" fill="url(#pl)" stroke="#1a1a1a" stroke-width="0.8" shape-rendering="crispEdges"/>
<rect x="531.72" y="230.32" width="1.96" height="7.18" fill="#000" stroke="#000" stroke-width="0.8" shape-rendering="crispEdges"/>
<rect x="531.72" y="216.11" width="1.96" height="14.21" fill="none" stroke="#5e5e5e" stroke-width="0.8" shape-rendering="crispEdges"/>
<rect x="531.72" y="190.07" width="1.96" height="26.04" fill="url(#pl)" stroke="#1a1a1a" stroke-width="0.8" shape-rendering="crispEdges"/>
<rect x="533.67" y="232.39" width="1.96" height="5.11" fill="#000" stroke="#000" stroke-width="0.8" shape-rendering="crispEdges"/>
<rect x="533.67" y="219.17" width="1.96" height="13.22" fill="none" stroke="#5e5e5e" stroke-width="0.8" shape-rendering="crispEdges"/>
<rect x="533.67" y="212.60" width="1.96" height="6.56" fill="url(#pl)" stroke="#1a1a1a" stroke-width="0.8" shape-rendering="crispEdges"/>
<rect x="535.63" y="232.70" width="1.96" height="4.80" fill="#000" stroke="#000" stroke-width="0.8" shape-rendering="crispEdges"/>
<rect x="535.63" y="219.75" width="1.96" height="12.95" fill="none" stroke="#5e5e5e" stroke-width="0.8" shape-rendering="crispEdges"/>
<rect x="535.63" y="214.26" width="1.96" height="5.49" fill="url(#pl)" stroke="#1a1a1a" stroke-width="0.8" shape-rendering="crispEdges"/>
<rect x="537.58" y="232.54" width="1.96" height="4.96" fill="#000" stroke="#000" stroke-width="0.8" shape-rendering="crispEdges"/>
<rect x="537.58" y="218.45" width="1.96" height="14.09" fill="none" stroke="#5e5e5e" stroke-width="0.8" shape-rendering="crispEdges"/>
<rect x="537.58" y="210.79" width="1.96" height="7.66" fill="url(#pl)" stroke="#1a1a1a" stroke-width="0.8" shape-rendering="crispEdges"/>
<rect x="539.54" y="233.90" width="1.96" height="3.60" fill="#000" stroke="#000" stroke-width="0.8" shape-rendering="crispEdges"/>
<rect x="539.54" y="222.14" width="1.96" height="11.76" fill="none" stroke="#5e5e5e" stroke-width="0.8" shape-rendering="crispEdges"/>
<rect x="539.54" y="219.02" width="1.96" height="3.12" fill="url(#pl)" stroke="#1a1a1a" stroke-width="0.8" shape-rendering="crispEdges"/>
<rect x="541.49" y="233.16" width="1.96" height="4.34" fill="#000" stroke="#000" stroke-width="0.8" shape-rendering="crispEdges"/>
<rect x="541.49" y="218.98" width="1.96" height="14.18" fill="none" stroke="#5e5e5e" stroke-width="0.8" shape-rendering="crispEdges"/>
<rect x="541.49" y="213.28" width="1.96" height="5.70" fill="url(#pl)" stroke="#1a1a1a" stroke-width="0.8" shape-rendering="crispEdges"/>
<rect x="543.44" y="234.58" width="1.96" height="2.92" fill="#000" stroke="#000" stroke-width="0.8" shape-rendering="crispEdges"/>
<rect x="543.44" y="225.99" width="1.96" height="8.59" fill="none" stroke="#5e5e5e" stroke-width="0.8" shape-rendering="crispEdges"/>
<rect x="543.44" y="223.10" width="1.96" height="2.88" fill="url(#pl)" stroke="#1a1a1a" stroke-width="0.8" shape-rendering="crispEdges"/>
<rect x="545.40" y="235.09" width="1.96" height="2.41" fill="#000" stroke="#000" stroke-width="0.8" shape-rendering="crispEdges"/>
<rect x="545.40" y="227.39" width="1.96" height="7.71" fill="none" stroke="#5e5e5e" stroke-width="0.8" shape-rendering="crispEdges"/>
<rect x="545.40" y="224.90" width="1.96" height="2.49" fill="url(#pl)" stroke="#1a1a1a" stroke-width="0.8" shape-rendering="crispEdges"/>
<rect x="547.35" y="234.84" width="1.96" height="2.66" fill="#000" stroke="#000" stroke-width="0.8" shape-rendering="crispEdges"/>
<rect x="547.35" y="226.11" width="1.96" height="8.73" fill="none" stroke="#5e5e5e" stroke-width="0.8" shape-rendering="crispEdges"/>
<rect x="547.35" y="223.34" width="1.96" height="2.77" fill="url(#pl)" stroke="#1a1a1a" stroke-width="0.8" shape-rendering="crispEdges"/>
<rect x="549.31" y="235.40" width="1.96" height="2.10" fill="#000" stroke="#000" stroke-width="0.8" shape-rendering="crispEdges"/>
<rect x="549.31" y="229.19" width="1.96" height="6.22" fill="none" stroke="#5e5e5e" stroke-width="0.8" shape-rendering="crispEdges"/>
<rect x="549.31" y="226.78" width="1.96" height="2.40" fill="url(#pl)" stroke="#1a1a1a" stroke-width="0.8" shape-rendering="crispEdges"/>
<rect x="551.26" y="235.00" width="1.96" height="2.50" fill="#000" stroke="#000" stroke-width="0.8" shape-rendering="crispEdges"/>
<rect x="551.26" y="227.10" width="1.96" height="7.90" fill="none" stroke="#5e5e5e" stroke-width="0.8" shape-rendering="crispEdges"/>
<rect x="551.26" y="224.62" width="1.96" height="2.48" fill="url(#pl)" stroke="#1a1a1a" stroke-width="0.8" shape-rendering="crispEdges"/>
<rect x="553.21" y="235.81" width="1.96" height="1.69" fill="#000" stroke="#000" stroke-width="0.8" shape-rendering="crispEdges"/>
<rect x="553.21" y="230.82" width="1.96" height="4.99" fill="none" stroke="#5e5e5e" stroke-width="0.8" shape-rendering="crispEdges"/>
<rect x="553.21" y="229.01" width="1.96" height="1.81" fill="url(#pl)" stroke="#1a1a1a" stroke-width="0.8" shape-rendering="crispEdges"/>
<rect x="555.17" y="236.07" width="1.96" height="1.43" fill="#000" stroke="#000" stroke-width="0.8" shape-rendering="crispEdges"/>
<rect x="555.17" y="231.74" width="1.96" height="4.33" fill="none" stroke="#5e5e5e" stroke-width="0.8" shape-rendering="crispEdges"/>
<rect x="555.17" y="229.70" width="1.96" height="2.04" fill="url(#pl)" stroke="#1a1a1a" stroke-width="0.8" shape-rendering="crispEdges"/>
<rect x="557.12" y="235.91" width="1.96" height="1.59" fill="#000" stroke="#000" stroke-width="0.8" shape-rendering="crispEdges"/>
<rect x="557.12" y="230.91" width="1.96" height="5.00" fill="none" stroke="#5e5e5e" stroke-width="0.8" shape-rendering="crispEdges"/>
<rect x="557.12" y="229.32" width="1.96" height="1.59" fill="url(#pl)" stroke="#1a1a1a" stroke-width="0.8" shape-rendering="crispEdges"/>
<rect x="559.08" y="236.36" width="1.96" height="1.14" fill="#000" stroke="#000" stroke-width="0.8" shape-rendering="crispEdges"/>
<rect x="559.08" y="232.56" width="1.96" height="3.80" fill="none" stroke="#5e5e5e" stroke-width="0.8" shape-rendering="crispEdges"/>
<rect x="559.08" y="231.62" width="1.96" height="0.94" fill="url(#pl)" stroke="#1a1a1a" stroke-width="0.8" shape-rendering="crispEdges"/>
<rect x="561.03" y="236.15" width="1.96" height="1.35" fill="#000" stroke="#000" stroke-width="0.8" shape-rendering="crispEdges"/>
<rect x="561.03" y="231.84" width="1.96" height="4.32" fill="none" stroke="#5e5e5e" stroke-width="0.8" shape-rendering="crispEdges"/>
<rect x="561.03" y="230.47" width="1.96" height="1.37" fill="url(#pl)" stroke="#1a1a1a" stroke-width="0.8" shape-rendering="crispEdges"/>
<rect x="562.98" y="236.57" width="1.96" height="0.93" fill="#000" stroke="#000" stroke-width="0.8" shape-rendering="crispEdges"/>
<rect x="562.98" y="233.77" width="1.96" height="2.79" fill="none" stroke="#5e5e5e" stroke-width="0.8" shape-rendering="crispEdges"/>
<rect x="562.98" y="232.66" width="1.96" height="1.11" fill="url(#pl)" stroke="#1a1a1a" stroke-width="0.8" shape-rendering="crispEdges"/>
<rect x="564.94" y="236.66" width="1.96" height="0.84" fill="#000" stroke="#000" stroke-width="0.8" shape-rendering="crispEdges"/>
<rect x="564.94" y="233.92" width="1.96" height="2.74" fill="none" stroke="#5e5e5e" stroke-width="0.8" shape-rendering="crispEdges"/>
<rect x="564.94" y="233.13" width="1.96" height="0.78" fill="url(#pl)" stroke="#1a1a1a" stroke-width="0.8" shape-rendering="crispEdges"/>
<rect x="566.89" y="236.59" width="1.96" height="0.91" fill="#000" stroke="#000" stroke-width="0.8" shape-rendering="crispEdges"/>
<rect x="566.89" y="233.76" width="1.96" height="2.83" fill="none" stroke="#5e5e5e" stroke-width="0.8" shape-rendering="crispEdges"/>
<rect x="566.89" y="232.98" width="1.96" height="0.78" fill="url(#pl)" stroke="#1a1a1a" stroke-width="0.8" shape-rendering="crispEdges"/>
<rect x="568.85" y="236.84" width="1.96" height="0.66" fill="#000" stroke="#000" stroke-width="0.8" shape-rendering="crispEdges"/>
<rect x="568.85" y="234.85" width="1.96" height="1.99" fill="none" stroke="#5e5e5e" stroke-width="0.8" shape-rendering="crispEdges"/>
<rect x="568.85" y="234.12" width="1.96" height="0.73" fill="url(#pl)" stroke="#1a1a1a" stroke-width="0.8" shape-rendering="crispEdges"/>
<rect x="570.80" y="236.69" width="1.96" height="0.81" fill="#000" stroke="#000" stroke-width="0.8" shape-rendering="crispEdges"/>
<rect x="570.80" y="234.31" width="1.96" height="2.38" fill="none" stroke="#5e5e5e" stroke-width="0.8" shape-rendering="crispEdges"/>
<rect x="570.80" y="233.60" width="1.96" height="0.71" fill="url(#pl)" stroke="#1a1a1a" stroke-width="0.8" shape-rendering="crispEdges"/>
<rect x="572.75" y="236.96" width="1.96" height="0.54" fill="#000" stroke="#000" stroke-width="0.8" shape-rendering="crispEdges"/>
<rect x="572.75" y="235.37" width="1.96" height="1.59" fill="none" stroke="#5e5e5e" stroke-width="0.8" shape-rendering="crispEdges"/>
<rect x="572.75" y="234.81" width="1.96" height="0.56" fill="url(#pl)" stroke="#1a1a1a" stroke-width="0.8" shape-rendering="crispEdges"/>
<rect x="574.71" y="237.03" width="1.96" height="0.47" fill="#000" stroke="#000" stroke-width="0.8" shape-rendering="crispEdges"/>
<rect x="574.71" y="235.59" width="1.96" height="1.45" fill="none" stroke="#5e5e5e" stroke-width="0.8" shape-rendering="crispEdges"/>
<rect x="574.71" y="235.03" width="1.96" height="0.56" fill="url(#pl)" stroke="#1a1a1a" stroke-width="0.8" shape-rendering="crispEdges"/>
<rect x="576.66" y="236.94" width="1.96" height="0.56" fill="#000" stroke="#000" stroke-width="0.8" shape-rendering="crispEdges"/>
<rect x="576.66" y="235.32" width="1.96" height="1.62" fill="none" stroke="#5e5e5e" stroke-width="0.8" shape-rendering="crispEdges"/>
<rect x="576.66" y="234.79" width="1.96" height="0.52" fill="url(#pl)" stroke="#1a1a1a" stroke-width="0.8" shape-rendering="crispEdges"/>
<rect x="578.62" y="237.08" width="1.96" height="0.42" fill="#000" stroke="#000" stroke-width="0.8" shape-rendering="crispEdges"/>
<rect x="578.62" y="235.82" width="1.96" height="1.27" fill="none" stroke="#5e5e5e" stroke-width="0.8" shape-rendering="crispEdges"/>
<rect x="578.62" y="235.50" width="1.96" height="0.32" fill="url(#pl)" stroke="#1a1a1a" stroke-width="0.8" shape-rendering="crispEdges"/>
<rect x="580.57" y="236.99" width="1.96" height="0.51" fill="#000" stroke="#000" stroke-width="0.8" shape-rendering="crispEdges"/>
<rect x="580.57" y="235.41" width="1.96" height="1.58" fill="none" stroke="#5e5e5e" stroke-width="0.8" shape-rendering="crispEdges"/>
<rect x="580.57" y="235.00" width="1.96" height="0.41" fill="url(#pl)" stroke="#1a1a1a" stroke-width="0.8" shape-rendering="crispEdges"/>
<rect x="582.52" y="237.16" width="1.96" height="0.34" fill="#000" stroke="#000" stroke-width="0.8" shape-rendering="crispEdges"/>
<rect x="582.52" y="236.18" width="1.96" height="0.98" fill="none" stroke="#5e5e5e" stroke-width="0.8" shape-rendering="crispEdges"/>
<rect x="582.52" y="235.82" width="1.96" height="0.36" fill="url(#pl)" stroke="#1a1a1a" stroke-width="0.8" shape-rendering="crispEdges"/>
<rect x="584.48" y="237.19" width="1.96" height="0.31" fill="#000" stroke="#000" stroke-width="0.8" shape-rendering="crispEdges"/>
<rect x="584.48" y="236.26" width="1.96" height="0.93" fill="none" stroke="#5e5e5e" stroke-width="0.8" shape-rendering="crispEdges"/>
<rect x="584.48" y="235.90" width="1.96" height="0.36" fill="url(#pl)" stroke="#1a1a1a" stroke-width="0.8" shape-rendering="crispEdges"/>
<rect x="586.43" y="237.15" width="1.96" height="0.35" fill="#000" stroke="#000" stroke-width="0.8" shape-rendering="crispEdges"/>
<rect x="586.43" y="236.14" width="1.96" height="1.01" fill="none" stroke="#5e5e5e" stroke-width="0.8" shape-rendering="crispEdges"/>
<rect x="586.43" y="235.80" width="1.96" height="0.34" fill="url(#pl)" stroke="#1a1a1a" stroke-width="0.8" shape-rendering="crispEdges"/>
<rect x="588.39" y="237.23" width="1.96" height="0.27" fill="#000" stroke="#000" stroke-width="0.8" shape-rendering="crispEdges"/>
<rect x="588.39" y="236.53" width="1.96" height="0.69" fill="none" stroke="#5e5e5e" stroke-width="0.8" shape-rendering="crispEdges"/>
<rect x="588.39" y="236.22" width="1.96" height="0.31" fill="url(#pl)" stroke="#1a1a1a" stroke-width="0.8" shape-rendering="crispEdges"/>
<rect x="590.34" y="237.16" width="1.96" height="0.34" fill="#000" stroke="#000" stroke-width="0.8" shape-rendering="crispEdges"/>
<rect x="590.34" y="236.31" width="1.96" height="0.85" fill="none" stroke="#5e5e5e" stroke-width="0.8" shape-rendering="crispEdges"/>
<rect x="590.34" y="235.97" width="1.96" height="0.33" fill="url(#pl)" stroke="#1a1a1a" stroke-width="0.8" shape-rendering="crispEdges"/>
<rect x="592.29" y="237.27" width="1.96" height="0.23" fill="#000" stroke="#000" stroke-width="0.8" shape-rendering="crispEdges"/>
<rect x="592.29" y="236.65" width="1.96" height="0.63" fill="none" stroke="#5e5e5e" stroke-width="0.8" shape-rendering="crispEdges"/>
<rect x="592.29" y="236.47" width="1.96" height="0.18" fill="url(#pl)" stroke="#1a1a1a" stroke-width="0.8" shape-rendering="crispEdges"/>
<rect x="594.25" y="237.29" width="1.96" height="0.21" fill="#000" stroke="#000" stroke-width="0.8" shape-rendering="crispEdges"/>
<rect x="594.25" y="236.72" width="1.96" height="0.58" fill="none" stroke="#5e5e5e" stroke-width="0.8" shape-rendering="crispEdges"/>
<rect x="594.25" y="236.54" width="1.96" height="0.18" fill="url(#pl)" stroke="#1a1a1a" stroke-width="0.8" shape-rendering="crispEdges"/>
<rect x="596.20" y="237.26" width="1.96" height="0.24" fill="#000" stroke="#000" stroke-width="0.8" shape-rendering="crispEdges"/>
<rect x="596.20" y="236.64" width="1.96" height="0.62" fill="none" stroke="#5e5e5e" stroke-width="0.8" shape-rendering="crispEdges"/>
<rect x="596.20" y="236.42" width="1.96" height="0.22" fill="url(#pl)" stroke="#1a1a1a" stroke-width="0.8" shape-rendering="crispEdges"/>
<rect x="598.16" y="237.32" width="1.96" height="0.18" fill="#000" stroke="#000" stroke-width="0.8" shape-rendering="crispEdges"/>
<rect x="598.16" y="236.89" width="1.96" height="0.42" fill="none" stroke="#5e5e5e" stroke-width="0.8" shape-rendering="crispEdges"/>
<rect x="598.16" y="236.69" width="1.96" height="0.20" fill="url(#pl)" stroke="#1a1a1a" stroke-width="0.8" shape-rendering="crispEdges"/>
<rect x="600.11" y="237.28" width="1.96" height="0.22" fill="#000" stroke="#000" stroke-width="0.8" shape-rendering="crispEdges"/>
<rect x="600.11" y="236.70" width="1.96" height="0.59" fill="none" stroke="#5e5e5e" stroke-width="0.8" shape-rendering="crispEdges"/>
<rect x="600.11" y="236.58" width="1.96" height="0.12" fill="url(#pl)" stroke="#1a1a1a" stroke-width="0.8" shape-rendering="crispEdges"/>
<rect x="602.06" y="237.35" width="1.96" height="0.15" fill="#000" stroke="#000" stroke-width="0.8" shape-rendering="crispEdges"/>
<rect x="602.06" y="236.99" width="1.96" height="0.36" fill="none" stroke="#5e5e5e" stroke-width="0.8" shape-rendering="crispEdges"/>
<rect x="602.06" y="236.90" width="1.96" height="0.09" fill="url(#pl)" stroke="#1a1a1a" stroke-width="0.8" shape-rendering="crispEdges"/>
<rect x="604.02" y="237.37" width="1.96" height="0.13" fill="#000" stroke="#000" stroke-width="0.8" shape-rendering="crispEdges"/>
<rect x="604.02" y="237.05" width="1.96" height="0.32" fill="none" stroke="#5e5e5e" stroke-width="0.8" shape-rendering="crispEdges"/>
<rect x="604.02" y="236.95" width="1.96" height="0.09" fill="url(#pl)" stroke="#1a1a1a" stroke-width="0.8" shape-rendering="crispEdges"/>
<rect x="605.97" y="237.37" width="1.96" height="0.13" fill="#000" stroke="#000" stroke-width="0.8" shape-rendering="crispEdges"/>
<rect x="605.97" y="237.01" width="1.96" height="0.35" fill="none" stroke="#5e5e5e" stroke-width="0.8" shape-rendering="crispEdges"/>
<rect x="605.97" y="236.91" width="1.96" height="0.11" fill="url(#pl)" stroke="#1a1a1a" stroke-width="0.8" shape-rendering="crispEdges"/>
<rect x="607.93" y="237.40" width="1.96" height="0.10" fill="#000" stroke="#000" stroke-width="0.8" shape-rendering="crispEdges"/>
<rect x="607.93" y="237.15" width="1.96" height="0.25" fill="none" stroke="#5e5e5e" stroke-width="0.8" shape-rendering="crispEdges"/>
<rect x="607.93" y="237.07" width="1.96" height="0.08" fill="url(#pl)" stroke="#1a1a1a" stroke-width="0.8" shape-rendering="crispEdges"/>
<rect x="609.88" y="237.39" width="1.96" height="0.11" fill="#000" stroke="#000" stroke-width="0.8" shape-rendering="crispEdges"/>
<rect x="609.88" y="237.12" width="1.96" height="0.26" fill="none" stroke="#5e5e5e" stroke-width="0.8" shape-rendering="crispEdges"/>
<rect x="609.88" y="237.01" width="1.96" height="0.11" fill="url(#pl)" stroke="#1a1a1a" stroke-width="0.8" shape-rendering="crispEdges"/>
<rect x="611.83" y="237.43" width="1.96" height="0.07" fill="#000" stroke="#000" stroke-width="0.8" shape-rendering="crispEdges"/>
<rect x="611.83" y="237.24" width="1.96" height="0.19" fill="none" stroke="#5e5e5e" stroke-width="0.8" shape-rendering="crispEdges"/>
<rect x="611.83" y="237.18" width="1.96" height="0.06" fill="url(#pl)" stroke="#1a1a1a" stroke-width="0.8" shape-rendering="crispEdges"/>
<rect x="613.79" y="237.43" width="1.96" height="0.07" fill="#000" stroke="#000" stroke-width="0.8" shape-rendering="crispEdges"/>
<rect x="613.79" y="237.27" width="1.96" height="0.16" fill="none" stroke="#5e5e5e" stroke-width="0.8" shape-rendering="crispEdges"/>
<rect x="613.79" y="237.23" width="1.96" height="0.05" fill="url(#pl)" stroke="#1a1a1a" stroke-width="0.8" shape-rendering="crispEdges"/>
<rect x="615.74" y="237.43" width="1.96" height="0.07" fill="#000" stroke="#000" stroke-width="0.8" shape-rendering="crispEdges"/>
<rect x="615.74" y="237.27" width="1.96" height="0.16" fill="none" stroke="#5e5e5e" stroke-width="0.8" shape-rendering="crispEdges"/>
<rect x="615.74" y="237.20" width="1.96" height="0.07" fill="url(#pl)" stroke="#1a1a1a" stroke-width="0.8" shape-rendering="crispEdges"/>
<rect x="617.70" y="237.45" width="1.96" height="0.05" fill="#000" stroke="#000" stroke-width="0.8" shape-rendering="crispEdges"/>
<rect x="617.70" y="237.34" width="1.96" height="0.11" fill="none" stroke="#5e5e5e" stroke-width="0.8" shape-rendering="crispEdges"/>
<rect x="617.70" y="237.29" width="1.96" height="0.05" fill="url(#pl)" stroke="#1a1a1a" stroke-width="0.8" shape-rendering="crispEdges"/>
<rect x="619.65" y="237.44" width="1.96" height="0.06" fill="#000" stroke="#000" stroke-width="0.8" shape-rendering="crispEdges"/>
<rect x="619.65" y="237.34" width="1.96" height="0.11" fill="none" stroke="#5e5e5e" stroke-width="0.8" shape-rendering="crispEdges"/>
<rect x="619.65" y="237.28" width="1.96" height="0.06" fill="url(#pl)" stroke="#1a1a1a" stroke-width="0.8" shape-rendering="crispEdges"/>
<rect x="621.60" y="237.47" width="1.96" height="0.03" fill="#000" stroke="#000" stroke-width="0.8" shape-rendering="crispEdges"/>
<rect x="621.60" y="237.40" width="1.96" height="0.07" fill="none" stroke="#5e5e5e" stroke-width="0.8" shape-rendering="crispEdges"/>
<rect x="621.60" y="237.36" width="1.96" height="0.04" fill="url(#pl)" stroke="#1a1a1a" stroke-width="0.8" shape-rendering="crispEdges"/>
<rect x="623.56" y="237.48" width="1.96" height="0.02" fill="#000" stroke="#000" stroke-width="0.8" shape-rendering="crispEdges"/>
<rect x="623.56" y="237.41" width="1.96" height="0.06" fill="none" stroke="#5e5e5e" stroke-width="0.8" shape-rendering="crispEdges"/>
<rect x="623.56" y="237.39" width="1.96" height="0.03" fill="url(#pl)" stroke="#1a1a1a" stroke-width="0.8" shape-rendering="crispEdges"/>
<rect x="625.51" y="237.48" width="1.96" height="0.02" fill="#000" stroke="#000" stroke-width="0.8" shape-rendering="crispEdges"/>
<rect x="625.51" y="237.41" width="1.96" height="0.07" fill="none" stroke="#5e5e5e" stroke-width="0.8" shape-rendering="crispEdges"/>
<rect x="625.51" y="237.39" width="1.96" height="0.02" fill="url(#pl)" stroke="#1a1a1a" stroke-width="0.8" shape-rendering="crispEdges"/>
<rect x="627.47" y="237.49" width="1.96" height="0.01" fill="#000" stroke="#000" stroke-width="0.8" shape-rendering="crispEdges"/>
<rect x="627.47" y="237.44" width="1.96" height="0.05" fill="none" stroke="#5e5e5e" stroke-width="0.8" shape-rendering="crispEdges"/>
<rect x="627.47" y="237.44" width="1.96" height="0.01" fill="url(#pl)" stroke="#1a1a1a" stroke-width="0.8" shape-rendering="crispEdges"/>
<rect x="629.42" y="237.44" width="1.96" height="0.06" fill="none" stroke="#5e5e5e" stroke-width="0.8" shape-rendering="crispEdges"/>
<rect x="629.42" y="237.44" width="1.96" height="0.00" fill="url(#pl)" stroke="#1a1a1a" stroke-width="0.8" shape-rendering="crispEdges"/>
<rect x="424.50" y="12.50" width="217.00" height="225.00" fill="none" stroke="#636363" stroke-width="1" shape-rendering="crispEdges"/>
<line x1="419.90" y1="237.50" x2="424.50" y2="237.50" stroke="#636363" stroke-width="1" shape-rendering="crispEdges"/>
<text transform="translate(418.80,244.00) scale(1,1.0)" font-family="Liberation Sans, sans-serif" font-size="13.8" text-anchor="end" fill="#1a1a1a">0</text>
<line x1="419.90" y1="196.98" x2="424.50" y2="196.98" stroke="#636363" stroke-width="1" shape-rendering="crispEdges"/>
<text transform="translate(418.80,203.48) scale(1,1.0)" font-family="Liberation Sans, sans-serif" font-size="13.8" text-anchor="end" fill="#1a1a1a">1 000</text>
<line x1="419.90" y1="156.46" x2="424.50" y2="156.46" stroke="#636363" stroke-width="1" shape-rendering="crispEdges"/>
<text transform="translate(418.80,162.96) scale(1,1.0)" font-family="Liberation Sans, sans-serif" font-size="13.8" text-anchor="end" fill="#1a1a1a">2 000</text>
<line x1="419.90" y1="115.94" x2="424.50" y2="115.94" stroke="#636363" stroke-width="1" shape-rendering="crispEdges"/>
<text transform="translate(418.80,122.44) scale(1,1.0)" font-family="Liberation Sans, sans-serif" font-size="13.8" text-anchor="end" fill="#1a1a1a">3 000</text>
<line x1="419.90" y1="75.42" x2="424.50" y2="75.42" stroke="#636363" stroke-width="1" shape-rendering="crispEdges"/>
<text transform="translate(418.80,81.92) scale(1,1.0)" font-family="Liberation Sans, sans-serif" font-size="13.8" text-anchor="end" fill="#1a1a1a">4 000</text>
<line x1="419.90" y1="34.90" x2="424.50" y2="34.90" stroke="#636363" stroke-width="1" shape-rendering="crispEdges"/>
<text transform="translate(418.80,41.40) scale(1,1.0)" font-family="Liberation Sans, sans-serif" font-size="13.8" text-anchor="end" fill="#1a1a1a">5 000</text>
<line x1="435.00" y1="237.50" x2="435.00" y2="242.20" stroke="#636363" stroke-width="1" shape-rendering="crispEdges"/>
<text transform="translate(435.00,255.50) scale(1,1.0)" font-family="Liberation Sans, sans-serif" font-size="13.8" text-anchor="middle" fill="#1a1a1a">−100</text>
<line x1="483.85" y1="237.50" x2="483.85" y2="242.20" stroke="#636363" stroke-width="1" shape-rendering="crispEdges"/>
<text transform="translate(483.85,255.50) scale(1,1.0)" font-family="Liberation Sans, sans-serif" font-size="13.8" text-anchor="middle" fill="#1a1a1a">−50</text>
<line x1="532.70" y1="237.50" x2="532.70" y2="242.20" stroke="#636363" stroke-width="1" shape-rendering="crispEdges"/>
<text transform="translate(532.70,255.50) scale(1,1.0)" font-family="Liberation Sans, sans-serif" font-size="13.8" text-anchor="middle" fill="#1a1a1a">0</text>
<line x1="581.55" y1="237.50" x2="581.55" y2="242.20" stroke="#636363" stroke-width="1" shape-rendering="crispEdges"/>
<text transform="translate(581.55,255.50) scale(1,1.0)" font-family="Liberation Sans, sans-serif" font-size="13.8" text-anchor="middle" fill="#1a1a1a">50</text>
<line x1="630.40" y1="237.50" x2="630.40" y2="242.20" stroke="#636363" stroke-width="1" shape-rendering="crispEdges"/>
<text transform="translate(630.40,255.50) scale(1,1.0)" font-family="Liberation Sans, sans-serif" font-size="13.8" text-anchor="middle" fill="#1a1a1a">100</text>
<text transform="translate(532.50,273.70) scale(1,1.0)" font-family="Liberation Sans, sans-serif" font-size="12.8" text-anchor="middle" fill="#1a1a1a" textLength="189.00" lengthAdjust="spacing">Score change in VAS back pain</text>
<text transform="translate(532.50,286.30) scale(1,1.0)" font-family="Liberation Sans, sans-serif" font-size="12.8" text-anchor="middle" fill="#1a1a1a" textLength="187.00" lengthAdjust="spacing">between baseline and 1st year</text>
<text transform="translate(533.00,299.10) scale(1,1.0)" font-family="Liberation Sans, sans-serif" font-size="12.8" text-anchor="middle" fill="#1a1a1a" textLength="42.30" lengthAdjust="spacing">postop</text>
<text transform="translate(371.40,124.70) rotate(-90) scale(1,1.0)" font-family="Liberation Sans, sans-serif" font-size="13.5" text-anchor="middle" fill="#1a1a1a" textLength="63.70" lengthAdjust="spacing">Frequency</text>
<rect x="643.20" y="30.00" width="10.60" height="10.40" fill="url(#pl)" stroke="#555" stroke-width="1"/>
<text transform="translate(656.50,40.50) scale(1,1.0)" font-family="Liberation Sans, sans-serif" font-size="13.5" text-anchor="start" fill="#1a1a1a" textLength="25.00" lengthAdjust="spacingAndGlyphs">LDH</text>
<rect x="643.20" y="45.20" width="10.60" height="10.40" fill="#fff" stroke="#777" stroke-width="1"/>
<text transform="translate(656.50,55.70) scale(1,1.0)" font-family="Liberation Sans, sans-serif" font-size="13.5" text-anchor="start" fill="#1a1a1a" textLength="19.30" lengthAdjust="spacingAndGlyphs">LSS</text>
<rect x="643.20" y="60.40" width="10.60" height="10.40" fill="#000" stroke="#000" stroke-width="1"/>
<text transform="translate(656.50,70.90) scale(1,1.0)" font-family="Liberation Sans, sans-serif" font-size="13.5" text-anchor="start" fill="#1a1a1a" textLength="28.40" lengthAdjust="spacingAndGlyphs">DDD</text>
<text transform="translate(357.80,13.20) scale(1,1.0)" font-family="Liberation Serif, serif" font-size="17.8" text-anchor="start" fill="#000" font-weight="bold">(b)</text>
<line x1="532.70" y1="317.50" x2="532.70" y2="541.70" stroke="#555" stroke-width="1.2" shape-rendering="crispEdges"/>
<rect x="434.02" y="541.62" width="1.96" height="0.08" fill="none" stroke="#5e5e5e" stroke-width="0.8" shape-rendering="crispEdges"/>
<rect x="434.02" y="541.62" width="1.96" height="0.00" fill="url(#pl)" stroke="#1a1a1a" stroke-width="0.8" shape-rendering="crispEdges"/>
<rect x="435.97" y="541.62" width="1.96" height="0.08" fill="none" stroke="#5e5e5e" stroke-width="0.8" shape-rendering="crispEdges"/>
<rect x="437.93" y="541.62" width="1.96" height="0.08" fill="none" stroke="#5e5e5e" stroke-width="0.8" shape-rendering="crispEdges"/>
<rect x="439.88" y="541.62" width="1.96" height="0.08" fill="none" stroke="#5e5e5e" stroke-width="0.8" shape-rendering="crispEdges"/>
<rect x="439.88" y="541.62" width="1.96" height="0.00" fill="url(#pl)" stroke="#1a1a1a" stroke-width="0.8" shape-rendering="crispEdges"/>
<rect x="441.84" y="541.58" width="1.96" height="0.12" fill="none" stroke="#5e5e5e" stroke-width="0.8" shape-rendering="crispEdges"/>
<rect x="441.84" y="541.54" width="1.96" height="0.04" fill="url(#pl)" stroke="#1a1a1a" stroke-width="0.8" shape-rendering="crispEdges"/>
<rect x="443.79" y="541.54" width="1.96" height="0.16" fill="none" stroke="#5e5e5e" stroke-width="0.8" shape-rendering="crispEdges"/>
<rect x="443.79" y="541.50" width="1.96" height="0.04" fill="url(#pl)" stroke="#1a1a1a" stroke-width="0.8" shape-rendering="crispEdges"/>
<rect x="445.74" y="541.66" width="1.96" height="0.04" fill="#000" stroke="#000" stroke-width="0.8" shape-rendering="crispEdges"/>
<rect x="445.74" y="541.50" width="1.96" height="0.16" fill="none" stroke="#5e5e5e" stroke-width="0.8" shape-rendering="crispEdges"/>
<rect x="445.74" y="541.42" width="1.96" height="0.08" fill="url(#pl)" stroke="#1a1a1a" stroke-width="0.8" shape-rendering="crispEdges"/>
<rect x="447.70" y="541.66" width="1.96" height="0.04" fill="#000" stroke="#000" stroke-width="0.8" shape-rendering="crispEdges"/>
<rect x="447.70" y="541.41" width="1.96" height="0.25" fill="none" stroke="#5e5e5e" stroke-width="0.8" shape-rendering="crispEdges"/>
<rect x="447.70" y="541.35" width="1.96" height="0.06" fill="url(#pl)" stroke="#1a1a1a" stroke-width="0.8" shape-rendering="crispEdges"/>
<rect x="449.65" y="541.66" width="1.96" height="0.04" fill="#000" stroke="#000" stroke-width="0.8" shape-rendering="crispEdges"/>
<rect x="449.65" y="541.34" width="1.96" height="0.32" fill="none" stroke="#5e5e5e" stroke-width="0.8" shape-rendering="crispEdges"/>
<rect x="449.65" y="541.26" width="1.96" height="0.08" fill="url(#pl)" stroke="#1a1a1a" stroke-width="0.8" shape-rendering="crispEdges"/>
<rect x="451.61" y="541.66" width="1.96" height="0.04" fill="#000" stroke="#000" stroke-width="0.8" shape-rendering="crispEdges"/>
<rect x="451.61" y="541.30" width="1.96" height="0.36" fill="none" stroke="#5e5e5e" stroke-width="0.8" shape-rendering="crispEdges"/>
<rect x="451.61" y="541.16" width="1.96" height="0.14" fill="url(#pl)" stroke="#1a1a1a" stroke-width="0.8" shape-rendering="crispEdges"/>
<rect x="453.56" y="541.66" width="1.96" height="0.04" fill="#000" stroke="#000" stroke-width="0.8" shape-rendering="crispEdges"/>
<rect x="453.56" y="541.22" width="1.96" height="0.44" fill="none" stroke="#5e5e5e" stroke-width="0.8" shape-rendering="crispEdges"/>
<rect x="453.56" y="541.09" width="1.96" height="0.13" fill="url(#pl)" stroke="#1a1a1a" stroke-width="0.8" shape-rendering="crispEdges"/>
<rect x="455.51" y="541.62" width="1.96" height="0.08" fill="#000" stroke="#000" stroke-width="0.8" shape-rendering="crispEdges"/>
<rect x="455.51" y="541.15" width="1.96" height="0.47" fill="none" stroke="#5e5e5e" stroke-width="0.8" shape-rendering="crispEdges"/>
<rect x="455.51" y="540.99" width="1.96" height="0.16" fill="url(#pl)" stroke="#1a1a1a" stroke-width="0.8" shape-rendering="crispEdges"/>
<rect x="457.47" y="541.62" width="1.96" height="0.08" fill="#000" stroke="#000" stroke-width="0.8" shape-rendering="crispEdges"/>
<rect x="457.47" y="541.06" width="1.96" height="0.56" fill="none" stroke="#5e5e5e" stroke-width="0.8" shape-rendering="crispEdges"/>
<rect x="457.47" y="540.88" width="1.96" height="0.17" fill="url(#pl)" stroke="#1a1a1a" stroke-width="0.8" shape-rendering="crispEdges"/>
<rect x="459.42" y="541.62" width="1.96" height="0.08" fill="#000" stroke="#000" stroke-width="0.8" shape-rendering="crispEdges"/>
<rect x="459.42" y="540.97" width="1.96" height="0.65" fill="none" stroke="#5e5e5e" stroke-width="0.8" shape-rendering="crispEdges"/>
<rect x="459.42" y="540.76" width="1.96" height="0.21" fill="url(#pl)" stroke="#1a1a1a" stroke-width="0.8" shape-rendering="crispEdges"/>
<rect x="461.38" y="541.62" width="1.96" height="0.08" fill="#000" stroke="#000" stroke-width="0.8" shape-rendering="crispEdges"/>
<rect x="461.38" y="540.88" width="1.96" height="0.74" fill="none" stroke="#5e5e5e" stroke-width="0.8" shape-rendering="crispEdges"/>
<rect x="461.38" y="540.63" width="1.96" height="0.25" fill="url(#pl)" stroke="#1a1a1a" stroke-width="0.8" shape-rendering="crispEdges"/>
<rect x="463.33" y="541.58" width="1.96" height="0.12" fill="#000" stroke="#000" stroke-width="0.8" shape-rendering="crispEdges"/>
<rect x="463.33" y="540.77" width="1.96" height="0.81" fill="none" stroke="#5e5e5e" stroke-width="0.8" shape-rendering="crispEdges"/>
<rect x="463.33" y="540.52" width="1.96" height="0.25" fill="url(#pl)" stroke="#1a1a1a" stroke-width="0.8" shape-rendering="crispEdges"/>
<rect x="465.28" y="541.58" width="1.96" height="0.12" fill="#000" stroke="#000" stroke-width="0.8" shape-rendering="crispEdges"/>
<rect x="465.28" y="540.70" width="1.96" height="0.87" fill="none" stroke="#5e5e5e" stroke-width="0.8" shape-rendering="crispEdges"/>
<rect x="465.28" y="540.39" width="1.96" height="0.31" fill="url(#pl)" stroke="#1a1a1a" stroke-width="0.8" shape-rendering="crispEdges"/>
<rect x="467.24" y="541.58" width="1.96" height="0.12" fill="#000" stroke="#000" stroke-width="0.8" shape-rendering="crispEdges"/>
<rect x="467.24" y="540.61" width="1.96" height="0.96" fill="none" stroke="#5e5e5e" stroke-width="0.8" shape-rendering="crispEdges"/>
<rect x="467.24" y="540.32" width="1.96" height="0.30" fill="url(#pl)" stroke="#1a1a1a" stroke-width="0.8" shape-rendering="crispEdges"/>
<rect x="469.19" y="541.58" width="1.96" height="0.12" fill="#000" stroke="#000" stroke-width="0.8" shape-rendering="crispEdges"/>
<rect x="469.19" y="540.49" width="1.96" height="1.09" fill="none" stroke="#5e5e5e" stroke-width="0.8" shape-rendering="crispEdges"/>
<rect x="469.19" y="540.19" width="1.96" height="0.29" fill="url(#pl)" stroke="#1a1a1a" stroke-width="0.8" shape-rendering="crispEdges"/>
<rect x="471.15" y="541.54" width="1.96" height="0.16" fill="#000" stroke="#000" stroke-width="0.8" shape-rendering="crispEdges"/>
<rect x="471.15" y="540.38" width="1.96" height="1.15" fill="none" stroke="#5e5e5e" stroke-width="0.8" shape-rendering="crispEdges"/>
<rect x="471.15" y="540.02" width="1.96" height="0.36" fill="url(#pl)" stroke="#1a1a1a" stroke-width="0.8" shape-rendering="crispEdges"/>
<rect x="473.10" y="541.54" width="1.96" height="0.16" fill="#000" stroke="#000" stroke-width="0.8" shape-rendering="crispEdges"/>
<rect x="473.10" y="540.30" width="1.96" height="1.24" fill="none" stroke="#5e5e5e" stroke-width="0.8" shape-rendering="crispEdges"/>
<rect x="473.10" y="539.84" width="1.96" height="0.46" fill="url(#pl)" stroke="#1a1a1a" stroke-width="0.8" shape-rendering="crispEdges"/>
<rect x="475.05" y="541.52" width="1.96" height="0.18" fill="#000" stroke="#000" stroke-width="0.8" shape-rendering="crispEdges"/>
<rect x="475.05" y="540.11" width="1.96" height="1.40" fill="none" stroke="#5e5e5e" stroke-width="0.8" shape-rendering="crispEdges"/>
<rect x="475.05" y="539.67" width="1.96" height="0.45" fill="url(#pl)" stroke="#1a1a1a" stroke-width="0.8" shape-rendering="crispEdges"/>
<rect x="477.01" y="541.50" width="1.96" height="0.20" fill="#000" stroke="#000" stroke-width="0.8" shape-rendering="crispEdges"/>
<rect x="477.01" y="539.91" width="1.96" height="1.58" fill="none" stroke="#5e5e5e" stroke-width="0.8" shape-rendering="crispEdges"/>
<rect x="477.01" y="539.43" width="1.96" height="0.48" fill="url(#pl)" stroke="#1a1a1a" stroke-width="0.8" shape-rendering="crispEdges"/>
<rect x="478.96" y="541.45" width="1.96" height="0.25" fill="#000" stroke="#000" stroke-width="0.8" shape-rendering="crispEdges"/>
<rect x="478.96" y="539.81" width="1.96" height="1.65" fill="none" stroke="#5e5e5e" stroke-width="0.8" shape-rendering="crispEdges"/>
<rect x="478.96" y="539.17" width="1.96" height="0.64" fill="url(#pl)" stroke="#1a1a1a" stroke-width="0.8" shape-rendering="crispEdges"/>
<rect x="480.92" y="541.45" width="1.96" height="0.25" fill="#000" stroke="#000" stroke-width="0.8" shape-rendering="crispEdges"/>
<rect x="480.92" y="539.41" width="1.96" height="2.04" fill="none" stroke="#5e5e5e" stroke-width="0.8" shape-rendering="crispEdges"/>
<rect x="480.92" y="538.84" width="1.96" height="0.57" fill="url(#pl)" stroke="#1a1a1a" stroke-width="0.8" shape-rendering="crispEdges"/>
<rect x="482.87" y="541.41" width="1.96" height="0.29" fill="#000" stroke="#000" stroke-width="0.8" shape-rendering="crispEdges"/>
<rect x="482.87" y="539.21" width="1.96" height="2.21" fill="none" stroke="#5e5e5e" stroke-width="0.8" shape-rendering="crispEdges"/>
<rect x="482.87" y="538.51" width="1.96" height="0.70" fill="url(#pl)" stroke="#1a1a1a" stroke-width="0.8" shape-rendering="crispEdges"/>
<rect x="484.82" y="541.38" width="1.96" height="0.32" fill="#000" stroke="#000" stroke-width="0.8" shape-rendering="crispEdges"/>
<rect x="484.82" y="539.04" width="1.96" height="2.35" fill="none" stroke="#5e5e5e" stroke-width="0.8" shape-rendering="crispEdges"/>
<rect x="484.82" y="538.36" width="1.96" height="0.68" fill="url(#pl)" stroke="#1a1a1a" stroke-width="0.8" shape-rendering="crispEdges"/>
<rect x="486.78" y="541.37" width="1.96" height="0.33" fill="#000" stroke="#000" stroke-width="0.8" shape-rendering="crispEdges"/>
<rect x="486.78" y="538.94" width="1.96" height="2.43" fill="none" stroke="#5e5e5e" stroke-width="0.8" shape-rendering="crispEdges"/>
<rect x="486.78" y="538.14" width="1.96" height="0.80" fill="url(#pl)" stroke="#1a1a1a" stroke-width="0.8" shape-rendering="crispEdges"/>
<rect x="488.73" y="541.34" width="1.96" height="0.36" fill="#000" stroke="#000" stroke-width="0.8" shape-rendering="crispEdges"/>
<rect x="488.73" y="538.55" width="1.96" height="2.79" fill="none" stroke="#5e5e5e" stroke-width="0.8" shape-rendering="crispEdges"/>
<rect x="488.73" y="537.70" width="1.96" height="0.85" fill="url(#pl)" stroke="#1a1a1a" stroke-width="0.8" shape-rendering="crispEdges"/>
<rect x="490.69" y="541.26" width="1.96" height="0.44" fill="#000" stroke="#000" stroke-width="0.8" shape-rendering="crispEdges"/>
<rect x="490.69" y="537.99" width="1.96" height="3.26" fill="none" stroke="#5e5e5e" stroke-width="0.8" shape-rendering="crispEdges"/>
<rect x="490.69" y="536.74" width="1.96" height="1.26" fill="url(#pl)" stroke="#1a1a1a" stroke-width="0.8" shape-rendering="crispEdges"/>
<rect x="492.64" y="541.12" width="1.96" height="0.58" fill="#000" stroke="#000" stroke-width="0.8" shape-rendering="crispEdges"/>
<rect x="492.64" y="536.53" width="1.96" height="4.60" fill="none" stroke="#5e5e5e" stroke-width="0.8" shape-rendering="crispEdges"/>
<rect x="492.64" y="535.21" width="1.96" height="1.32" fill="url(#pl)" stroke="#1a1a1a" stroke-width="0.8" shape-rendering="crispEdges"/>
<rect x="494.59" y="541.14" width="1.96" height="0.56" fill="#000" stroke="#000" stroke-width="0.8" shape-rendering="crispEdges"/>
<rect x="494.59" y="537.03" width="1.96" height="4.11" fill="none" stroke="#5e5e5e" stroke-width="0.8" shape-rendering="crispEdges"/>
<rect x="494.59" y="535.50" width="1.96" height="1.53" fill="url(#pl)" stroke="#1a1a1a" stroke-width="0.8" shape-rendering="crispEdges"/>
<rect x="496.55" y="541.08" width="1.96" height="0.62" fill="#000" stroke="#000" stroke-width="0.8" shape-rendering="crispEdges"/>
<rect x="496.55" y="536.36" width="1.96" height="4.72" fill="none" stroke="#5e5e5e" stroke-width="0.8" shape-rendering="crispEdges"/>
<rect x="496.55" y="535.08" width="1.96" height="1.28" fill="url(#pl)" stroke="#1a1a1a" stroke-width="0.8" shape-rendering="crispEdges"/>
<rect x="498.50" y="541.06" width="1.96" height="0.64" fill="#000" stroke="#000" stroke-width="0.8" shape-rendering="crispEdges"/>
<rect x="498.50" y="536.15" width="1.96" height="4.92" fill="none" stroke="#5e5e5e" stroke-width="0.8" shape-rendering="crispEdges"/>
<rect x="498.50" y="534.57" width="1.96" height="1.58" fill="url(#pl)" stroke="#1a1a1a" stroke-width="0.8" shape-rendering="crispEdges"/>
<rect x="500.46" y="540.97" width="1.96" height="0.73" fill="#000" stroke="#000" stroke-width="0.8" shape-rendering="crispEdges"/>
<rect x="500.46" y="535.39" width="1.96" height="5.57" fill="none" stroke="#5e5e5e" stroke-width="0.8" shape-rendering="crispEdges"/>
<rect x="500.46" y="533.74" width="1.96" height="1.66" fill="url(#pl)" stroke="#1a1a1a" stroke-width="0.8" shape-rendering="crispEdges"/>
<rect x="502.41" y="540.81" width="1.96" height="0.89" fill="#000" stroke="#000" stroke-width="0.8" shape-rendering="crispEdges"/>
<rect x="502.41" y="534.36" width="1.96" height="6.46" fill="none" stroke="#5e5e5e" stroke-width="0.8" shape-rendering="crispEdges"/>
<rect x="502.41" y="532.13" width="1.96" height="2.23" fill="url(#pl)" stroke="#1a1a1a" stroke-width="0.8" shape-rendering="crispEdges"/>
<rect x="504.36" y="540.87" width="1.96" height="0.83" fill="#000" stroke="#000" stroke-width="0.8" shape-rendering="crispEdges"/>
<rect x="504.36" y="534.71" width="1.96" height="6.16" fill="none" stroke="#5e5e5e" stroke-width="0.8" shape-rendering="crispEdges"/>
<rect x="504.36" y="532.87" width="1.96" height="1.84" fill="url(#pl)" stroke="#1a1a1a" stroke-width="0.8" shape-rendering="crispEdges"/>
<rect x="506.32" y="540.89" width="1.96" height="0.81" fill="#000" stroke="#000" stroke-width="0.8" shape-rendering="crispEdges"/>
<rect x="506.32" y="534.73" width="1.96" height="6.15" fill="none" stroke="#5e5e5e" stroke-width="0.8" shape-rendering="crispEdges"/>
<rect x="506.32" y="532.70" width="1.96" height="2.04" fill="url(#pl)" stroke="#1a1a1a" stroke-width="0.8" shape-rendering="crispEdges"/>
<rect x="508.27" y="540.58" width="1.96" height="1.12" fill="#000" stroke="#000" stroke-width="0.8" shape-rendering="crispEdges"/>
<rect x="508.27" y="532.49" width="1.96" height="8.10" fill="none" stroke="#5e5e5e" stroke-width="0.8" shape-rendering="crispEdges"/>
<rect x="508.27" y="529.43" width="1.96" height="3.05" fill="url(#pl)" stroke="#1a1a1a" stroke-width="0.8" shape-rendering="crispEdges"/>
<rect x="510.23" y="540.59" width="1.96" height="1.11" fill="#000" stroke="#000" stroke-width="0.8" shape-rendering="crispEdges"/>
<rect x="510.23" y="532.02" width="1.96" height="8.57" fill="none" stroke="#5e5e5e" stroke-width="0.8" shape-rendering="crispEdges"/>
<rect x="510.23" y="529.36" width="1.96" height="2.66" fill="url(#pl)" stroke="#1a1a1a" stroke-width="0.8" shape-rendering="crispEdges"/>
<rect x="512.18" y="540.00" width="1.96" height="1.70" fill="#000" stroke="#000" stroke-width="0.8" shape-rendering="crispEdges"/>
<rect x="512.18" y="526.70" width="1.96" height="13.30" fill="none" stroke="#5e5e5e" stroke-width="0.8" shape-rendering="crispEdges"/>
<rect x="512.18" y="522.49" width="1.96" height="4.21" fill="url(#pl)" stroke="#1a1a1a" stroke-width="0.8" shape-rendering="crispEdges"/>
<rect x="514.13" y="540.28" width="1.96" height="1.42" fill="#000" stroke="#000" stroke-width="0.8" shape-rendering="crispEdges"/>
<rect x="514.13" y="529.45" width="1.96" height="10.83" fill="none" stroke="#5e5e5e" stroke-width="0.8" shape-rendering="crispEdges"/>
<rect x="514.13" y="525.43" width="1.96" height="4.02" fill="url(#pl)" stroke="#1a1a1a" stroke-width="0.8" shape-rendering="crispEdges"/>
<rect x="516.09" y="539.62" width="1.96" height="2.08" fill="#000" stroke="#000" stroke-width="0.8" shape-rendering="crispEdges"/>
<rect x="516.09" y="525.69" width="1.96" height="13.93" fill="none" stroke="#5e5e5e" stroke-width="0.8" shape-rendering="crispEdges"/>
<rect x="516.09" y="521.11" width="1.96" height="4.58" fill="url(#pl)" stroke="#1a1a1a" stroke-width="0.8" shape-rendering="crispEdges"/>
<rect x="518.04" y="539.16" width="1.96" height="2.54" fill="#000" stroke="#000" stroke-width="0.8" shape-rendering="crispEdges"/>
<rect x="518.04" y="522.19" width="1.96" height="16.97" fill="none" stroke="#5e5e5e" stroke-width="0.8" shape-rendering="crispEdges"/>
<rect x="518.04" y="516.62" width="1.96" height="5.58" fill="url(#pl)" stroke="#1a1a1a" stroke-width="0.8" shape-rendering="crispEdges"/>
<rect x="520.00" y="539.18" width="1.96" height="2.52" fill="#000" stroke="#000" stroke-width="0.8" shape-rendering="crispEdges"/>
<rect x="520.00" y="521.76" width="1.96" height="17.43" fill="none" stroke="#5e5e5e" stroke-width="0.8" shape-rendering="crispEdges"/>
<rect x="520.00" y="516.54" width="1.96" height="5.21" fill="url(#pl)" stroke="#1a1a1a" stroke-width="0.8" shape-rendering="crispEdges"/>
<rect x="521.95" y="536.59" width="1.96" height="5.11" fill="#000" stroke="#000" stroke-width="0.8" shape-rendering="crispEdges"/>
<rect x="521.95" y="510.13" width="1.96" height="26.46" fill="none" stroke="#5e5e5e" stroke-width="0.8" shape-rendering="crispEdges"/>
<rect x="521.95" y="500.58" width="1.96" height="9.55" fill="url(#pl)" stroke="#1a1a1a" stroke-width="0.8" shape-rendering="crispEdges"/>
<rect x="523.90" y="537.29" width="1.96" height="4.41" fill="#000" stroke="#000" stroke-width="0.8" shape-rendering="crispEdges"/>
<rect x="523.90" y="515.76" width="1.96" height="21.52" fill="none" stroke="#5e5e5e" stroke-width="0.8" shape-rendering="crispEdges"/>
<rect x="523.90" y="508.62" width="1.96" height="7.14" fill="url(#pl)" stroke="#1a1a1a" stroke-width="0.8" shape-rendering="crispEdges"/>
<rect x="525.86" y="533.91" width="1.96" height="7.79" fill="#000" stroke="#000" stroke-width="0.8" shape-rendering="crispEdges"/>
<rect x="525.86" y="511.55" width="1.96" height="22.36" fill="none" stroke="#5e5e5e" stroke-width="0.8" shape-rendering="crispEdges"/>
<rect x="525.86" y="501.60" width="1.96" height="9.94" fill="url(#pl)" stroke="#1a1a1a" stroke-width="0.8" shape-rendering="crispEdges"/>
<rect x="527.81" y="529.71" width="1.96" height="11.99" fill="#000" stroke="#000" stroke-width="0.8" shape-rendering="crispEdges"/>
<rect x="527.81" y="499.46" width="1.96" height="30.25" fill="none" stroke="#5e5e5e" stroke-width="0.8" shape-rendering="crispEdges"/>
<rect x="527.81" y="483.11" width="1.96" height="16.35" fill="url(#pl)" stroke="#1a1a1a" stroke-width="0.8" shape-rendering="crispEdges"/>
<rect x="529.77" y="527.46" width="1.96" height="14.24" fill="#000" stroke="#000" stroke-width="0.8" shape-rendering="crispEdges"/>
<rect x="529.77" y="492.24" width="1.96" height="35.22" fill="none" stroke="#5e5e5e" stroke-width="0.8" shape-rendering="crispEdges"/>
<rect x="529.77" y="471.04" width="1.96" height="21.20" fill="url(#pl)" stroke="#1a1a1a" stroke-width="0.8" shape-rendering="crispEdges"/>
<rect x="531.72" y="510.65" width="1.96" height="31.05" fill="#000" stroke="#000" stroke-width="0.8" shape-rendering="crispEdges"/>
<rect x="531.72" y="437.25" width="1.96" height="73.40" fill="none" stroke="#5e5e5e" stroke-width="0.8" shape-rendering="crispEdges"/>
<rect x="531.72" y="364.25" width="1.96" height="73.01" fill="#1a1a1a" stroke="#1a1a1a" stroke-width="0.8" shape-rendering="crispEdges"/>
<rect x="533.67" y="525.54" width="1.96" height="16.16" fill="#000" stroke="#000" stroke-width="0.8" shape-rendering="crispEdges"/>
<rect x="533.67" y="484.47" width="1.96" height="41.07" fill="none" stroke="#5e5e5e" stroke-width="0.8" shape-rendering="crispEdges"/>
<rect x="533.67" y="456.64" width="1.96" height="27.84" fill="url(#pl)" stroke="#1a1a1a" stroke-width="0.8" shape-rendering="crispEdges"/>
<rect x="535.63" y="529.70" width="1.96" height="12.00" fill="#000" stroke="#000" stroke-width="0.8" shape-rendering="crispEdges"/>
<rect x="535.63" y="501.76" width="1.96" height="27.94" fill="none" stroke="#5e5e5e" stroke-width="0.8" shape-rendering="crispEdges"/>
<rect x="535.63" y="484.46" width="1.96" height="17.30" fill="url(#pl)" stroke="#1a1a1a" stroke-width="0.8" shape-rendering="crispEdges"/>
<rect x="537.58" y="531.34" width="1.96" height="10.36" fill="#000" stroke="#000" stroke-width="0.8" shape-rendering="crispEdges"/>
<rect x="537.58" y="500.90" width="1.96" height="30.45" fill="none" stroke="#5e5e5e" stroke-width="0.8" shape-rendering="crispEdges"/>
<rect x="537.58" y="484.64" width="1.96" height="16.26" fill="url(#pl)" stroke="#1a1a1a" stroke-width="0.8" shape-rendering="crispEdges"/>
<rect x="539.54" y="536.47" width="1.96" height="5.23" fill="#000" stroke="#000" stroke-width="0.8" shape-rendering="crispEdges"/>
<rect x="539.54" y="509.95" width="1.96" height="26.51" fill="none" stroke="#5e5e5e" stroke-width="0.8" shape-rendering="crispEdges"/>
<rect x="539.54" y="501.26" width="1.96" height="8.69" fill="url(#pl)" stroke="#1a1a1a" stroke-width="0.8" shape-rendering="crispEdges"/>
<rect x="541.49" y="535.86" width="1.96" height="5.84" fill="#000" stroke="#000" stroke-width="0.8" shape-rendering="crispEdges"/>
<rect x="541.49" y="507.12" width="1.96" height="28.74" fill="none" stroke="#5e5e5e" stroke-width="0.8" shape-rendering="crispEdges"/>
<rect x="541.49" y="496.71" width="1.96" height="10.41" fill="url(#pl)" stroke="#1a1a1a" stroke-width="0.8" shape-rendering="crispEdges"/>
<rect x="543.44" y="538.57" width="1.96" height="3.13" fill="#000" stroke="#000" stroke-width="0.8" shape-rendering="crispEdges"/>
<rect x="543.44" y="518.23" width="1.96" height="20.34" fill="none" stroke="#5e5e5e" stroke-width="0.8" shape-rendering="crispEdges"/>
<rect x="543.44" y="511.42" width="1.96" height="6.80" fill="url(#pl)" stroke="#1a1a1a" stroke-width="0.8" shape-rendering="crispEdges"/>
<rect x="545.40" y="538.73" width="1.96" height="2.97" fill="#000" stroke="#000" stroke-width="0.8" shape-rendering="crispEdges"/>
<rect x="545.40" y="518.60" width="1.96" height="20.13" fill="none" stroke="#5e5e5e" stroke-width="0.8" shape-rendering="crispEdges"/>
<rect x="545.40" y="511.85" width="1.96" height="6.76" fill="url(#pl)" stroke="#1a1a1a" stroke-width="0.8" shape-rendering="crispEdges"/>
<rect x="547.35" y="539.23" width="1.96" height="2.47" fill="#000" stroke="#000" stroke-width="0.8" shape-rendering="crispEdges"/>
<rect x="547.35" y="521.96" width="1.96" height="17.27" fill="none" stroke="#5e5e5e" stroke-width="0.8" shape-rendering="crispEdges"/>
<rect x="547.35" y="516.26" width="1.96" height="5.70" fill="url(#pl)" stroke="#1a1a1a" stroke-width="0.8" shape-rendering="crispEdges"/>
<rect x="549.31" y="539.85" width="1.96" height="1.85" fill="#000" stroke="#000" stroke-width="0.8" shape-rendering="crispEdges"/>
<rect x="549.31" y="525.50" width="1.96" height="14.36" fill="none" stroke="#5e5e5e" stroke-width="0.8" shape-rendering="crispEdges"/>
<rect x="549.31" y="520.72" width="1.96" height="4.78" fill="url(#pl)" stroke="#1a1a1a" stroke-width="0.8" shape-rendering="crispEdges"/>
<rect x="551.26" y="539.55" width="1.96" height="2.15" fill="#000" stroke="#000" stroke-width="0.8" shape-rendering="crispEdges"/>
<rect x="551.26" y="523.10" width="1.96" height="16.45" fill="none" stroke="#5e5e5e" stroke-width="0.8" shape-rendering="crispEdges"/>
<rect x="551.26" y="518.23" width="1.96" height="4.87" fill="url(#pl)" stroke="#1a1a1a" stroke-width="0.8" shape-rendering="crispEdges"/>
<rect x="553.21" y="540.33" width="1.96" height="1.37" fill="#000" stroke="#000" stroke-width="0.8" shape-rendering="crispEdges"/>
<rect x="553.21" y="529.40" width="1.96" height="10.93" fill="none" stroke="#5e5e5e" stroke-width="0.8" shape-rendering="crispEdges"/>
<rect x="553.21" y="526.19" width="1.96" height="3.21" fill="url(#pl)" stroke="#1a1a1a" stroke-width="0.8" shape-rendering="crispEdges"/>
<rect x="555.17" y="540.41" width="1.96" height="1.29" fill="#000" stroke="#000" stroke-width="0.8" shape-rendering="crispEdges"/>
<rect x="555.17" y="530.66" width="1.96" height="9.75" fill="none" stroke="#5e5e5e" stroke-width="0.8" shape-rendering="crispEdges"/>
<rect x="555.17" y="527.58" width="1.96" height="3.08" fill="url(#pl)" stroke="#1a1a1a" stroke-width="0.8" shape-rendering="crispEdges"/>
<rect x="557.12" y="540.27" width="1.96" height="1.43" fill="#000" stroke="#000" stroke-width="0.8" shape-rendering="crispEdges"/>
<rect x="557.12" y="529.33" width="1.96" height="10.94" fill="none" stroke="#5e5e5e" stroke-width="0.8" shape-rendering="crispEdges"/>
<rect x="557.12" y="525.69" width="1.96" height="3.64" fill="url(#pl)" stroke="#1a1a1a" stroke-width="0.8" shape-rendering="crispEdges"/>
<rect x="559.08" y="540.52" width="1.96" height="1.18" fill="#000" stroke="#000" stroke-width="0.8" shape-rendering="crispEdges"/>
<rect x="559.08" y="531.76" width="1.96" height="8.75" fill="none" stroke="#5e5e5e" stroke-width="0.8" shape-rendering="crispEdges"/>
<rect x="559.08" y="528.99" width="1.96" height="2.78" fill="url(#pl)" stroke="#1a1a1a" stroke-width="0.8" shape-rendering="crispEdges"/>
<rect x="561.03" y="540.41" width="1.96" height="1.29" fill="#000" stroke="#000" stroke-width="0.8" shape-rendering="crispEdges"/>
<rect x="561.03" y="530.14" width="1.96" height="10.27" fill="none" stroke="#5e5e5e" stroke-width="0.8" shape-rendering="crispEdges"/>
<rect x="561.03" y="526.83" width="1.96" height="3.31" fill="url(#pl)" stroke="#1a1a1a" stroke-width="0.8" shape-rendering="crispEdges"/>
<rect x="562.98" y="540.91" width="1.96" height="0.79" fill="#000" stroke="#000" stroke-width="0.8" shape-rendering="crispEdges"/>
<rect x="562.98" y="534.62" width="1.96" height="6.30" fill="none" stroke="#5e5e5e" stroke-width="0.8" shape-rendering="crispEdges"/>
<rect x="562.98" y="532.72" width="1.96" height="1.90" fill="url(#pl)" stroke="#1a1a1a" stroke-width="0.8" shape-rendering="crispEdges"/>
<rect x="564.94" y="540.88" width="1.96" height="0.82" fill="#000" stroke="#000" stroke-width="0.8" shape-rendering="crispEdges"/>
<rect x="564.94" y="534.57" width="1.96" height="6.31" fill="none" stroke="#5e5e5e" stroke-width="0.8" shape-rendering="crispEdges"/>
<rect x="564.94" y="532.71" width="1.96" height="1.86" fill="url(#pl)" stroke="#1a1a1a" stroke-width="0.8" shape-rendering="crispEdges"/>
<rect x="566.89" y="540.79" width="1.96" height="0.91" fill="#000" stroke="#000" stroke-width="0.8" shape-rendering="crispEdges"/>
<rect x="566.89" y="533.50" width="1.96" height="7.29" fill="none" stroke="#5e5e5e" stroke-width="0.8" shape-rendering="crispEdges"/>
<rect x="566.89" y="531.02" width="1.96" height="2.47" fill="url(#pl)" stroke="#1a1a1a" stroke-width="0.8" shape-rendering="crispEdges"/>
<rect x="568.85" y="541.04" width="1.96" height="0.66" fill="#000" stroke="#000" stroke-width="0.8" shape-rendering="crispEdges"/>
<rect x="568.85" y="536.09" width="1.96" height="4.95" fill="none" stroke="#5e5e5e" stroke-width="0.8" shape-rendering="crispEdges"/>
<rect x="568.85" y="534.29" width="1.96" height="1.80" fill="url(#pl)" stroke="#1a1a1a" stroke-width="0.8" shape-rendering="crispEdges"/>
<rect x="570.80" y="540.82" width="1.96" height="0.88" fill="#000" stroke="#000" stroke-width="0.8" shape-rendering="crispEdges"/>
<rect x="570.80" y="534.18" width="1.96" height="6.63" fill="none" stroke="#5e5e5e" stroke-width="0.8" shape-rendering="crispEdges"/>
<rect x="570.80" y="531.71" width="1.96" height="2.47" fill="url(#pl)" stroke="#1a1a1a" stroke-width="0.8" shape-rendering="crispEdges"/>
<rect x="572.75" y="541.18" width="1.96" height="0.52" fill="#000" stroke="#000" stroke-width="0.8" shape-rendering="crispEdges"/>
<rect x="572.75" y="537.19" width="1.96" height="4.00" fill="none" stroke="#5e5e5e" stroke-width="0.8" shape-rendering="crispEdges"/>
<rect x="572.75" y="535.84" width="1.96" height="1.35" fill="url(#pl)" stroke="#1a1a1a" stroke-width="0.8" shape-rendering="crispEdges"/>
<rect x="574.71" y="541.16" width="1.96" height="0.54" fill="#000" stroke="#000" stroke-width="0.8" shape-rendering="crispEdges"/>
<rect x="574.71" y="537.34" width="1.96" height="3.82" fill="none" stroke="#5e5e5e" stroke-width="0.8" shape-rendering="crispEdges"/>
<rect x="574.71" y="536.12" width="1.96" height="1.22" fill="url(#pl)" stroke="#1a1a1a" stroke-width="0.8" shape-rendering="crispEdges"/>
<rect x="576.66" y="541.16" width="1.96" height="0.54" fill="#000" stroke="#000" stroke-width="0.8" shape-rendering="crispEdges"/>
<rect x="576.66" y="537.34" width="1.96" height="3.82" fill="none" stroke="#5e5e5e" stroke-width="0.8" shape-rendering="crispEdges"/>
<rect x="576.66" y="535.89" width="1.96" height="1.45" fill="url(#pl)" stroke="#1a1a1a" stroke-width="0.8" shape-rendering="crispEdges"/>
<rect x="578.62" y="541.22" width="1.96" height="0.48" fill="#000" stroke="#000" stroke-width="0.8" shape-rendering="crispEdges"/>
<rect x="578.62" y="537.57" width="1.96" height="3.64" fill="none" stroke="#5e5e5e" stroke-width="0.8" shape-rendering="crispEdges"/>
<rect x="578.62" y="536.29" width="1.96" height="1.29" fill="url(#pl)" stroke="#1a1a1a" stroke-width="0.8" shape-rendering="crispEdges"/>
<rect x="580.57" y="541.15" width="1.96" height="0.55" fill="#000" stroke="#000" stroke-width="0.8" shape-rendering="crispEdges"/>
<rect x="580.57" y="536.75" width="1.96" height="4.40" fill="none" stroke="#5e5e5e" stroke-width="0.8" shape-rendering="crispEdges"/>
<rect x="580.57" y="535.21" width="1.96" height="1.55" fill="url(#pl)" stroke="#1a1a1a" stroke-width="0.8" shape-rendering="crispEdges"/>
<rect x="582.52" y="541.29" width="1.96" height="0.41" fill="#000" stroke="#000" stroke-width="0.8" shape-rendering="crispEdges"/>
<rect x="582.52" y="538.19" width="1.96" height="3.11" fill="none" stroke="#5e5e5e" stroke-width="0.8" shape-rendering="crispEdges"/>
<rect x="582.52" y="537.12" width="1.96" height="1.07" fill="url(#pl)" stroke="#1a1a1a" stroke-width="0.8" shape-rendering="crispEdges"/>
<rect x="584.48" y="541.33" width="1.96" height="0.37" fill="#000" stroke="#000" stroke-width="0.8" shape-rendering="crispEdges"/>
<rect x="584.48" y="538.52" width="1.96" height="2.81" fill="none" stroke="#5e5e5e" stroke-width="0.8" shape-rendering="crispEdges"/>
<rect x="584.48" y="537.51" width="1.96" height="1.01" fill="url(#pl)" stroke="#1a1a1a" stroke-width="0.8" shape-rendering="crispEdges"/>
<rect x="586.43" y="541.38" width="1.96" height="0.32" fill="#000" stroke="#000" stroke-width="0.8" shape-rendering="crispEdges"/>
<rect x="586.43" y="538.92" width="1.96" height="2.46" fill="none" stroke="#5e5e5e" stroke-width="0.8" shape-rendering="crispEdges"/>
<rect x="586.43" y="537.99" width="1.96" height="0.93" fill="url(#pl)" stroke="#1a1a1a" stroke-width="0.8" shape-rendering="crispEdges"/>
<rect x="588.39" y="541.42" width="1.96" height="0.28" fill="#000" stroke="#000" stroke-width="0.8" shape-rendering="crispEdges"/>
<rect x="588.39" y="539.23" width="1.96" height="2.18" fill="none" stroke="#5e5e5e" stroke-width="0.8" shape-rendering="crispEdges"/>
<rect x="588.39" y="538.50" width="1.96" height="0.73" fill="url(#pl)" stroke="#1a1a1a" stroke-width="0.8" shape-rendering="crispEdges"/>
<rect x="590.34" y="541.38" width="1.96" height="0.32" fill="#000" stroke="#000" stroke-width="0.8" shape-rendering="crispEdges"/>
<rect x="590.34" y="539.04" width="1.96" height="2.34" fill="none" stroke="#5e5e5e" stroke-width="0.8" shape-rendering="crispEdges"/>
<rect x="590.34" y="538.31" width="1.96" height="0.73" fill="url(#pl)" stroke="#1a1a1a" stroke-width="0.8" shape-rendering="crispEdges"/>
<rect x="592.29" y="541.46" width="1.96" height="0.24" fill="#000" stroke="#000" stroke-width="0.8" shape-rendering="crispEdges"/>
<rect x="592.29" y="539.65" width="1.96" height="1.80" fill="none" stroke="#5e5e5e" stroke-width="0.8" shape-rendering="crispEdges"/>
<rect x="592.29" y="539.01" width="1.96" height="0.65" fill="url(#pl)" stroke="#1a1a1a" stroke-width="0.8" shape-rendering="crispEdges"/>
<rect x="594.25" y="541.50" width="1.96" height="0.20" fill="#000" stroke="#000" stroke-width="0.8" shape-rendering="crispEdges"/>
<rect x="594.25" y="539.75" width="1.96" height="1.75" fill="none" stroke="#5e5e5e" stroke-width="0.8" shape-rendering="crispEdges"/>
<rect x="594.25" y="539.26" width="1.96" height="0.49" fill="url(#pl)" stroke="#1a1a1a" stroke-width="0.8" shape-rendering="crispEdges"/>
<rect x="596.20" y="541.50" width="1.96" height="0.20" fill="#000" stroke="#000" stroke-width="0.8" shape-rendering="crispEdges"/>
<rect x="596.20" y="539.96" width="1.96" height="1.54" fill="none" stroke="#5e5e5e" stroke-width="0.8" shape-rendering="crispEdges"/>
<rect x="596.20" y="539.42" width="1.96" height="0.54" fill="url(#pl)" stroke="#1a1a1a" stroke-width="0.8" shape-rendering="crispEdges"/>
<rect x="598.16" y="541.54" width="1.96" height="0.16" fill="#000" stroke="#000" stroke-width="0.8" shape-rendering="crispEdges"/>
<rect x="598.16" y="540.25" width="1.96" height="1.29" fill="none" stroke="#5e5e5e" stroke-width="0.8" shape-rendering="crispEdges"/>
<rect x="598.16" y="539.76" width="1.96" height="0.49" fill="url(#pl)" stroke="#1a1a1a" stroke-width="0.8" shape-rendering="crispEdges"/>
<rect x="600.11" y="541.49" width="1.96" height="0.21" fill="#000" stroke="#000" stroke-width="0.8" shape-rendering="crispEdges"/>
<rect x="600.11" y="540.01" width="1.96" height="1.48" fill="none" stroke="#5e5e5e" stroke-width="0.8" shape-rendering="crispEdges"/>
<rect x="600.11" y="539.52" width="1.96" height="0.49" fill="url(#pl)" stroke="#1a1a1a" stroke-width="0.8" shape-rendering="crispEdges"/>
<rect x="602.06" y="541.54" width="1.96" height="0.16" fill="#000" stroke="#000" stroke-width="0.8" shape-rendering="crispEdges"/>
<rect x="602.06" y="540.45" width="1.96" height="1.09" fill="none" stroke="#5e5e5e" stroke-width="0.8" shape-rendering="crispEdges"/>
<rect x="602.06" y="540.11" width="1.96" height="0.33" fill="url(#pl)" stroke="#1a1a1a" stroke-width="0.8" shape-rendering="crispEdges"/>
<rect x="604.02" y="541.58" width="1.96" height="0.12" fill="#000" stroke="#000" stroke-width="0.8" shape-rendering="crispEdges"/>
<rect x="604.02" y="540.58" width="1.96" height="1.00" fill="none" stroke="#5e5e5e" stroke-width="0.8" shape-rendering="crispEdges"/>
<rect x="604.02" y="540.24" width="1.96" height="0.34" fill="url(#pl)" stroke="#1a1a1a" stroke-width="0.8" shape-rendering="crispEdges"/>
<rect x="605.97" y="541.58" width="1.96" height="0.12" fill="#000" stroke="#000" stroke-width="0.8" shape-rendering="crispEdges"/>
<rect x="605.97" y="540.67" width="1.96" height="0.91" fill="none" stroke="#5e5e5e" stroke-width="0.8" shape-rendering="crispEdges"/>
<rect x="605.97" y="540.40" width="1.96" height="0.27" fill="url(#pl)" stroke="#1a1a1a" stroke-width="0.8" shape-rendering="crispEdges"/>
<rect x="607.93" y="541.58" width="1.96" height="0.12" fill="#000" stroke="#000" stroke-width="0.8" shape-rendering="crispEdges"/>
<rect x="607.93" y="540.82" width="1.96" height="0.76" fill="none" stroke="#5e5e5e" stroke-width="0.8" shape-rendering="crispEdges"/>
<rect x="607.93" y="540.56" width="1.96" height="0.26" fill="url(#pl)" stroke="#1a1a1a" stroke-width="0.8" shape-rendering="crispEdges"/>
<rect x="609.88" y="541.58" width="1.96" height="0.12" fill="#000" stroke="#000" stroke-width="0.8" shape-rendering="crispEdges"/>
<rect x="609.88" y="540.77" width="1.96" height="0.81" fill="none" stroke="#5e5e5e" stroke-width="0.8" shape-rendering="crispEdges"/>
<rect x="609.88" y="540.47" width="1.96" height="0.30" fill="url(#pl)" stroke="#1a1a1a" stroke-width="0.8" shape-rendering="crispEdges"/>
<rect x="611.83" y="541.62" width="1.96" height="0.08" fill="#000" stroke="#000" stroke-width="0.8" shape-rendering="crispEdges"/>
<rect x="611.83" y="541.00" width="1.96" height="0.62" fill="none" stroke="#5e5e5e" stroke-width="0.8" shape-rendering="crispEdges"/>
<rect x="611.83" y="540.80" width="1.96" height="0.20" fill="url(#pl)" stroke="#1a1a1a" stroke-width="0.8" shape-rendering="crispEdges"/>
<rect x="613.79" y="541.62" width="1.96" height="0.08" fill="#000" stroke="#000" stroke-width="0.8" shape-rendering="crispEdges"/>
<rect x="613.79" y="541.13" width="1.96" height="0.49" fill="none" stroke="#5e5e5e" stroke-width="0.8" shape-rendering="crispEdges"/>
<rect x="613.79" y="540.97" width="1.96" height="0.17" fill="url(#pl)" stroke="#1a1a1a" stroke-width="0.8" shape-rendering="crispEdges"/>
<rect x="615.74" y="541.66" width="1.96" height="0.04" fill="#000" stroke="#000" stroke-width="0.8" shape-rendering="crispEdges"/>
<rect x="615.74" y="541.22" width="1.96" height="0.44" fill="none" stroke="#5e5e5e" stroke-width="0.8" shape-rendering="crispEdges"/>
<rect x="615.74" y="541.09" width="1.96" height="0.13" fill="url(#pl)" stroke="#1a1a1a" stroke-width="0.8" shape-rendering="crispEdges"/>
<rect x="617.70" y="541.66" width="1.96" height="0.04" fill="#000" stroke="#000" stroke-width="0.8" shape-rendering="crispEdges"/>
<rect x="617.70" y="541.33" width="1.96" height="0.33" fill="none" stroke="#5e5e5e" stroke-width="0.8" shape-rendering="crispEdges"/>
<rect x="617.70" y="541.22" width="1.96" height="0.11" fill="url(#pl)" stroke="#1a1a1a" stroke-width="0.8" shape-rendering="crispEdges"/>
<rect x="619.65" y="541.66" width="1.96" height="0.04" fill="#000" stroke="#000" stroke-width="0.8" shape-rendering="crispEdges"/>
<rect x="619.65" y="541.33" width="1.96" height="0.33" fill="none" stroke="#5e5e5e" stroke-width="0.8" shape-rendering="crispEdges"/>
<rect x="619.65" y="541.20" width="1.96" height="0.12" fill="url(#pl)" stroke="#1a1a1a" stroke-width="0.8" shape-rendering="crispEdges"/>
<rect x="621.60" y="541.66" width="1.96" height="0.04" fill="#000" stroke="#000" stroke-width="0.8" shape-rendering="crispEdges"/>
<rect x="621.60" y="541.45" width="1.96" height="0.21" fill="none" stroke="#5e5e5e" stroke-width="0.8" shape-rendering="crispEdges"/>
<rect x="621.60" y="541.38" width="1.96" height="0.08" fill="url(#pl)" stroke="#1a1a1a" stroke-width="0.8" shape-rendering="crispEdges"/>
<rect x="623.56" y="541.66" width="1.96" height="0.04" fill="#000" stroke="#000" stroke-width="0.8" shape-rendering="crispEdges"/>
<rect x="623.56" y="541.50" width="1.96" height="0.16" fill="none" stroke="#5e5e5e" stroke-width="0.8" shape-rendering="crispEdges"/>
<rect x="623.56" y="541.46" width="1.96" height="0.04" fill="url(#pl)" stroke="#1a1a1a" stroke-width="0.8" shape-rendering="crispEdges"/>
<rect x="625.51" y="541.58" width="1.96" height="0.12" fill="none" stroke="#5e5e5e" stroke-width="0.8" shape-rendering="crispEdges"/>
<rect x="625.51" y="541.54" width="1.96" height="0.04" fill="url(#pl)" stroke="#1a1a1a" stroke-width="0.8" shape-rendering="crispEdges"/>
<rect x="627.47" y="541.62" width="1.96" height="0.08" fill="none" stroke="#5e5e5e" stroke-width="0.8" shape-rendering="crispEdges"/>
<rect x="627.47" y="541.58" width="1.96" height="0.04" fill="url(#pl)" stroke="#1a1a1a" stroke-width="0.8" shape-rendering="crispEdges"/>
<rect x="629.42" y="541.62" width="1.96" height="0.08" fill="none" stroke="#5e5e5e" stroke-width="0.8" shape-rendering="crispEdges"/>
<rect x="424.50" y="317.50" width="217.00" height="224.20" fill="none" stroke="#636363" stroke-width="1" shape-rendering="crispEdges"/>
<line x1="419.90" y1="541.70" x2="424.50" y2="541.70" stroke="#636363" stroke-width="1" shape-rendering="crispEdges"/>
<text transform="translate(418.80,548.20) scale(1,1.0)" font-family="Liberation Sans, sans-serif" font-size="13.8" text-anchor="end" fill="#1a1a1a">0</text>
<line x1="419.90" y1="501.24" x2="424.50" y2="501.24" stroke="#636363" stroke-width="1" shape-rendering="crispEdges"/>
<text transform="translate(418.80,507.74) scale(1,1.0)" font-family="Liberation Sans, sans-serif" font-size="13.8" text-anchor="end" fill="#1a1a1a">1 000</text>
<line x1="419.90" y1="460.78" x2="424.50" y2="460.78" stroke="#636363" stroke-width="1" shape-rendering="crispEdges"/>
<text transform="translate(418.80,467.28) scale(1,1.0)" font-family="Liberation Sans, sans-serif" font-size="13.8" text-anchor="end" fill="#1a1a1a">2 000</text>
<line x1="419.90" y1="420.32" x2="424.50" y2="420.32" stroke="#636363" stroke-width="1" shape-rendering="crispEdges"/>
<text transform="translate(418.80,426.82) scale(1,1.0)" font-family="Liberation Sans, sans-serif" font-size="13.8" text-anchor="end" fill="#1a1a1a">3 000</text>
<line x1="419.90" y1="379.86" x2="424.50" y2="379.86" stroke="#636363" stroke-width="1" shape-rendering="crispEdges"/>
<text transform="translate(418.80,386.36) scale(1,1.0)" font-family="Liberation Sans, sans-serif" font-size="13.8" text-anchor="end" fill="#1a1a1a">4 000</text>
<line x1="419.90" y1="339.40" x2="424.50" y2="339.40" stroke="#636363" stroke-width="1" shape-rendering="crispEdges"/>
<text transform="translate(418.80,345.90) scale(1,1.0)" font-family="Liberation Sans, sans-serif" font-size="13.8" text-anchor="end" fill="#1a1a1a">5 000</text>
<line x1="435.00" y1="541.70" x2="435.00" y2="546.40" stroke="#636363" stroke-width="1" shape-rendering="crispEdges"/>
<text transform="translate(435.00,559.40) scale(1,1.0)" font-family="Liberation Sans, sans-serif" font-size="13.8" text-anchor="middle" fill="#1a1a1a">−100</text>
<line x1="483.85" y1="541.70" x2="483.85" y2="546.40" stroke="#636363" stroke-width="1" shape-rendering="crispEdges"/>
<text transform="translate(483.85,559.40) scale(1,1.0)" font-family="Liberation Sans, sans-serif" font-size="13.8" text-anchor="middle" fill="#1a1a1a">−50</text>
<line x1="532.70" y1="541.70" x2="532.70" y2="546.40" stroke="#636363" stroke-width="1" shape-rendering="crispEdges"/>
<text transform="translate(532.70,559.40) scale(1,1.0)" font-family="Liberation Sans, sans-serif" font-size="13.8" text-anchor="middle" fill="#1a1a1a">0</text>
<line x1="581.55" y1="541.70" x2="581.55" y2="546.40" stroke="#636363" stroke-width="1" shape-rendering="crispEdges"/>
<text transform="translate(581.55,559.40) scale(1,1.0)" font-family="Liberation Sans, sans-serif" font-size="13.8" text-anchor="middle" fill="#1a1a1a">50</text>
<line x1="630.40" y1="541.70" x2="630.40" y2="546.40" stroke="#636363" stroke-width="1" shape-rendering="crispEdges"/>
<text transform="translate(630.40,559.40) scale(1,1.0)" font-family="Liberation Sans, sans-serif" font-size="13.8" text-anchor="middle" fill="#1a1a1a">100</text>
<text transform="translate(532.50,578.00) scale(1,1.0)" font-family="Liberation Sans, sans-serif" font-size="12.8" text-anchor="middle" fill="#1a1a1a" textLength="189.00" lengthAdjust="spacing">Score change in VAS back pain</text>
<text transform="translate(532.80,591.20) scale(1,1.0)" font-family="Liberation Sans, sans-serif" font-size="12.8" text-anchor="middle" fill="#1a1a1a" textLength="206.60" lengthAdjust="spacing">between 1st and 2nd year postop</text>
<text transform="translate(369.90,428.50) rotate(-90) scale(1,1.0)" font-family="Liberation Sans, sans-serif" font-size="13.5" text-anchor="middle" fill="#1a1a1a" textLength="64.20" lengthAdjust="spacing">Frequency</text>
<rect x="643.20" y="334.70" width="10.60" height="10.40" fill="url(#pl)" stroke="#555" stroke-width="1"/>
<text transform="translate(656.50,345.20) scale(1,1.0)" font-family="Liberation Sans, sans-serif" font-size="13.5" text-anchor="start" fill="#1a1a1a" textLength="25.00" lengthAdjust="spacingAndGlyphs">LDH</text>
<rect x="643.20" y="349.90" width="10.60" height="10.40" fill="#fff" stroke="#777" stroke-width="1"/>
<text transform="translate(656.50,360.40) scale(1,1.0)" font-family="Liberation Sans, sans-serif" font-size="13.5" text-anchor="start" fill="#1a1a1a" textLength="19.30" lengthAdjust="spacingAndGlyphs">LSS</text>
<rect x="643.20" y="365.10" width="10.60" height="10.40" fill="#000" stroke="#000" stroke-width="1"/>
<text transform="translate(656.50,375.60) scale(1,1.0)" font-family="Liberation Sans, sans-serif" font-size="13.5" text-anchor="start" fill="#1a1a1a" textLength="28.40" lengthAdjust="spacingAndGlyphs">DDD</text>
<line x1="171.30" y1="648.00" x2="171.30" y2="865.90" stroke="#555" stroke-width="1.2"/>
<rect x="75.35" y="865.05" width="1.90" height="0.85" fill="#000" stroke="#000" stroke-width="0.8" shape-rendering="crispEdges"/>
<rect x="75.35" y="863.65" width="1.90" height="1.40" fill="none" stroke="#5e5e5e" stroke-width="0.8" shape-rendering="crispEdges"/>
<rect x="75.35" y="862.05" width="1.90" height="1.60" fill="url(#pl)" stroke="#1a1a1a" stroke-width="0.8" shape-rendering="crispEdges"/>
<rect x="77.25" y="865.10" width="1.90" height="0.80" fill="#000" stroke="#000" stroke-width="0.8" shape-rendering="crispEdges"/>
<rect x="77.25" y="863.30" width="1.90" height="1.81" fill="none" stroke="#5e5e5e" stroke-width="0.8" shape-rendering="crispEdges"/>
<rect x="77.25" y="861.66" width="1.90" height="1.64" fill="url(#pl)" stroke="#1a1a1a" stroke-width="0.8" shape-rendering="crispEdges"/>
<rect x="79.15" y="864.96" width="1.90" height="0.94" fill="#000" stroke="#000" stroke-width="0.8" shape-rendering="crispEdges"/>
<rect x="79.15" y="862.48" width="1.90" height="2.48" fill="none" stroke="#5e5e5e" stroke-width="0.8" shape-rendering="crispEdges"/>
<rect x="79.15" y="859.94" width="1.90" height="2.54" fill="url(#pl)" stroke="#1a1a1a" stroke-width="0.8" shape-rendering="crispEdges"/>
<rect x="81.05" y="864.15" width="1.90" height="1.75" fill="#000" stroke="#000" stroke-width="0.8" shape-rendering="crispEdges"/>
<rect x="81.05" y="859.66" width="1.90" height="4.49" fill="none" stroke="#5e5e5e" stroke-width="0.8" shape-rendering="crispEdges"/>
<rect x="81.05" y="855.29" width="1.90" height="4.37" fill="url(#pl)" stroke="#1a1a1a" stroke-width="0.8" shape-rendering="crispEdges"/>
<rect x="82.95" y="864.19" width="1.90" height="1.71" fill="#000" stroke="#000" stroke-width="0.8" shape-rendering="crispEdges"/>
<rect x="82.95" y="860.30" width="1.90" height="3.89" fill="none" stroke="#5e5e5e" stroke-width="0.8" shape-rendering="crispEdges"/>
<rect x="82.95" y="855.90" width="1.90" height="4.40" fill="url(#pl)" stroke="#1a1a1a" stroke-width="0.8" shape-rendering="crispEdges"/>
<rect x="84.85" y="863.05" width="1.90" height="2.85" fill="#000" stroke="#000" stroke-width="0.8" shape-rendering="crispEdges"/>
<rect x="84.85" y="856.64" width="1.90" height="6.40" fill="none" stroke="#5e5e5e" stroke-width="0.8" shape-rendering="crispEdges"/>
<rect x="84.85" y="848.85" width="1.90" height="7.80" fill="url(#pl)" stroke="#1a1a1a" stroke-width="0.8" shape-rendering="crispEdges"/>
<rect x="86.75" y="863.78" width="1.90" height="2.12" fill="#000" stroke="#000" stroke-width="0.8" shape-rendering="crispEdges"/>
<rect x="86.75" y="858.97" width="1.90" height="4.81" fill="none" stroke="#5e5e5e" stroke-width="0.8" shape-rendering="crispEdges"/>
<rect x="86.75" y="854.55" width="1.90" height="4.42" fill="url(#pl)" stroke="#1a1a1a" stroke-width="0.8" shape-rendering="crispEdges"/>
<rect x="88.65" y="863.73" width="1.90" height="2.17" fill="#000" stroke="#000" stroke-width="0.8" shape-rendering="crispEdges"/>
<rect x="88.65" y="858.93" width="1.90" height="4.81" fill="none" stroke="#5e5e5e" stroke-width="0.8" shape-rendering="crispEdges"/>
<rect x="88.65" y="854.47" width="1.90" height="4.46" fill="url(#pl)" stroke="#1a1a1a" stroke-width="0.8" shape-rendering="crispEdges"/>
<rect x="90.55" y="862.83" width="1.90" height="3.07" fill="#000" stroke="#000" stroke-width="0.8" shape-rendering="crispEdges"/>
<rect x="90.55" y="855.94" width="1.90" height="6.89" fill="none" stroke="#5e5e5e" stroke-width="0.8" shape-rendering="crispEdges"/>
<rect x="90.55" y="847.94" width="1.90" height="8.00" fill="url(#pl)" stroke="#1a1a1a" stroke-width="0.8" shape-rendering="crispEdges"/>
<rect x="92.45" y="863.39" width="1.90" height="2.51" fill="#000" stroke="#000" stroke-width="0.8" shape-rendering="crispEdges"/>
<rect x="92.45" y="857.18" width="1.90" height="6.21" fill="none" stroke="#5e5e5e" stroke-width="0.8" shape-rendering="crispEdges"/>
<rect x="92.45" y="850.95" width="1.90" height="6.23" fill="url(#pl)" stroke="#1a1a1a" stroke-width="0.8" shape-rendering="crispEdges"/>
<rect x="94.35" y="862.07" width="1.90" height="3.83" fill="#000" stroke="#000" stroke-width="0.8" shape-rendering="crispEdges"/>
<rect x="94.35" y="852.26" width="1.90" height="9.80" fill="none" stroke="#5e5e5e" stroke-width="0.8" shape-rendering="crispEdges"/>
<rect x="94.35" y="844.68" width="1.90" height="7.59" fill="url(#pl)" stroke="#1a1a1a" stroke-width="0.8" shape-rendering="crispEdges"/>
<rect x="96.25" y="862.95" width="1.90" height="2.95" fill="#000" stroke="#000" stroke-width="0.8" shape-rendering="crispEdges"/>
<rect x="96.25" y="856.25" width="1.90" height="6.70" fill="none" stroke="#5e5e5e" stroke-width="0.8" shape-rendering="crispEdges"/>
<rect x="96.25" y="848.78" width="1.90" height="7.47" fill="url(#pl)" stroke="#1a1a1a" stroke-width="0.8" shape-rendering="crispEdges"/>
<rect x="98.15" y="863.01" width="1.90" height="2.89" fill="#000" stroke="#000" stroke-width="0.8" shape-rendering="crispEdges"/>
<rect x="98.15" y="855.09" width="1.90" height="7.92" fill="none" stroke="#5e5e5e" stroke-width="0.8" shape-rendering="crispEdges"/>
<rect x="98.15" y="848.22" width="1.90" height="6.88" fill="url(#pl)" stroke="#1a1a1a" stroke-width="0.8" shape-rendering="crispEdges"/>
<rect x="100.05" y="861.74" width="1.90" height="4.16" fill="#000" stroke="#000" stroke-width="0.8" shape-rendering="crispEdges"/>
<rect x="100.05" y="852.14" width="1.90" height="9.60" fill="none" stroke="#5e5e5e" stroke-width="0.8" shape-rendering="crispEdges"/>
<rect x="100.05" y="842.69" width="1.90" height="9.45" fill="url(#pl)" stroke="#1a1a1a" stroke-width="0.8" shape-rendering="crispEdges"/>
<rect x="101.95" y="862.70" width="1.90" height="3.20" fill="#000" stroke="#000" stroke-width="0.8" shape-rendering="crispEdges"/>
<rect x="101.95" y="854.11" width="1.90" height="8.59" fill="none" stroke="#5e5e5e" stroke-width="0.8" shape-rendering="crispEdges"/>
<rect x="101.95" y="847.49" width="1.90" height="6.62" fill="url(#pl)" stroke="#1a1a1a" stroke-width="0.8" shape-rendering="crispEdges"/>
<rect x="103.85" y="861.33" width="1.90" height="4.57" fill="#000" stroke="#000" stroke-width="0.8" shape-rendering="crispEdges"/>
<rect x="103.85" y="848.95" width="1.90" height="12.38" fill="none" stroke="#5e5e5e" stroke-width="0.8" shape-rendering="crispEdges"/>
<rect x="103.85" y="838.41" width="1.90" height="10.54" fill="url(#pl)" stroke="#1a1a1a" stroke-width="0.8" shape-rendering="crispEdges"/>
<rect x="105.75" y="862.49" width="1.90" height="3.41" fill="#000" stroke="#000" stroke-width="0.8" shape-rendering="crispEdges"/>
<rect x="105.75" y="853.64" width="1.90" height="8.86" fill="none" stroke="#5e5e5e" stroke-width="0.8" shape-rendering="crispEdges"/>
<rect x="105.75" y="846.60" width="1.90" height="7.04" fill="url(#pl)" stroke="#1a1a1a" stroke-width="0.8" shape-rendering="crispEdges"/>
<rect x="107.65" y="862.36" width="1.90" height="3.54" fill="#000" stroke="#000" stroke-width="0.8" shape-rendering="crispEdges"/>
<rect x="107.65" y="854.23" width="1.90" height="8.13" fill="none" stroke="#5e5e5e" stroke-width="0.8" shape-rendering="crispEdges"/>
<rect x="107.65" y="846.90" width="1.90" height="7.33" fill="url(#pl)" stroke="#1a1a1a" stroke-width="0.8" shape-rendering="crispEdges"/>
<rect x="109.55" y="861.29" width="1.90" height="4.61" fill="#000" stroke="#000" stroke-width="0.8" shape-rendering="crispEdges"/>
<rect x="109.55" y="850.22" width="1.90" height="11.07" fill="none" stroke="#5e5e5e" stroke-width="0.8" shape-rendering="crispEdges"/>
<rect x="109.55" y="841.54" width="1.90" height="8.69" fill="url(#pl)" stroke="#1a1a1a" stroke-width="0.8" shape-rendering="crispEdges"/>
<rect x="111.45" y="862.33" width="1.90" height="3.57" fill="#000" stroke="#000" stroke-width="0.8" shape-rendering="crispEdges"/>
<rect x="111.45" y="854.20" width="1.90" height="8.13" fill="none" stroke="#5e5e5e" stroke-width="0.8" shape-rendering="crispEdges"/>
<rect x="111.45" y="846.41" width="1.90" height="7.79" fill="url(#pl)" stroke="#1a1a1a" stroke-width="0.8" shape-rendering="crispEdges"/>
<rect x="113.35" y="861.03" width="1.90" height="4.87" fill="#000" stroke="#000" stroke-width="0.8" shape-rendering="crispEdges"/>
<rect x="113.35" y="849.13" width="1.90" height="11.90" fill="none" stroke="#5e5e5e" stroke-width="0.8" shape-rendering="crispEdges"/>
<rect x="113.35" y="837.54" width="1.90" height="11.59" fill="url(#pl)" stroke="#1a1a1a" stroke-width="0.8" shape-rendering="crispEdges"/>
<rect x="115.25" y="862.44" width="1.90" height="3.46" fill="#000" stroke="#000" stroke-width="0.8" shape-rendering="crispEdges"/>
<rect x="115.25" y="853.80" width="1.90" height="8.64" fill="none" stroke="#5e5e5e" stroke-width="0.8" shape-rendering="crispEdges"/>
<rect x="115.25" y="845.92" width="1.90" height="7.88" fill="url(#pl)" stroke="#1a1a1a" stroke-width="0.8" shape-rendering="crispEdges"/>
<rect x="117.15" y="862.41" width="1.90" height="3.49" fill="#000" stroke="#000" stroke-width="0.8" shape-rendering="crispEdges"/>
<rect x="117.15" y="853.77" width="1.90" height="8.65" fill="none" stroke="#5e5e5e" stroke-width="0.8" shape-rendering="crispEdges"/>
<rect x="117.15" y="847.57" width="1.90" height="6.20" fill="url(#pl)" stroke="#1a1a1a" stroke-width="0.8" shape-rendering="crispEdges"/>
<rect x="119.05" y="861.26" width="1.90" height="4.64" fill="#000" stroke="#000" stroke-width="0.8" shape-rendering="crispEdges"/>
<rect x="119.05" y="850.89" width="1.90" height="10.38" fill="none" stroke="#5e5e5e" stroke-width="0.8" shape-rendering="crispEdges"/>
<rect x="119.05" y="841.50" width="1.90" height="9.39" fill="url(#pl)" stroke="#1a1a1a" stroke-width="0.8" shape-rendering="crispEdges"/>
<rect x="120.95" y="862.40" width="1.90" height="3.50" fill="#000" stroke="#000" stroke-width="0.8" shape-rendering="crispEdges"/>
<rect x="120.95" y="854.12" width="1.90" height="8.27" fill="none" stroke="#5e5e5e" stroke-width="0.8" shape-rendering="crispEdges"/>
<rect x="120.95" y="846.34" width="1.90" height="7.79" fill="url(#pl)" stroke="#1a1a1a" stroke-width="0.8" shape-rendering="crispEdges"/>
<rect x="122.85" y="860.89" width="1.90" height="5.01" fill="#000" stroke="#000" stroke-width="0.8" shape-rendering="crispEdges"/>
<rect x="122.85" y="848.32" width="1.90" height="12.56" fill="none" stroke="#5e5e5e" stroke-width="0.8" shape-rendering="crispEdges"/>
<rect x="122.85" y="837.38" width="1.90" height="10.94" fill="url(#pl)" stroke="#1a1a1a" stroke-width="0.8" shape-rendering="crispEdges"/>
<rect x="124.75" y="862.20" width="1.90" height="3.70" fill="#000" stroke="#000" stroke-width="0.8" shape-rendering="crispEdges"/>
<rect x="124.75" y="853.63" width="1.90" height="8.57" fill="none" stroke="#5e5e5e" stroke-width="0.8" shape-rendering="crispEdges"/>
<rect x="124.75" y="846.33" width="1.90" height="7.30" fill="url(#pl)" stroke="#1a1a1a" stroke-width="0.8" shape-rendering="crispEdges"/>
<rect x="126.65" y="862.15" width="1.90" height="3.75" fill="#000" stroke="#000" stroke-width="0.8" shape-rendering="crispEdges"/>
<rect x="126.65" y="853.43" width="1.90" height="8.71" fill="none" stroke="#5e5e5e" stroke-width="0.8" shape-rendering="crispEdges"/>
<rect x="126.65" y="846.20" width="1.90" height="7.24" fill="url(#pl)" stroke="#1a1a1a" stroke-width="0.8" shape-rendering="crispEdges"/>
<rect x="128.55" y="861.15" width="1.90" height="4.75" fill="#000" stroke="#000" stroke-width="0.8" shape-rendering="crispEdges"/>
<rect x="128.55" y="850.73" width="1.90" height="10.42" fill="none" stroke="#5e5e5e" stroke-width="0.8" shape-rendering="crispEdges"/>
<rect x="128.55" y="841.14" width="1.90" height="9.59" fill="url(#pl)" stroke="#1a1a1a" stroke-width="0.8" shape-rendering="crispEdges"/>
<rect x="130.45" y="862.26" width="1.90" height="3.64" fill="#000" stroke="#000" stroke-width="0.8" shape-rendering="crispEdges"/>
<rect x="130.45" y="854.41" width="1.90" height="7.85" fill="none" stroke="#5e5e5e" stroke-width="0.8" shape-rendering="crispEdges"/>
<rect x="130.45" y="847.60" width="1.90" height="6.80" fill="url(#pl)" stroke="#1a1a1a" stroke-width="0.8" shape-rendering="crispEdges"/>
<rect x="132.35" y="860.56" width="1.90" height="5.34" fill="#000" stroke="#000" stroke-width="0.8" shape-rendering="crispEdges"/>
<rect x="132.35" y="849.38" width="1.90" height="11.17" fill="none" stroke="#5e5e5e" stroke-width="0.8" shape-rendering="crispEdges"/>
<rect x="132.35" y="839.39" width="1.90" height="9.99" fill="url(#pl)" stroke="#1a1a1a" stroke-width="0.8" shape-rendering="crispEdges"/>
<rect x="134.25" y="862.31" width="1.90" height="3.59" fill="#000" stroke="#000" stroke-width="0.8" shape-rendering="crispEdges"/>
<rect x="134.25" y="854.05" width="1.90" height="8.26" fill="none" stroke="#5e5e5e" stroke-width="0.8" shape-rendering="crispEdges"/>
<rect x="134.25" y="847.26" width="1.90" height="6.79" fill="url(#pl)" stroke="#1a1a1a" stroke-width="0.8" shape-rendering="crispEdges"/>
<rect x="136.15" y="862.09" width="1.90" height="3.81" fill="#000" stroke="#000" stroke-width="0.8" shape-rendering="crispEdges"/>
<rect x="136.15" y="854.90" width="1.90" height="7.19" fill="none" stroke="#5e5e5e" stroke-width="0.8" shape-rendering="crispEdges"/>
<rect x="136.15" y="847.65" width="1.90" height="7.25" fill="url(#pl)" stroke="#1a1a1a" stroke-width="0.8" shape-rendering="crispEdges"/>
<rect x="138.05" y="861.09" width="1.90" height="4.81" fill="#000" stroke="#000" stroke-width="0.8" shape-rendering="crispEdges"/>
<rect x="138.05" y="851.19" width="1.90" height="9.91" fill="none" stroke="#5e5e5e" stroke-width="0.8" shape-rendering="crispEdges"/>
<rect x="138.05" y="842.86" width="1.90" height="8.33" fill="url(#pl)" stroke="#1a1a1a" stroke-width="0.8" shape-rendering="crispEdges"/>
<rect x="139.95" y="862.04" width="1.90" height="3.86" fill="#000" stroke="#000" stroke-width="0.8" shape-rendering="crispEdges"/>
<rect x="139.95" y="855.00" width="1.90" height="7.03" fill="none" stroke="#5e5e5e" stroke-width="0.8" shape-rendering="crispEdges"/>
<rect x="139.95" y="849.04" width="1.90" height="5.96" fill="url(#pl)" stroke="#1a1a1a" stroke-width="0.8" shape-rendering="crispEdges"/>
<rect x="141.85" y="860.51" width="1.90" height="5.39" fill="#000" stroke="#000" stroke-width="0.8" shape-rendering="crispEdges"/>
<rect x="141.85" y="849.94" width="1.90" height="10.57" fill="none" stroke="#5e5e5e" stroke-width="0.8" shape-rendering="crispEdges"/>
<rect x="141.85" y="841.71" width="1.90" height="8.23" fill="url(#pl)" stroke="#1a1a1a" stroke-width="0.8" shape-rendering="crispEdges"/>
<rect x="143.75" y="861.91" width="1.90" height="3.99" fill="#000" stroke="#000" stroke-width="0.8" shape-rendering="crispEdges"/>
<rect x="143.75" y="854.72" width="1.90" height="7.19" fill="none" stroke="#5e5e5e" stroke-width="0.8" shape-rendering="crispEdges"/>
<rect x="143.75" y="848.86" width="1.90" height="5.86" fill="url(#pl)" stroke="#1a1a1a" stroke-width="0.8" shape-rendering="crispEdges"/>
<rect x="145.65" y="861.98" width="1.90" height="3.92" fill="#000" stroke="#000" stroke-width="0.8" shape-rendering="crispEdges"/>
<rect x="145.65" y="854.63" width="1.90" height="7.36" fill="none" stroke="#5e5e5e" stroke-width="0.8" shape-rendering="crispEdges"/>
<rect x="145.65" y="848.54" width="1.90" height="6.09" fill="url(#pl)" stroke="#1a1a1a" stroke-width="0.8" shape-rendering="crispEdges"/>
<rect x="147.55" y="860.83" width="1.90" height="5.07" fill="#000" stroke="#000" stroke-width="0.8" shape-rendering="crispEdges"/>
<rect x="147.55" y="851.10" width="1.90" height="9.73" fill="none" stroke="#5e5e5e" stroke-width="0.8" shape-rendering="crispEdges"/>
<rect x="147.55" y="843.38" width="1.90" height="7.72" fill="url(#pl)" stroke="#1a1a1a" stroke-width="0.8" shape-rendering="crispEdges"/>
<rect x="149.45" y="861.97" width="1.90" height="3.93" fill="#000" stroke="#000" stroke-width="0.8" shape-rendering="crispEdges"/>
<rect x="149.45" y="854.10" width="1.90" height="7.87" fill="none" stroke="#5e5e5e" stroke-width="0.8" shape-rendering="crispEdges"/>
<rect x="149.45" y="847.60" width="1.90" height="6.50" fill="url(#pl)" stroke="#1a1a1a" stroke-width="0.8" shape-rendering="crispEdges"/>
<rect x="151.35" y="860.20" width="1.90" height="5.70" fill="#000" stroke="#000" stroke-width="0.8" shape-rendering="crispEdges"/>
<rect x="151.35" y="849.84" width="1.90" height="10.36" fill="none" stroke="#5e5e5e" stroke-width="0.8" shape-rendering="crispEdges"/>
<rect x="151.35" y="841.02" width="1.90" height="8.83" fill="url(#pl)" stroke="#1a1a1a" stroke-width="0.8" shape-rendering="crispEdges"/>
<rect x="153.25" y="861.69" width="1.90" height="4.21" fill="#000" stroke="#000" stroke-width="0.8" shape-rendering="crispEdges"/>
<rect x="153.25" y="853.91" width="1.90" height="7.79" fill="none" stroke="#5e5e5e" stroke-width="0.8" shape-rendering="crispEdges"/>
<rect x="153.25" y="848.67" width="1.90" height="5.24" fill="url(#pl)" stroke="#1a1a1a" stroke-width="0.8" shape-rendering="crispEdges"/>
<rect x="155.15" y="861.71" width="1.90" height="4.19" fill="#000" stroke="#000" stroke-width="0.8" shape-rendering="crispEdges"/>
<rect x="155.15" y="853.77" width="1.90" height="7.94" fill="none" stroke="#5e5e5e" stroke-width="0.8" shape-rendering="crispEdges"/>
<rect x="155.15" y="848.23" width="1.90" height="5.53" fill="url(#pl)" stroke="#1a1a1a" stroke-width="0.8" shape-rendering="crispEdges"/>
<rect x="157.05" y="860.27" width="1.90" height="5.63" fill="#000" stroke="#000" stroke-width="0.8" shape-rendering="crispEdges"/>
<rect x="157.05" y="850.08" width="1.90" height="10.19" fill="none" stroke="#5e5e5e" stroke-width="0.8" shape-rendering="crispEdges"/>
<rect x="157.05" y="842.82" width="1.90" height="7.26" fill="url(#pl)" stroke="#1a1a1a" stroke-width="0.8" shape-rendering="crispEdges"/>
<rect x="158.95" y="861.31" width="1.90" height="4.59" fill="#000" stroke="#000" stroke-width="0.8" shape-rendering="crispEdges"/>
<rect x="158.95" y="853.87" width="1.90" height="7.44" fill="none" stroke="#5e5e5e" stroke-width="0.8" shape-rendering="crispEdges"/>
<rect x="158.95" y="847.50" width="1.90" height="6.37" fill="url(#pl)" stroke="#1a1a1a" stroke-width="0.8" shape-rendering="crispEdges"/>
<rect x="160.85" y="859.66" width="1.90" height="6.24" fill="#000" stroke="#000" stroke-width="0.8" shape-rendering="crispEdges"/>
<rect x="160.85" y="848.61" width="1.90" height="11.05" fill="none" stroke="#5e5e5e" stroke-width="0.8" shape-rendering="crispEdges"/>
<rect x="160.85" y="839.01" width="1.90" height="9.60" fill="url(#pl)" stroke="#1a1a1a" stroke-width="0.8" shape-rendering="crispEdges"/>
<rect x="162.75" y="861.19" width="1.90" height="4.71" fill="#000" stroke="#000" stroke-width="0.8" shape-rendering="crispEdges"/>
<rect x="162.75" y="852.75" width="1.90" height="8.44" fill="none" stroke="#5e5e5e" stroke-width="0.8" shape-rendering="crispEdges"/>
<rect x="162.75" y="846.15" width="1.90" height="6.59" fill="url(#pl)" stroke="#1a1a1a" stroke-width="0.8" shape-rendering="crispEdges"/>
<rect x="164.65" y="860.92" width="1.90" height="4.98" fill="#000" stroke="#000" stroke-width="0.8" shape-rendering="crispEdges"/>
<rect x="164.65" y="852.09" width="1.90" height="8.83" fill="none" stroke="#5e5e5e" stroke-width="0.8" shape-rendering="crispEdges"/>
<rect x="164.65" y="846.01" width="1.90" height="6.08" fill="url(#pl)" stroke="#1a1a1a" stroke-width="0.8" shape-rendering="crispEdges"/>
<rect x="166.55" y="859.05" width="1.90" height="6.85" fill="#000" stroke="#000" stroke-width="0.8" shape-rendering="crispEdges"/>
<rect x="166.55" y="846.61" width="1.90" height="12.44" fill="none" stroke="#5e5e5e" stroke-width="0.8" shape-rendering="crispEdges"/>
<rect x="166.55" y="836.75" width="1.90" height="9.86" fill="url(#pl)" stroke="#1a1a1a" stroke-width="0.8" shape-rendering="crispEdges"/>
<rect x="168.45" y="860.03" width="1.90" height="5.87" fill="#000" stroke="#000" stroke-width="0.8" shape-rendering="crispEdges"/>
<rect x="168.45" y="849.38" width="1.90" height="10.65" fill="none" stroke="#5e5e5e" stroke-width="0.8" shape-rendering="crispEdges"/>
<rect x="168.45" y="842.37" width="1.90" height="7.02" fill="url(#pl)" stroke="#1a1a1a" stroke-width="0.8" shape-rendering="crispEdges"/>
<rect x="170.35" y="856.90" width="1.90" height="9.00" fill="#000" stroke="#000" stroke-width="0.8" shape-rendering="crispEdges"/>
<rect x="170.35" y="844.26" width="1.90" height="12.63" fill="none" stroke="#5e5e5e" stroke-width="0.8" shape-rendering="crispEdges"/>
<rect x="170.35" y="832.84" width="1.90" height="11.43" fill="url(#pl)" stroke="#1a1a1a" stroke-width="0.8" shape-rendering="crispEdges"/>
<rect x="172.25" y="860.18" width="1.90" height="5.72" fill="#000" stroke="#000" stroke-width="0.8" shape-rendering="crispEdges"/>
<rect x="172.25" y="849.47" width="1.90" height="10.71" fill="none" stroke="#5e5e5e" stroke-width="0.8" shape-rendering="crispEdges"/>
<rect x="172.25" y="845.42" width="1.90" height="4.05" fill="url(#pl)" stroke="#1a1a1a" stroke-width="0.8" shape-rendering="crispEdges"/>
<rect x="174.15" y="861.19" width="1.90" height="4.71" fill="#000" stroke="#000" stroke-width="0.8" shape-rendering="crispEdges"/>
<rect x="174.15" y="851.28" width="1.90" height="9.91" fill="none" stroke="#5e5e5e" stroke-width="0.8" shape-rendering="crispEdges"/>
<rect x="174.15" y="848.43" width="1.90" height="2.84" fill="url(#pl)" stroke="#1a1a1a" stroke-width="0.8" shape-rendering="crispEdges"/>
<rect x="176.05" y="860.56" width="1.90" height="5.34" fill="#000" stroke="#000" stroke-width="0.8" shape-rendering="crispEdges"/>
<rect x="176.05" y="848.24" width="1.90" height="12.32" fill="none" stroke="#5e5e5e" stroke-width="0.8" shape-rendering="crispEdges"/>
<rect x="176.05" y="843.63" width="1.90" height="4.61" fill="url(#pl)" stroke="#1a1a1a" stroke-width="0.8" shape-rendering="crispEdges"/>
<rect x="177.95" y="862.44" width="1.90" height="3.46" fill="#000" stroke="#000" stroke-width="0.8" shape-rendering="crispEdges"/>
<rect x="177.95" y="854.82" width="1.90" height="7.61" fill="none" stroke="#5e5e5e" stroke-width="0.8" shape-rendering="crispEdges"/>
<rect x="177.95" y="852.54" width="1.90" height="2.28" fill="url(#pl)" stroke="#1a1a1a" stroke-width="0.8" shape-rendering="crispEdges"/>
<rect x="179.85" y="861.95" width="1.90" height="3.95" fill="#000" stroke="#000" stroke-width="0.8" shape-rendering="crispEdges"/>
<rect x="179.85" y="850.59" width="1.90" height="11.36" fill="none" stroke="#5e5e5e" stroke-width="0.8" shape-rendering="crispEdges"/>
<rect x="179.85" y="848.90" width="1.90" height="1.70" fill="url(#pl)" stroke="#1a1a1a" stroke-width="0.8" shape-rendering="crispEdges"/>
<rect x="181.75" y="863.50" width="1.90" height="2.40" fill="#000" stroke="#000" stroke-width="0.8" shape-rendering="crispEdges"/>
<rect x="181.75" y="857.05" width="1.90" height="6.45" fill="none" stroke="#5e5e5e" stroke-width="0.8" shape-rendering="crispEdges"/>
<rect x="181.75" y="855.90" width="1.90" height="1.15" fill="url(#pl)" stroke="#1a1a1a" stroke-width="0.8" shape-rendering="crispEdges"/>
<rect x="183.65" y="863.80" width="1.90" height="2.10" fill="#000" stroke="#000" stroke-width="0.8" shape-rendering="crispEdges"/>
<rect x="183.65" y="857.37" width="1.90" height="6.43" fill="none" stroke="#5e5e5e" stroke-width="0.8" shape-rendering="crispEdges"/>
<rect x="183.65" y="856.32" width="1.90" height="1.05" fill="url(#pl)" stroke="#1a1a1a" stroke-width="0.8" shape-rendering="crispEdges"/>
<rect x="185.55" y="863.69" width="1.90" height="2.21" fill="#000" stroke="#000" stroke-width="0.8" shape-rendering="crispEdges"/>
<rect x="185.55" y="857.03" width="1.90" height="6.66" fill="none" stroke="#5e5e5e" stroke-width="0.8" shape-rendering="crispEdges"/>
<rect x="185.55" y="855.26" width="1.90" height="1.77" fill="url(#pl)" stroke="#1a1a1a" stroke-width="0.8" shape-rendering="crispEdges"/>
<rect x="187.45" y="864.41" width="1.90" height="1.49" fill="#000" stroke="#000" stroke-width="0.8" shape-rendering="crispEdges"/>
<rect x="187.45" y="860.24" width="1.90" height="4.16" fill="none" stroke="#5e5e5e" stroke-width="0.8" shape-rendering="crispEdges"/>
<rect x="187.45" y="859.21" width="1.90" height="1.03" fill="url(#pl)" stroke="#1a1a1a" stroke-width="0.8" shape-rendering="crispEdges"/>
<rect x="189.35" y="864.03" width="1.90" height="1.87" fill="#000" stroke="#000" stroke-width="0.8" shape-rendering="crispEdges"/>
<rect x="189.35" y="857.77" width="1.90" height="6.26" fill="none" stroke="#5e5e5e" stroke-width="0.8" shape-rendering="crispEdges"/>
<rect x="189.35" y="856.47" width="1.90" height="1.30" fill="url(#pl)" stroke="#1a1a1a" stroke-width="0.8" shape-rendering="crispEdges"/>
<rect x="191.25" y="864.81" width="1.90" height="1.09" fill="#000" stroke="#000" stroke-width="0.8" shape-rendering="crispEdges"/>
<rect x="191.25" y="861.34" width="1.90" height="3.47" fill="none" stroke="#5e5e5e" stroke-width="0.8" shape-rendering="crispEdges"/>
<rect x="191.25" y="860.67" width="1.90" height="0.67" fill="url(#pl)" stroke="#1a1a1a" stroke-width="0.8" shape-rendering="crispEdges"/>
<rect x="193.15" y="864.89" width="1.90" height="1.01" fill="#000" stroke="#000" stroke-width="0.8" shape-rendering="crispEdges"/>
<rect x="193.15" y="861.10" width="1.90" height="3.79" fill="none" stroke="#5e5e5e" stroke-width="0.8" shape-rendering="crispEdges"/>
<rect x="193.15" y="860.63" width="1.90" height="0.47" fill="url(#pl)" stroke="#1a1a1a" stroke-width="0.8" shape-rendering="crispEdges"/>
<rect x="195.05" y="864.72" width="1.90" height="1.18" fill="#000" stroke="#000" stroke-width="0.8" shape-rendering="crispEdges"/>
<rect x="195.05" y="859.88" width="1.90" height="4.84" fill="none" stroke="#5e5e5e" stroke-width="0.8" shape-rendering="crispEdges"/>
<rect x="195.05" y="858.88" width="1.90" height="1.01" fill="url(#pl)" stroke="#1a1a1a" stroke-width="0.8" shape-rendering="crispEdges"/>
<rect x="196.95" y="865.13" width="1.90" height="0.77" fill="#000" stroke="#000" stroke-width="0.8" shape-rendering="crispEdges"/>
<rect x="196.95" y="862.51" width="1.90" height="2.62" fill="none" stroke="#5e5e5e" stroke-width="0.8" shape-rendering="crispEdges"/>
<rect x="196.95" y="861.83" width="1.90" height="0.68" fill="url(#pl)" stroke="#1a1a1a" stroke-width="0.8" shape-rendering="crispEdges"/>
<rect x="198.85" y="864.93" width="1.90" height="0.97" fill="#000" stroke="#000" stroke-width="0.8" shape-rendering="crispEdges"/>
<rect x="198.85" y="861.16" width="1.90" height="3.77" fill="none" stroke="#5e5e5e" stroke-width="0.8" shape-rendering="crispEdges"/>
<rect x="198.85" y="860.48" width="1.90" height="0.68" fill="url(#pl)" stroke="#1a1a1a" stroke-width="0.8" shape-rendering="crispEdges"/>
<rect x="200.75" y="865.29" width="1.90" height="0.61" fill="#000" stroke="#000" stroke-width="0.8" shape-rendering="crispEdges"/>
<rect x="200.75" y="862.89" width="1.90" height="2.40" fill="none" stroke="#5e5e5e" stroke-width="0.8" shape-rendering="crispEdges"/>
<rect x="200.75" y="862.33" width="1.90" height="0.56" fill="url(#pl)" stroke="#1a1a1a" stroke-width="0.8" shape-rendering="crispEdges"/>
<rect x="202.65" y="865.36" width="1.90" height="0.54" fill="#000" stroke="#000" stroke-width="0.8" shape-rendering="crispEdges"/>
<rect x="202.65" y="863.12" width="1.90" height="2.24" fill="none" stroke="#5e5e5e" stroke-width="0.8" shape-rendering="crispEdges"/>
<rect x="202.65" y="862.75" width="1.90" height="0.37" fill="url(#pl)" stroke="#1a1a1a" stroke-width="0.8" shape-rendering="crispEdges"/>
<rect x="204.55" y="865.24" width="1.90" height="0.66" fill="#000" stroke="#000" stroke-width="0.8" shape-rendering="crispEdges"/>
<rect x="204.55" y="862.54" width="1.90" height="2.70" fill="none" stroke="#5e5e5e" stroke-width="0.8" shape-rendering="crispEdges"/>
<rect x="204.55" y="862.02" width="1.90" height="0.52" fill="url(#pl)" stroke="#1a1a1a" stroke-width="0.8" shape-rendering="crispEdges"/>
<rect x="206.45" y="865.42" width="1.90" height="0.48" fill="#000" stroke="#000" stroke-width="0.8" shape-rendering="crispEdges"/>
<rect x="206.45" y="863.36" width="1.90" height="2.06" fill="none" stroke="#5e5e5e" stroke-width="0.8" shape-rendering="crispEdges"/>
<rect x="206.45" y="862.89" width="1.90" height="0.47" fill="url(#pl)" stroke="#1a1a1a" stroke-width="0.8" shape-rendering="crispEdges"/>
<rect x="208.35" y="865.24" width="1.90" height="0.66" fill="#000" stroke="#000" stroke-width="0.8" shape-rendering="crispEdges"/>
<rect x="208.35" y="862.62" width="1.90" height="2.62" fill="none" stroke="#5e5e5e" stroke-width="0.8" shape-rendering="crispEdges"/>
<rect x="208.35" y="862.12" width="1.90" height="0.50" fill="url(#pl)" stroke="#1a1a1a" stroke-width="0.8" shape-rendering="crispEdges"/>
<rect x="210.25" y="865.46" width="1.90" height="0.44" fill="#000" stroke="#000" stroke-width="0.8" shape-rendering="crispEdges"/>
<rect x="210.25" y="863.74" width="1.90" height="1.72" fill="none" stroke="#5e5e5e" stroke-width="0.8" shape-rendering="crispEdges"/>
<rect x="210.25" y="863.41" width="1.90" height="0.33" fill="url(#pl)" stroke="#1a1a1a" stroke-width="0.8" shape-rendering="crispEdges"/>
<rect x="212.15" y="865.52" width="1.90" height="0.38" fill="#000" stroke="#000" stroke-width="0.8" shape-rendering="crispEdges"/>
<rect x="212.15" y="863.93" width="1.90" height="1.59" fill="none" stroke="#5e5e5e" stroke-width="0.8" shape-rendering="crispEdges"/>
<rect x="212.15" y="863.69" width="1.90" height="0.24" fill="url(#pl)" stroke="#1a1a1a" stroke-width="0.8" shape-rendering="crispEdges"/>
<rect x="214.05" y="865.43" width="1.90" height="0.47" fill="#000" stroke="#000" stroke-width="0.8" shape-rendering="crispEdges"/>
<rect x="214.05" y="863.64" width="1.90" height="1.79" fill="none" stroke="#5e5e5e" stroke-width="0.8" shape-rendering="crispEdges"/>
<rect x="214.05" y="863.24" width="1.90" height="0.40" fill="url(#pl)" stroke="#1a1a1a" stroke-width="0.8" shape-rendering="crispEdges"/>
<rect x="215.95" y="865.57" width="1.90" height="0.33" fill="#000" stroke="#000" stroke-width="0.8" shape-rendering="crispEdges"/>
<rect x="215.95" y="864.19" width="1.90" height="1.38" fill="none" stroke="#5e5e5e" stroke-width="0.8" shape-rendering="crispEdges"/>
<rect x="215.95" y="863.94" width="1.90" height="0.25" fill="url(#pl)" stroke="#1a1a1a" stroke-width="0.8" shape-rendering="crispEdges"/>
<rect x="217.85" y="865.45" width="1.90" height="0.45" fill="#000" stroke="#000" stroke-width="0.8" shape-rendering="crispEdges"/>
<rect x="217.85" y="863.82" width="1.90" height="1.64" fill="none" stroke="#5e5e5e" stroke-width="0.8" shape-rendering="crispEdges"/>
<rect x="217.85" y="863.41" width="1.90" height="0.41" fill="url(#pl)" stroke="#1a1a1a" stroke-width="0.8" shape-rendering="crispEdges"/>
<rect x="219.75" y="865.61" width="1.90" height="0.29" fill="#000" stroke="#000" stroke-width="0.8" shape-rendering="crispEdges"/>
<rect x="219.75" y="864.49" width="1.90" height="1.13" fill="none" stroke="#5e5e5e" stroke-width="0.8" shape-rendering="crispEdges"/>
<rect x="219.75" y="864.22" width="1.90" height="0.26" fill="url(#pl)" stroke="#1a1a1a" stroke-width="0.8" shape-rendering="crispEdges"/>
<rect x="221.65" y="865.63" width="1.90" height="0.27" fill="#000" stroke="#000" stroke-width="0.8" shape-rendering="crispEdges"/>
<rect x="221.65" y="864.56" width="1.90" height="1.06" fill="none" stroke="#5e5e5e" stroke-width="0.8" shape-rendering="crispEdges"/>
<rect x="221.65" y="864.36" width="1.90" height="0.21" fill="url(#pl)" stroke="#1a1a1a" stroke-width="0.8" shape-rendering="crispEdges"/>
<rect x="223.55" y="865.59" width="1.90" height="0.31" fill="#000" stroke="#000" stroke-width="0.8" shape-rendering="crispEdges"/>
<rect x="223.55" y="864.37" width="1.90" height="1.22" fill="none" stroke="#5e5e5e" stroke-width="0.8" shape-rendering="crispEdges"/>
<rect x="223.55" y="864.13" width="1.90" height="0.25" fill="url(#pl)" stroke="#1a1a1a" stroke-width="0.8" shape-rendering="crispEdges"/>
<rect x="225.45" y="865.69" width="1.90" height="0.21" fill="#000" stroke="#000" stroke-width="0.8" shape-rendering="crispEdges"/>
<rect x="225.45" y="864.85" width="1.90" height="0.83" fill="none" stroke="#5e5e5e" stroke-width="0.8" shape-rendering="crispEdges"/>
<rect x="225.45" y="864.67" width="1.90" height="0.18" fill="url(#pl)" stroke="#1a1a1a" stroke-width="0.8" shape-rendering="crispEdges"/>
<rect x="227.35" y="865.62" width="1.90" height="0.28" fill="#000" stroke="#000" stroke-width="0.8" shape-rendering="crispEdges"/>
<rect x="227.35" y="864.54" width="1.90" height="1.08" fill="none" stroke="#5e5e5e" stroke-width="0.8" shape-rendering="crispEdges"/>
<rect x="227.35" y="864.31" width="1.90" height="0.23" fill="url(#pl)" stroke="#1a1a1a" stroke-width="0.8" shape-rendering="crispEdges"/>
<rect x="229.25" y="865.71" width="1.90" height="0.19" fill="#000" stroke="#000" stroke-width="0.8" shape-rendering="crispEdges"/>
<rect x="229.25" y="865.01" width="1.90" height="0.71" fill="none" stroke="#5e5e5e" stroke-width="0.8" shape-rendering="crispEdges"/>
<rect x="229.25" y="864.84" width="1.90" height="0.16" fill="url(#pl)" stroke="#1a1a1a" stroke-width="0.8" shape-rendering="crispEdges"/>
<rect x="231.15" y="865.73" width="1.90" height="0.17" fill="#000" stroke="#000" stroke-width="0.8" shape-rendering="crispEdges"/>
<rect x="231.15" y="865.06" width="1.90" height="0.68" fill="none" stroke="#5e5e5e" stroke-width="0.8" shape-rendering="crispEdges"/>
<rect x="231.15" y="864.94" width="1.90" height="0.12" fill="url(#pl)" stroke="#1a1a1a" stroke-width="0.8" shape-rendering="crispEdges"/>
<rect x="233.05" y="865.70" width="1.90" height="0.20" fill="#000" stroke="#000" stroke-width="0.8" shape-rendering="crispEdges"/>
<rect x="233.05" y="864.83" width="1.90" height="0.87" fill="none" stroke="#5e5e5e" stroke-width="0.8" shape-rendering="crispEdges"/>
<rect x="233.05" y="864.71" width="1.90" height="0.12" fill="url(#pl)" stroke="#1a1a1a" stroke-width="0.8" shape-rendering="crispEdges"/>
<rect x="234.95" y="865.76" width="1.90" height="0.14" fill="#000" stroke="#000" stroke-width="0.8" shape-rendering="crispEdges"/>
<rect x="234.95" y="865.15" width="1.90" height="0.61" fill="none" stroke="#5e5e5e" stroke-width="0.8" shape-rendering="crispEdges"/>
<rect x="234.95" y="865.06" width="1.90" height="0.09" fill="url(#pl)" stroke="#1a1a1a" stroke-width="0.8" shape-rendering="crispEdges"/>
<rect x="236.85" y="865.74" width="1.90" height="0.16" fill="#000" stroke="#000" stroke-width="0.8" shape-rendering="crispEdges"/>
<rect x="236.85" y="864.99" width="1.90" height="0.75" fill="none" stroke="#5e5e5e" stroke-width="0.8" shape-rendering="crispEdges"/>
<rect x="236.85" y="864.80" width="1.90" height="0.19" fill="url(#pl)" stroke="#1a1a1a" stroke-width="0.8" shape-rendering="crispEdges"/>
<rect x="238.75" y="865.79" width="1.90" height="0.11" fill="#000" stroke="#000" stroke-width="0.8" shape-rendering="crispEdges"/>
<rect x="238.75" y="865.27" width="1.90" height="0.52" fill="none" stroke="#5e5e5e" stroke-width="0.8" shape-rendering="crispEdges"/>
<rect x="238.75" y="865.16" width="1.90" height="0.11" fill="url(#pl)" stroke="#1a1a1a" stroke-width="0.8" shape-rendering="crispEdges"/>
<rect x="240.65" y="865.80" width="1.90" height="0.10" fill="#000" stroke="#000" stroke-width="0.8" shape-rendering="crispEdges"/>
<rect x="240.65" y="865.33" width="1.90" height="0.47" fill="none" stroke="#5e5e5e" stroke-width="0.8" shape-rendering="crispEdges"/>
<rect x="240.65" y="865.23" width="1.90" height="0.10" fill="url(#pl)" stroke="#1a1a1a" stroke-width="0.8" shape-rendering="crispEdges"/>
<rect x="242.55" y="865.77" width="1.90" height="0.13" fill="#000" stroke="#000" stroke-width="0.8" shape-rendering="crispEdges"/>
<rect x="242.55" y="865.23" width="1.90" height="0.55" fill="none" stroke="#5e5e5e" stroke-width="0.8" shape-rendering="crispEdges"/>
<rect x="242.55" y="865.14" width="1.90" height="0.09" fill="url(#pl)" stroke="#1a1a1a" stroke-width="0.8" shape-rendering="crispEdges"/>
<rect x="244.45" y="865.82" width="1.90" height="0.08" fill="#000" stroke="#000" stroke-width="0.8" shape-rendering="crispEdges"/>
<rect x="244.45" y="865.46" width="1.90" height="0.36" fill="none" stroke="#5e5e5e" stroke-width="0.8" shape-rendering="crispEdges"/>
<rect x="244.45" y="865.37" width="1.90" height="0.09" fill="url(#pl)" stroke="#1a1a1a" stroke-width="0.8" shape-rendering="crispEdges"/>
<rect x="246.35" y="865.79" width="1.90" height="0.11" fill="#000" stroke="#000" stroke-width="0.8" shape-rendering="crispEdges"/>
<rect x="246.35" y="865.33" width="1.90" height="0.46" fill="none" stroke="#5e5e5e" stroke-width="0.8" shape-rendering="crispEdges"/>
<rect x="246.35" y="865.25" width="1.90" height="0.09" fill="url(#pl)" stroke="#1a1a1a" stroke-width="0.8" shape-rendering="crispEdges"/>
<rect x="248.25" y="865.83" width="1.90" height="0.07" fill="#000" stroke="#000" stroke-width="0.8" shape-rendering="crispEdges"/>
<rect x="248.25" y="865.55" width="1.90" height="0.28" fill="none" stroke="#5e5e5e" stroke-width="0.8" shape-rendering="crispEdges"/>
<rect x="248.25" y="865.48" width="1.90" height="0.08" fill="url(#pl)" stroke="#1a1a1a" stroke-width="0.8" shape-rendering="crispEdges"/>
<rect x="250.15" y="865.84" width="1.90" height="0.06" fill="#000" stroke="#000" stroke-width="0.8" shape-rendering="crispEdges"/>
<rect x="250.15" y="865.57" width="1.90" height="0.27" fill="none" stroke="#5e5e5e" stroke-width="0.8" shape-rendering="crispEdges"/>
<rect x="250.15" y="865.52" width="1.90" height="0.04" fill="url(#pl)" stroke="#1a1a1a" stroke-width="0.8" shape-rendering="crispEdges"/>
<rect x="252.05" y="865.83" width="1.90" height="0.07" fill="#000" stroke="#000" stroke-width="0.8" shape-rendering="crispEdges"/>
<rect x="252.05" y="865.52" width="1.90" height="0.31" fill="none" stroke="#5e5e5e" stroke-width="0.8" shape-rendering="crispEdges"/>
<rect x="252.05" y="865.44" width="1.90" height="0.08" fill="url(#pl)" stroke="#1a1a1a" stroke-width="0.8" shape-rendering="crispEdges"/>
<rect x="253.95" y="865.85" width="1.90" height="0.05" fill="#000" stroke="#000" stroke-width="0.8" shape-rendering="crispEdges"/>
<rect x="253.95" y="865.62" width="1.90" height="0.23" fill="none" stroke="#5e5e5e" stroke-width="0.8" shape-rendering="crispEdges"/>
<rect x="253.95" y="865.58" width="1.90" height="0.05" fill="url(#pl)" stroke="#1a1a1a" stroke-width="0.8" shape-rendering="crispEdges"/>
<rect x="255.85" y="865.85" width="1.90" height="0.05" fill="#000" stroke="#000" stroke-width="0.8" shape-rendering="crispEdges"/>
<rect x="255.85" y="865.58" width="1.90" height="0.27" fill="none" stroke="#5e5e5e" stroke-width="0.8" shape-rendering="crispEdges"/>
<rect x="255.85" y="865.52" width="1.90" height="0.05" fill="url(#pl)" stroke="#1a1a1a" stroke-width="0.8" shape-rendering="crispEdges"/>
<rect x="257.75" y="865.87" width="1.90" height="0.03" fill="#000" stroke="#000" stroke-width="0.8" shape-rendering="crispEdges"/>
<rect x="257.75" y="865.68" width="1.90" height="0.19" fill="none" stroke="#5e5e5e" stroke-width="0.8" shape-rendering="crispEdges"/>
<rect x="257.75" y="865.65" width="1.90" height="0.03" fill="url(#pl)" stroke="#1a1a1a" stroke-width="0.8" shape-rendering="crispEdges"/>
<rect x="259.65" y="865.88" width="1.90" height="0.02" fill="#000" stroke="#000" stroke-width="0.8" shape-rendering="crispEdges"/>
<rect x="259.65" y="865.71" width="1.90" height="0.16" fill="none" stroke="#5e5e5e" stroke-width="0.8" shape-rendering="crispEdges"/>
<rect x="259.65" y="865.69" width="1.90" height="0.03" fill="url(#pl)" stroke="#1a1a1a" stroke-width="0.8" shape-rendering="crispEdges"/>
<rect x="261.55" y="865.88" width="1.90" height="0.02" fill="#000" stroke="#000" stroke-width="0.8" shape-rendering="crispEdges"/>
<rect x="261.55" y="865.68" width="1.90" height="0.20" fill="none" stroke="#5e5e5e" stroke-width="0.8" shape-rendering="crispEdges"/>
<rect x="261.55" y="865.67" width="1.90" height="0.01" fill="url(#pl)" stroke="#1a1a1a" stroke-width="0.8" shape-rendering="crispEdges"/>
<rect x="263.45" y="865.89" width="1.90" height="0.01" fill="#000" stroke="#000" stroke-width="0.8" shape-rendering="crispEdges"/>
<rect x="263.45" y="865.76" width="1.90" height="0.13" fill="none" stroke="#5e5e5e" stroke-width="0.8" shape-rendering="crispEdges"/>
<rect x="263.45" y="865.75" width="1.90" height="0.01" fill="url(#pl)" stroke="#1a1a1a" stroke-width="0.8" shape-rendering="crispEdges"/>
<rect x="265.35" y="865.74" width="1.90" height="0.16" fill="none" stroke="#5e5e5e" stroke-width="0.8" shape-rendering="crispEdges"/>
<rect x="265.35" y="865.73" width="1.90" height="0.01" fill="url(#pl)" stroke="#1a1a1a" stroke-width="0.8" shape-rendering="crispEdges"/>
<rect x="66.00" y="648.00" width="210.50" height="217.90" fill="none" stroke="#636363" stroke-width="1"/>
<line x1="61.40" y1="865.90" x2="66.00" y2="865.90" stroke="#636363" stroke-width="1"/>
<text transform="translate(60.80,871.70) scale(1,0.95)" font-family="Liberation Sans, sans-serif" font-size="13.4" text-anchor="end" fill="#1a1a1a">0</text>
<line x1="61.40" y1="826.69" x2="66.00" y2="826.69" stroke="#636363" stroke-width="1"/>
<text transform="translate(60.80,832.49) scale(1,0.95)" font-family="Liberation Sans, sans-serif" font-size="13.4" text-anchor="end" fill="#1a1a1a">1 000</text>
<line x1="61.40" y1="787.48" x2="66.00" y2="787.48" stroke="#636363" stroke-width="1"/>
<text transform="translate(60.80,793.28) scale(1,0.95)" font-family="Liberation Sans, sans-serif" font-size="13.4" text-anchor="end" fill="#1a1a1a">2 000</text>
<line x1="61.40" y1="748.27" x2="66.00" y2="748.27" stroke="#636363" stroke-width="1"/>
<text transform="translate(60.80,754.07) scale(1,0.95)" font-family="Liberation Sans, sans-serif" font-size="13.4" text-anchor="end" fill="#1a1a1a">3 000</text>
<line x1="61.40" y1="709.06" x2="66.00" y2="709.06" stroke="#636363" stroke-width="1"/>
<text transform="translate(60.80,714.86) scale(1,0.95)" font-family="Liberation Sans, sans-serif" font-size="13.4" text-anchor="end" fill="#1a1a1a">4 000</text>
<line x1="61.40" y1="669.85" x2="66.00" y2="669.85" stroke="#636363" stroke-width="1"/>
<text transform="translate(60.80,675.65) scale(1,0.95)" font-family="Liberation Sans, sans-serif" font-size="13.4" text-anchor="end" fill="#1a1a1a">5 000</text>
<line x1="76.30" y1="865.90" x2="76.30" y2="870.40" stroke="#636363" stroke-width="1"/>
<text transform="translate(76.30,882.70) scale(1,0.95)" font-family="Liberation Sans, sans-serif" font-size="13.4" text-anchor="middle" fill="#1a1a1a">−100</text>
<line x1="123.80" y1="865.90" x2="123.80" y2="870.40" stroke="#636363" stroke-width="1"/>
<text transform="translate(123.80,882.70) scale(1,0.95)" font-family="Liberation Sans, sans-serif" font-size="13.4" text-anchor="middle" fill="#1a1a1a">−50</text>
<line x1="171.30" y1="865.90" x2="171.30" y2="870.40" stroke="#636363" stroke-width="1"/>
<text transform="translate(171.30,882.70) scale(1,0.95)" font-family="Liberation Sans, sans-serif" font-size="13.4" text-anchor="middle" fill="#1a1a1a">0</text>
<line x1="218.80" y1="865.90" x2="218.80" y2="870.40" stroke="#636363" stroke-width="1"/>
<text transform="translate(218.80,882.70) scale(1,0.95)" font-family="Liberation Sans, sans-serif" font-size="13.4" text-anchor="middle" fill="#1a1a1a">50</text>
<line x1="266.30" y1="865.90" x2="266.30" y2="870.40" stroke="#636363" stroke-width="1"/>
<text transform="translate(266.30,882.70) scale(1,0.95)" font-family="Liberation Sans, sans-serif" font-size="13.4" text-anchor="middle" fill="#1a1a1a">100</text>
<text transform="translate(171.65,901.20) scale(1,0.95)" font-family="Liberation Sans, sans-serif" font-size="12.8" text-anchor="middle" fill="#1a1a1a" textLength="173.90" lengthAdjust="spacing">Score change in VAS leg pain</text>
<text transform="translate(171.15,913.50) scale(1,0.95)" font-family="Liberation Sans, sans-serif" font-size="12.8" text-anchor="middle" fill="#1a1a1a" textLength="181.70" lengthAdjust="spacing">between baseline and 1st year</text>
<text transform="translate(171.15,925.90) scale(1,0.95)" font-family="Liberation Sans, sans-serif" font-size="12.8" text-anchor="middle" fill="#1a1a1a" textLength="40.70" lengthAdjust="spacing">postop</text>
<text transform="translate(14.70,755.50) rotate(-90) scale(1,1.0)" font-family="Liberation Sans, sans-serif" font-size="13.5" text-anchor="middle" fill="#1a1a1a" textLength="62.20" lengthAdjust="spacing">Frequency</text>
<rect x="278.40" y="650.20" width="10.10" height="10.00" fill="url(#pl)" stroke="#555" stroke-width="1"/>
<text transform="translate(290.70,660.70) scale(1,1.0)" font-family="Liberation Sans, sans-serif" font-size="12.8" text-anchor="start" fill="#1a1a1a" textLength="24.50" lengthAdjust="spacingAndGlyphs">LDH</text>
<rect x="278.40" y="664.90" width="10.10" height="10.00" fill="#fff" stroke="#777" stroke-width="1"/>
<text transform="translate(290.70,675.40) scale(1,1.0)" font-family="Liberation Sans, sans-serif" font-size="12.8" text-anchor="start" fill="#1a1a1a" textLength="19.00" lengthAdjust="spacingAndGlyphs">LSS</text>
<rect x="278.40" y="679.60" width="10.10" height="10.00" fill="#000" stroke="#000" stroke-width="1"/>
<text transform="translate(290.70,690.10) scale(1,1.0)" font-family="Liberation Sans, sans-serif" font-size="12.8" text-anchor="start" fill="#1a1a1a" textLength="27.40" lengthAdjust="spacingAndGlyphs">DDD</text>
<text transform="translate(8.30,655.00) scale(1,1.0)" font-family="Liberation Serif, serif" font-size="18.5" text-anchor="start" fill="#000" font-weight="bold">(c)</text>
<line x1="166.80" y1="939.40" x2="166.80" y2="1157.40" stroke="#555" stroke-width="1.2"/>
<rect x="70.75" y="1157.36" width="1.90" height="0.04" fill="none" stroke="#5e5e5e" stroke-width="0.8" shape-rendering="crispEdges"/>
<rect x="70.75" y="1157.32" width="1.90" height="0.04" fill="url(#pl)" stroke="#1a1a1a" stroke-width="0.8" shape-rendering="crispEdges"/>
<rect x="72.65" y="1157.36" width="1.90" height="0.04" fill="none" stroke="#5e5e5e" stroke-width="0.8" shape-rendering="crispEdges"/>
<rect x="72.65" y="1157.32" width="1.90" height="0.04" fill="url(#pl)" stroke="#1a1a1a" stroke-width="0.8" shape-rendering="crispEdges"/>
<rect x="74.55" y="1157.32" width="1.90" height="0.08" fill="none" stroke="#5e5e5e" stroke-width="0.8" shape-rendering="crispEdges"/>
<rect x="74.55" y="1157.28" width="1.90" height="0.04" fill="url(#pl)" stroke="#1a1a1a" stroke-width="0.8" shape-rendering="crispEdges"/>
<rect x="76.45" y="1157.25" width="1.90" height="0.15" fill="none" stroke="#5e5e5e" stroke-width="0.8" shape-rendering="crispEdges"/>
<rect x="76.45" y="1157.20" width="1.90" height="0.05" fill="url(#pl)" stroke="#1a1a1a" stroke-width="0.8" shape-rendering="crispEdges"/>
<rect x="78.36" y="1157.36" width="1.90" height="0.04" fill="#000" stroke="#000" stroke-width="0.8" shape-rendering="crispEdges"/>
<rect x="78.36" y="1157.16" width="1.90" height="0.20" fill="none" stroke="#5e5e5e" stroke-width="0.8" shape-rendering="crispEdges"/>
<rect x="78.36" y="1157.09" width="1.90" height="0.07" fill="url(#pl)" stroke="#1a1a1a" stroke-width="0.8" shape-rendering="crispEdges"/>
<rect x="80.26" y="1157.36" width="1.90" height="0.04" fill="#000" stroke="#000" stroke-width="0.8" shape-rendering="crispEdges"/>
<rect x="80.26" y="1157.12" width="1.90" height="0.24" fill="none" stroke="#5e5e5e" stroke-width="0.8" shape-rendering="crispEdges"/>
<rect x="80.26" y="1157.02" width="1.90" height="0.10" fill="url(#pl)" stroke="#1a1a1a" stroke-width="0.8" shape-rendering="crispEdges"/>
<rect x="82.16" y="1157.36" width="1.90" height="0.04" fill="#000" stroke="#000" stroke-width="0.8" shape-rendering="crispEdges"/>
<rect x="82.16" y="1157.01" width="1.90" height="0.36" fill="none" stroke="#5e5e5e" stroke-width="0.8" shape-rendering="crispEdges"/>
<rect x="82.16" y="1156.89" width="1.90" height="0.12" fill="url(#pl)" stroke="#1a1a1a" stroke-width="0.8" shape-rendering="crispEdges"/>
<rect x="84.06" y="1157.36" width="1.90" height="0.04" fill="#000" stroke="#000" stroke-width="0.8" shape-rendering="crispEdges"/>
<rect x="84.06" y="1156.97" width="1.90" height="0.39" fill="none" stroke="#5e5e5e" stroke-width="0.8" shape-rendering="crispEdges"/>
<rect x="84.06" y="1156.83" width="1.90" height="0.14" fill="url(#pl)" stroke="#1a1a1a" stroke-width="0.8" shape-rendering="crispEdges"/>
<rect x="85.96" y="1157.32" width="1.90" height="0.08" fill="#000" stroke="#000" stroke-width="0.8" shape-rendering="crispEdges"/>
<rect x="85.96" y="1156.90" width="1.90" height="0.43" fill="none" stroke="#5e5e5e" stroke-width="0.8" shape-rendering="crispEdges"/>
<rect x="85.96" y="1156.71" width="1.90" height="0.19" fill="url(#pl)" stroke="#1a1a1a" stroke-width="0.8" shape-rendering="crispEdges"/>
<rect x="87.87" y="1157.32" width="1.90" height="0.08" fill="#000" stroke="#000" stroke-width="0.8" shape-rendering="crispEdges"/>
<rect x="87.87" y="1156.78" width="1.90" height="0.54" fill="none" stroke="#5e5e5e" stroke-width="0.8" shape-rendering="crispEdges"/>
<rect x="87.87" y="1156.58" width="1.90" height="0.20" fill="url(#pl)" stroke="#1a1a1a" stroke-width="0.8" shape-rendering="crispEdges"/>
<rect x="89.77" y="1157.32" width="1.90" height="0.08" fill="#000" stroke="#000" stroke-width="0.8" shape-rendering="crispEdges"/>
<rect x="89.77" y="1156.69" width="1.90" height="0.63" fill="none" stroke="#5e5e5e" stroke-width="0.8" shape-rendering="crispEdges"/>
<rect x="89.77" y="1156.46" width="1.90" height="0.23" fill="url(#pl)" stroke="#1a1a1a" stroke-width="0.8" shape-rendering="crispEdges"/>
<rect x="91.67" y="1157.32" width="1.90" height="0.08" fill="#000" stroke="#000" stroke-width="0.8" shape-rendering="crispEdges"/>
<rect x="91.67" y="1156.62" width="1.90" height="0.70" fill="none" stroke="#5e5e5e" stroke-width="0.8" shape-rendering="crispEdges"/>
<rect x="91.67" y="1156.33" width="1.90" height="0.29" fill="url(#pl)" stroke="#1a1a1a" stroke-width="0.8" shape-rendering="crispEdges"/>
<rect x="93.57" y="1157.28" width="1.90" height="0.12" fill="#000" stroke="#000" stroke-width="0.8" shape-rendering="crispEdges"/>
<rect x="93.57" y="1156.51" width="1.90" height="0.77" fill="none" stroke="#5e5e5e" stroke-width="0.8" shape-rendering="crispEdges"/>
<rect x="93.57" y="1156.19" width="1.90" height="0.32" fill="url(#pl)" stroke="#1a1a1a" stroke-width="0.8" shape-rendering="crispEdges"/>
<rect x="95.47" y="1157.28" width="1.90" height="0.12" fill="#000" stroke="#000" stroke-width="0.8" shape-rendering="crispEdges"/>
<rect x="95.47" y="1156.47" width="1.90" height="0.81" fill="none" stroke="#5e5e5e" stroke-width="0.8" shape-rendering="crispEdges"/>
<rect x="95.47" y="1156.09" width="1.90" height="0.38" fill="url(#pl)" stroke="#1a1a1a" stroke-width="0.8" shape-rendering="crispEdges"/>
<rect x="97.38" y="1157.28" width="1.90" height="0.12" fill="#000" stroke="#000" stroke-width="0.8" shape-rendering="crispEdges"/>
<rect x="97.38" y="1156.37" width="1.90" height="0.91" fill="none" stroke="#5e5e5e" stroke-width="0.8" shape-rendering="crispEdges"/>
<rect x="97.38" y="1156.01" width="1.90" height="0.36" fill="url(#pl)" stroke="#1a1a1a" stroke-width="0.8" shape-rendering="crispEdges"/>
<rect x="99.28" y="1157.28" width="1.90" height="0.12" fill="#000" stroke="#000" stroke-width="0.8" shape-rendering="crispEdges"/>
<rect x="99.28" y="1156.24" width="1.90" height="1.04" fill="none" stroke="#5e5e5e" stroke-width="0.8" shape-rendering="crispEdges"/>
<rect x="99.28" y="1155.88" width="1.90" height="0.36" fill="url(#pl)" stroke="#1a1a1a" stroke-width="0.8" shape-rendering="crispEdges"/>
<rect x="101.18" y="1157.25" width="1.90" height="0.15" fill="#000" stroke="#000" stroke-width="0.8" shape-rendering="crispEdges"/>
<rect x="101.18" y="1156.16" width="1.90" height="1.09" fill="none" stroke="#5e5e5e" stroke-width="0.8" shape-rendering="crispEdges"/>
<rect x="101.18" y="1155.71" width="1.90" height="0.45" fill="url(#pl)" stroke="#1a1a1a" stroke-width="0.8" shape-rendering="crispEdges"/>
<rect x="103.08" y="1157.24" width="1.90" height="0.16" fill="#000" stroke="#000" stroke-width="0.8" shape-rendering="crispEdges"/>
<rect x="103.08" y="1156.07" width="1.90" height="1.17" fill="none" stroke="#5e5e5e" stroke-width="0.8" shape-rendering="crispEdges"/>
<rect x="103.08" y="1155.67" width="1.90" height="0.41" fill="url(#pl)" stroke="#1a1a1a" stroke-width="0.8" shape-rendering="crispEdges"/>
<rect x="104.98" y="1157.25" width="1.90" height="0.15" fill="#000" stroke="#000" stroke-width="0.8" shape-rendering="crispEdges"/>
<rect x="104.98" y="1156.00" width="1.90" height="1.25" fill="none" stroke="#5e5e5e" stroke-width="0.8" shape-rendering="crispEdges"/>
<rect x="104.98" y="1155.42" width="1.90" height="0.57" fill="url(#pl)" stroke="#1a1a1a" stroke-width="0.8" shape-rendering="crispEdges"/>
<rect x="106.89" y="1157.25" width="1.90" height="0.15" fill="#000" stroke="#000" stroke-width="0.8" shape-rendering="crispEdges"/>
<rect x="106.89" y="1155.89" width="1.90" height="1.36" fill="none" stroke="#5e5e5e" stroke-width="0.8" shape-rendering="crispEdges"/>
<rect x="106.89" y="1155.35" width="1.90" height="0.54" fill="url(#pl)" stroke="#1a1a1a" stroke-width="0.8" shape-rendering="crispEdges"/>
<rect x="108.79" y="1157.20" width="1.90" height="0.20" fill="#000" stroke="#000" stroke-width="0.8" shape-rendering="crispEdges"/>
<rect x="108.79" y="1155.81" width="1.90" height="1.39" fill="none" stroke="#5e5e5e" stroke-width="0.8" shape-rendering="crispEdges"/>
<rect x="108.79" y="1155.30" width="1.90" height="0.51" fill="url(#pl)" stroke="#1a1a1a" stroke-width="0.8" shape-rendering="crispEdges"/>
<rect x="110.69" y="1157.21" width="1.90" height="0.19" fill="#000" stroke="#000" stroke-width="0.8" shape-rendering="crispEdges"/>
<rect x="110.69" y="1155.71" width="1.90" height="1.49" fill="none" stroke="#5e5e5e" stroke-width="0.8" shape-rendering="crispEdges"/>
<rect x="110.69" y="1155.05" width="1.90" height="0.66" fill="url(#pl)" stroke="#1a1a1a" stroke-width="0.8" shape-rendering="crispEdges"/>
<rect x="112.59" y="1157.20" width="1.90" height="0.20" fill="#000" stroke="#000" stroke-width="0.8" shape-rendering="crispEdges"/>
<rect x="112.59" y="1155.64" width="1.90" height="1.56" fill="none" stroke="#5e5e5e" stroke-width="0.8" shape-rendering="crispEdges"/>
<rect x="112.59" y="1155.03" width="1.90" height="0.62" fill="url(#pl)" stroke="#1a1a1a" stroke-width="0.8" shape-rendering="crispEdges"/>
<rect x="114.49" y="1157.17" width="1.90" height="0.23" fill="#000" stroke="#000" stroke-width="0.8" shape-rendering="crispEdges"/>
<rect x="114.49" y="1155.47" width="1.90" height="1.69" fill="none" stroke="#5e5e5e" stroke-width="0.8" shape-rendering="crispEdges"/>
<rect x="114.49" y="1154.86" width="1.90" height="0.61" fill="url(#pl)" stroke="#1a1a1a" stroke-width="0.8" shape-rendering="crispEdges"/>
<rect x="116.40" y="1157.17" width="1.90" height="0.23" fill="#000" stroke="#000" stroke-width="0.8" shape-rendering="crispEdges"/>
<rect x="116.40" y="1155.37" width="1.90" height="1.80" fill="none" stroke="#5e5e5e" stroke-width="0.8" shape-rendering="crispEdges"/>
<rect x="116.40" y="1154.75" width="1.90" height="0.63" fill="url(#pl)" stroke="#1a1a1a" stroke-width="0.8" shape-rendering="crispEdges"/>
<rect x="118.30" y="1157.17" width="1.90" height="0.23" fill="#000" stroke="#000" stroke-width="0.8" shape-rendering="crispEdges"/>
<rect x="118.30" y="1155.33" width="1.90" height="1.83" fill="none" stroke="#5e5e5e" stroke-width="0.8" shape-rendering="crispEdges"/>
<rect x="118.30" y="1154.51" width="1.90" height="0.82" fill="url(#pl)" stroke="#1a1a1a" stroke-width="0.8" shape-rendering="crispEdges"/>
<rect x="120.20" y="1157.12" width="1.90" height="0.28" fill="#000" stroke="#000" stroke-width="0.8" shape-rendering="crispEdges"/>
<rect x="120.20" y="1155.12" width="1.90" height="2.00" fill="none" stroke="#5e5e5e" stroke-width="0.8" shape-rendering="crispEdges"/>
<rect x="120.20" y="1154.32" width="1.90" height="0.80" fill="url(#pl)" stroke="#1a1a1a" stroke-width="0.8" shape-rendering="crispEdges"/>
<rect x="122.10" y="1157.08" width="1.90" height="0.32" fill="#000" stroke="#000" stroke-width="0.8" shape-rendering="crispEdges"/>
<rect x="122.10" y="1154.80" width="1.90" height="2.27" fill="none" stroke="#5e5e5e" stroke-width="0.8" shape-rendering="crispEdges"/>
<rect x="122.10" y="1153.81" width="1.90" height="1.00" fill="url(#pl)" stroke="#1a1a1a" stroke-width="0.8" shape-rendering="crispEdges"/>
<rect x="124.00" y="1157.08" width="1.90" height="0.32" fill="#000" stroke="#000" stroke-width="0.8" shape-rendering="crispEdges"/>
<rect x="124.00" y="1154.67" width="1.90" height="2.41" fill="none" stroke="#5e5e5e" stroke-width="0.8" shape-rendering="crispEdges"/>
<rect x="124.00" y="1153.78" width="1.90" height="0.89" fill="url(#pl)" stroke="#1a1a1a" stroke-width="0.8" shape-rendering="crispEdges"/>
<rect x="125.91" y="1157.04" width="1.90" height="0.36" fill="#000" stroke="#000" stroke-width="0.8" shape-rendering="crispEdges"/>
<rect x="125.91" y="1154.42" width="1.90" height="2.62" fill="none" stroke="#5e5e5e" stroke-width="0.8" shape-rendering="crispEdges"/>
<rect x="125.91" y="1153.25" width="1.90" height="1.17" fill="url(#pl)" stroke="#1a1a1a" stroke-width="0.8" shape-rendering="crispEdges"/>
<rect x="127.81" y="1156.96" width="1.90" height="0.44" fill="#000" stroke="#000" stroke-width="0.8" shape-rendering="crispEdges"/>
<rect x="127.81" y="1153.85" width="1.90" height="3.12" fill="none" stroke="#5e5e5e" stroke-width="0.8" shape-rendering="crispEdges"/>
<rect x="127.81" y="1152.62" width="1.90" height="1.22" fill="url(#pl)" stroke="#1a1a1a" stroke-width="0.8" shape-rendering="crispEdges"/>
<rect x="129.71" y="1157.02" width="1.90" height="0.38" fill="#000" stroke="#000" stroke-width="0.8" shape-rendering="crispEdges"/>
<rect x="129.71" y="1154.07" width="1.90" height="2.95" fill="none" stroke="#5e5e5e" stroke-width="0.8" shape-rendering="crispEdges"/>
<rect x="129.71" y="1152.90" width="1.90" height="1.17" fill="url(#pl)" stroke="#1a1a1a" stroke-width="0.8" shape-rendering="crispEdges"/>
<rect x="131.61" y="1156.94" width="1.90" height="0.46" fill="#000" stroke="#000" stroke-width="0.8" shape-rendering="crispEdges"/>
<rect x="131.61" y="1153.42" width="1.90" height="3.52" fill="none" stroke="#5e5e5e" stroke-width="0.8" shape-rendering="crispEdges"/>
<rect x="131.61" y="1152.16" width="1.90" height="1.26" fill="url(#pl)" stroke="#1a1a1a" stroke-width="0.8" shape-rendering="crispEdges"/>
<rect x="133.51" y="1156.89" width="1.90" height="0.51" fill="#000" stroke="#000" stroke-width="0.8" shape-rendering="crispEdges"/>
<rect x="133.51" y="1152.85" width="1.90" height="4.04" fill="none" stroke="#5e5e5e" stroke-width="0.8" shape-rendering="crispEdges"/>
<rect x="133.51" y="1151.17" width="1.90" height="1.68" fill="url(#pl)" stroke="#1a1a1a" stroke-width="0.8" shape-rendering="crispEdges"/>
<rect x="135.42" y="1156.89" width="1.90" height="0.51" fill="#000" stroke="#000" stroke-width="0.8" shape-rendering="crispEdges"/>
<rect x="135.42" y="1152.82" width="1.90" height="4.07" fill="none" stroke="#5e5e5e" stroke-width="0.8" shape-rendering="crispEdges"/>
<rect x="135.42" y="1151.04" width="1.90" height="1.78" fill="url(#pl)" stroke="#1a1a1a" stroke-width="0.8" shape-rendering="crispEdges"/>
<rect x="137.32" y="1156.71" width="1.90" height="0.69" fill="#000" stroke="#000" stroke-width="0.8" shape-rendering="crispEdges"/>
<rect x="137.32" y="1151.44" width="1.90" height="5.27" fill="none" stroke="#5e5e5e" stroke-width="0.8" shape-rendering="crispEdges"/>
<rect x="137.32" y="1148.99" width="1.90" height="2.45" fill="url(#pl)" stroke="#1a1a1a" stroke-width="0.8" shape-rendering="crispEdges"/>
<rect x="139.22" y="1156.74" width="1.90" height="0.66" fill="#000" stroke="#000" stroke-width="0.8" shape-rendering="crispEdges"/>
<rect x="139.22" y="1151.45" width="1.90" height="5.30" fill="none" stroke="#5e5e5e" stroke-width="0.8" shape-rendering="crispEdges"/>
<rect x="139.22" y="1149.33" width="1.90" height="2.12" fill="url(#pl)" stroke="#1a1a1a" stroke-width="0.8" shape-rendering="crispEdges"/>
<rect x="141.12" y="1156.68" width="1.90" height="0.72" fill="#000" stroke="#000" stroke-width="0.8" shape-rendering="crispEdges"/>
<rect x="141.12" y="1151.24" width="1.90" height="5.44" fill="none" stroke="#5e5e5e" stroke-width="0.8" shape-rendering="crispEdges"/>
<rect x="141.12" y="1149.32" width="1.90" height="1.92" fill="url(#pl)" stroke="#1a1a1a" stroke-width="0.8" shape-rendering="crispEdges"/>
<rect x="143.02" y="1156.44" width="1.90" height="0.96" fill="#000" stroke="#000" stroke-width="0.8" shape-rendering="crispEdges"/>
<rect x="143.02" y="1148.87" width="1.90" height="7.57" fill="none" stroke="#5e5e5e" stroke-width="0.8" shape-rendering="crispEdges"/>
<rect x="143.02" y="1146.35" width="1.90" height="2.51" fill="url(#pl)" stroke="#1a1a1a" stroke-width="0.8" shape-rendering="crispEdges"/>
<rect x="144.93" y="1156.48" width="1.90" height="0.92" fill="#000" stroke="#000" stroke-width="0.8" shape-rendering="crispEdges"/>
<rect x="144.93" y="1149.36" width="1.90" height="7.12" fill="none" stroke="#5e5e5e" stroke-width="0.8" shape-rendering="crispEdges"/>
<rect x="144.93" y="1146.43" width="1.90" height="2.93" fill="url(#pl)" stroke="#1a1a1a" stroke-width="0.8" shape-rendering="crispEdges"/>
<rect x="146.83" y="1155.93" width="1.90" height="1.47" fill="#000" stroke="#000" stroke-width="0.8" shape-rendering="crispEdges"/>
<rect x="146.83" y="1144.15" width="1.90" height="11.79" fill="none" stroke="#5e5e5e" stroke-width="0.8" shape-rendering="crispEdges"/>
<rect x="146.83" y="1140.44" width="1.90" height="3.71" fill="url(#pl)" stroke="#1a1a1a" stroke-width="0.8" shape-rendering="crispEdges"/>
<rect x="148.73" y="1156.36" width="1.90" height="1.04" fill="#000" stroke="#000" stroke-width="0.8" shape-rendering="crispEdges"/>
<rect x="148.73" y="1148.59" width="1.90" height="7.77" fill="none" stroke="#5e5e5e" stroke-width="0.8" shape-rendering="crispEdges"/>
<rect x="148.73" y="1145.18" width="1.90" height="3.41" fill="url(#pl)" stroke="#1a1a1a" stroke-width="0.8" shape-rendering="crispEdges"/>
<rect x="150.63" y="1156.13" width="1.90" height="1.27" fill="#000" stroke="#000" stroke-width="0.8" shape-rendering="crispEdges"/>
<rect x="150.63" y="1146.10" width="1.90" height="10.04" fill="none" stroke="#5e5e5e" stroke-width="0.8" shape-rendering="crispEdges"/>
<rect x="150.63" y="1141.87" width="1.90" height="4.23" fill="url(#pl)" stroke="#1a1a1a" stroke-width="0.8" shape-rendering="crispEdges"/>
<rect x="152.53" y="1155.63" width="1.90" height="1.77" fill="#000" stroke="#000" stroke-width="0.8" shape-rendering="crispEdges"/>
<rect x="152.53" y="1142.01" width="1.90" height="13.62" fill="none" stroke="#5e5e5e" stroke-width="0.8" shape-rendering="crispEdges"/>
<rect x="152.53" y="1135.79" width="1.90" height="6.22" fill="url(#pl)" stroke="#1a1a1a" stroke-width="0.8" shape-rendering="crispEdges"/>
<rect x="154.44" y="1155.66" width="1.90" height="1.74" fill="#000" stroke="#000" stroke-width="0.8" shape-rendering="crispEdges"/>
<rect x="154.44" y="1141.95" width="1.90" height="13.71" fill="none" stroke="#5e5e5e" stroke-width="0.8" shape-rendering="crispEdges"/>
<rect x="154.44" y="1136.86" width="1.90" height="5.08" fill="url(#pl)" stroke="#1a1a1a" stroke-width="0.8" shape-rendering="crispEdges"/>
<rect x="156.34" y="1154.51" width="1.90" height="2.89" fill="#000" stroke="#000" stroke-width="0.8" shape-rendering="crispEdges"/>
<rect x="156.34" y="1132.73" width="1.90" height="21.78" fill="none" stroke="#5e5e5e" stroke-width="0.8" shape-rendering="crispEdges"/>
<rect x="156.34" y="1125.29" width="1.90" height="7.44" fill="url(#pl)" stroke="#1a1a1a" stroke-width="0.8" shape-rendering="crispEdges"/>
<rect x="158.24" y="1155.06" width="1.90" height="2.34" fill="#000" stroke="#000" stroke-width="0.8" shape-rendering="crispEdges"/>
<rect x="158.24" y="1138.19" width="1.90" height="16.87" fill="none" stroke="#5e5e5e" stroke-width="0.8" shape-rendering="crispEdges"/>
<rect x="158.24" y="1131.82" width="1.90" height="6.37" fill="url(#pl)" stroke="#1a1a1a" stroke-width="0.8" shape-rendering="crispEdges"/>
<rect x="160.14" y="1153.94" width="1.90" height="3.46" fill="#000" stroke="#000" stroke-width="0.8" shape-rendering="crispEdges"/>
<rect x="160.14" y="1136.87" width="1.90" height="17.06" fill="none" stroke="#5e5e5e" stroke-width="0.8" shape-rendering="crispEdges"/>
<rect x="160.14" y="1126.52" width="1.90" height="10.35" fill="url(#pl)" stroke="#1a1a1a" stroke-width="0.8" shape-rendering="crispEdges"/>
<rect x="162.04" y="1151.10" width="1.90" height="6.30" fill="#000" stroke="#000" stroke-width="0.8" shape-rendering="crispEdges"/>
<rect x="162.04" y="1124.70" width="1.90" height="26.40" fill="none" stroke="#5e5e5e" stroke-width="0.8" shape-rendering="crispEdges"/>
<rect x="162.04" y="1106.49" width="1.90" height="18.21" fill="url(#pl)" stroke="#1a1a1a" stroke-width="0.8" shape-rendering="crispEdges"/>
<rect x="163.95" y="1148.58" width="1.90" height="8.82" fill="#000" stroke="#000" stroke-width="0.8" shape-rendering="crispEdges"/>
<rect x="163.95" y="1114.57" width="1.90" height="34.01" fill="none" stroke="#5e5e5e" stroke-width="0.8" shape-rendering="crispEdges"/>
<rect x="163.95" y="1089.76" width="1.90" height="24.81" fill="url(#pl)" stroke="#1a1a1a" stroke-width="0.8" shape-rendering="crispEdges"/>
<rect x="165.85" y="1121.77" width="1.90" height="35.63" fill="#000" stroke="#000" stroke-width="0.8" shape-rendering="crispEdges"/>
<rect x="165.85" y="1033.69" width="1.90" height="88.08" fill="none" stroke="#5e5e5e" stroke-width="0.8" shape-rendering="crispEdges"/>
<rect x="165.85" y="940.95" width="1.90" height="92.74" fill="#1a1a1a" stroke="#1a1a1a" stroke-width="0.8" shape-rendering="crispEdges"/>
<rect x="167.75" y="1145.87" width="1.90" height="11.53" fill="#000" stroke="#000" stroke-width="0.8" shape-rendering="crispEdges"/>
<rect x="167.75" y="1103.12" width="1.90" height="42.75" fill="none" stroke="#5e5e5e" stroke-width="0.8" shape-rendering="crispEdges"/>
<rect x="167.75" y="1071.13" width="1.90" height="31.99" fill="url(#pl)" stroke="#1a1a1a" stroke-width="0.8" shape-rendering="crispEdges"/>
<rect x="169.65" y="1150.85" width="1.90" height="6.55" fill="#000" stroke="#000" stroke-width="0.8" shape-rendering="crispEdges"/>
<rect x="169.65" y="1120.78" width="1.90" height="30.07" fill="none" stroke="#5e5e5e" stroke-width="0.8" shape-rendering="crispEdges"/>
<rect x="169.65" y="1102.73" width="1.90" height="18.05" fill="url(#pl)" stroke="#1a1a1a" stroke-width="0.8" shape-rendering="crispEdges"/>
<rect x="171.55" y="1152.07" width="1.90" height="5.33" fill="#000" stroke="#000" stroke-width="0.8" shape-rendering="crispEdges"/>
<rect x="171.55" y="1125.88" width="1.90" height="26.20" fill="none" stroke="#5e5e5e" stroke-width="0.8" shape-rendering="crispEdges"/>
<rect x="171.55" y="1109.19" width="1.90" height="16.69" fill="url(#pl)" stroke="#1a1a1a" stroke-width="0.8" shape-rendering="crispEdges"/>
<rect x="173.46" y="1154.08" width="1.90" height="3.32" fill="#000" stroke="#000" stroke-width="0.8" shape-rendering="crispEdges"/>
<rect x="173.46" y="1128.37" width="1.90" height="25.71" fill="none" stroke="#5e5e5e" stroke-width="0.8" shape-rendering="crispEdges"/>
<rect x="173.46" y="1119.71" width="1.90" height="8.66" fill="url(#pl)" stroke="#1a1a1a" stroke-width="0.8" shape-rendering="crispEdges"/>
<rect x="175.36" y="1154.03" width="1.90" height="3.37" fill="#000" stroke="#000" stroke-width="0.8" shape-rendering="crispEdges"/>
<rect x="175.36" y="1129.85" width="1.90" height="24.18" fill="none" stroke="#5e5e5e" stroke-width="0.8" shape-rendering="crispEdges"/>
<rect x="175.36" y="1120.57" width="1.90" height="9.28" fill="url(#pl)" stroke="#1a1a1a" stroke-width="0.8" shape-rendering="crispEdges"/>
<rect x="177.26" y="1155.21" width="1.90" height="2.19" fill="#000" stroke="#000" stroke-width="0.8" shape-rendering="crispEdges"/>
<rect x="177.26" y="1138.27" width="1.90" height="16.93" fill="none" stroke="#5e5e5e" stroke-width="0.8" shape-rendering="crispEdges"/>
<rect x="177.26" y="1131.52" width="1.90" height="6.76" fill="url(#pl)" stroke="#1a1a1a" stroke-width="0.8" shape-rendering="crispEdges"/>
<rect x="179.16" y="1155.42" width="1.90" height="1.98" fill="#000" stroke="#000" stroke-width="0.8" shape-rendering="crispEdges"/>
<rect x="179.16" y="1140.54" width="1.90" height="14.88" fill="none" stroke="#5e5e5e" stroke-width="0.8" shape-rendering="crispEdges"/>
<rect x="179.16" y="1133.86" width="1.90" height="6.68" fill="url(#pl)" stroke="#1a1a1a" stroke-width="0.8" shape-rendering="crispEdges"/>
<rect x="181.06" y="1155.53" width="1.90" height="1.87" fill="#000" stroke="#000" stroke-width="0.8" shape-rendering="crispEdges"/>
<rect x="181.06" y="1140.65" width="1.90" height="14.88" fill="none" stroke="#5e5e5e" stroke-width="0.8" shape-rendering="crispEdges"/>
<rect x="181.06" y="1134.72" width="1.90" height="5.93" fill="url(#pl)" stroke="#1a1a1a" stroke-width="0.8" shape-rendering="crispEdges"/>
<rect x="182.97" y="1155.67" width="1.90" height="1.73" fill="#000" stroke="#000" stroke-width="0.8" shape-rendering="crispEdges"/>
<rect x="182.97" y="1141.94" width="1.90" height="13.73" fill="none" stroke="#5e5e5e" stroke-width="0.8" shape-rendering="crispEdges"/>
<rect x="182.97" y="1136.58" width="1.90" height="5.36" fill="url(#pl)" stroke="#1a1a1a" stroke-width="0.8" shape-rendering="crispEdges"/>
<rect x="184.87" y="1156.10" width="1.90" height="1.30" fill="#000" stroke="#000" stroke-width="0.8" shape-rendering="crispEdges"/>
<rect x="184.87" y="1146.03" width="1.90" height="10.07" fill="none" stroke="#5e5e5e" stroke-width="0.8" shape-rendering="crispEdges"/>
<rect x="184.87" y="1141.84" width="1.90" height="4.20" fill="url(#pl)" stroke="#1a1a1a" stroke-width="0.8" shape-rendering="crispEdges"/>
<rect x="186.77" y="1156.17" width="1.90" height="1.23" fill="#000" stroke="#000" stroke-width="0.8" shape-rendering="crispEdges"/>
<rect x="186.77" y="1147.12" width="1.90" height="9.05" fill="none" stroke="#5e5e5e" stroke-width="0.8" shape-rendering="crispEdges"/>
<rect x="186.77" y="1143.04" width="1.90" height="4.08" fill="url(#pl)" stroke="#1a1a1a" stroke-width="0.8" shape-rendering="crispEdges"/>
<rect x="188.67" y="1156.25" width="1.90" height="1.15" fill="#000" stroke="#000" stroke-width="0.8" shape-rendering="crispEdges"/>
<rect x="188.67" y="1147.38" width="1.90" height="8.87" fill="none" stroke="#5e5e5e" stroke-width="0.8" shape-rendering="crispEdges"/>
<rect x="188.67" y="1143.76" width="1.90" height="3.62" fill="url(#pl)" stroke="#1a1a1a" stroke-width="0.8" shape-rendering="crispEdges"/>
<rect x="190.57" y="1156.14" width="1.90" height="1.26" fill="#000" stroke="#000" stroke-width="0.8" shape-rendering="crispEdges"/>
<rect x="190.57" y="1146.47" width="1.90" height="9.67" fill="none" stroke="#5e5e5e" stroke-width="0.8" shape-rendering="crispEdges"/>
<rect x="190.57" y="1142.92" width="1.90" height="3.55" fill="url(#pl)" stroke="#1a1a1a" stroke-width="0.8" shape-rendering="crispEdges"/>
<rect x="192.48" y="1156.37" width="1.90" height="1.03" fill="#000" stroke="#000" stroke-width="0.8" shape-rendering="crispEdges"/>
<rect x="192.48" y="1147.88" width="1.90" height="8.49" fill="none" stroke="#5e5e5e" stroke-width="0.8" shape-rendering="crispEdges"/>
<rect x="192.48" y="1144.86" width="1.90" height="3.02" fill="url(#pl)" stroke="#1a1a1a" stroke-width="0.8" shape-rendering="crispEdges"/>
<rect x="194.38" y="1156.57" width="1.90" height="0.83" fill="#000" stroke="#000" stroke-width="0.8" shape-rendering="crispEdges"/>
<rect x="194.38" y="1150.50" width="1.90" height="6.07" fill="none" stroke="#5e5e5e" stroke-width="0.8" shape-rendering="crispEdges"/>
<rect x="194.38" y="1147.69" width="1.90" height="2.81" fill="url(#pl)" stroke="#1a1a1a" stroke-width="0.8" shape-rendering="crispEdges"/>
<rect x="196.28" y="1156.73" width="1.90" height="0.67" fill="#000" stroke="#000" stroke-width="0.8" shape-rendering="crispEdges"/>
<rect x="196.28" y="1151.65" width="1.90" height="5.07" fill="none" stroke="#5e5e5e" stroke-width="0.8" shape-rendering="crispEdges"/>
<rect x="196.28" y="1149.53" width="1.90" height="2.12" fill="url(#pl)" stroke="#1a1a1a" stroke-width="0.8" shape-rendering="crispEdges"/>
<rect x="198.18" y="1156.80" width="1.90" height="0.60" fill="#000" stroke="#000" stroke-width="0.8" shape-rendering="crispEdges"/>
<rect x="198.18" y="1152.15" width="1.90" height="4.65" fill="none" stroke="#5e5e5e" stroke-width="0.8" shape-rendering="crispEdges"/>
<rect x="198.18" y="1150.35" width="1.90" height="1.81" fill="url(#pl)" stroke="#1a1a1a" stroke-width="0.8" shape-rendering="crispEdges"/>
<rect x="200.08" y="1156.66" width="1.90" height="0.74" fill="#000" stroke="#000" stroke-width="0.8" shape-rendering="crispEdges"/>
<rect x="200.08" y="1151.12" width="1.90" height="5.54" fill="none" stroke="#5e5e5e" stroke-width="0.8" shape-rendering="crispEdges"/>
<rect x="200.08" y="1148.79" width="1.90" height="2.34" fill="url(#pl)" stroke="#1a1a1a" stroke-width="0.8" shape-rendering="crispEdges"/>
<rect x="201.99" y="1156.90" width="1.90" height="0.50" fill="#000" stroke="#000" stroke-width="0.8" shape-rendering="crispEdges"/>
<rect x="201.99" y="1152.90" width="1.90" height="4.01" fill="none" stroke="#5e5e5e" stroke-width="0.8" shape-rendering="crispEdges"/>
<rect x="201.99" y="1151.14" width="1.90" height="1.76" fill="url(#pl)" stroke="#1a1a1a" stroke-width="0.8" shape-rendering="crispEdges"/>
<rect x="203.89" y="1156.93" width="1.90" height="0.47" fill="#000" stroke="#000" stroke-width="0.8" shape-rendering="crispEdges"/>
<rect x="203.89" y="1153.40" width="1.90" height="3.53" fill="none" stroke="#5e5e5e" stroke-width="0.8" shape-rendering="crispEdges"/>
<rect x="203.89" y="1151.90" width="1.90" height="1.50" fill="url(#pl)" stroke="#1a1a1a" stroke-width="0.8" shape-rendering="crispEdges"/>
<rect x="205.79" y="1156.92" width="1.90" height="0.48" fill="#000" stroke="#000" stroke-width="0.8" shape-rendering="crispEdges"/>
<rect x="205.79" y="1153.48" width="1.90" height="3.44" fill="none" stroke="#5e5e5e" stroke-width="0.8" shape-rendering="crispEdges"/>
<rect x="205.79" y="1151.90" width="1.90" height="1.58" fill="url(#pl)" stroke="#1a1a1a" stroke-width="0.8" shape-rendering="crispEdges"/>
<rect x="207.69" y="1157.00" width="1.90" height="0.40" fill="#000" stroke="#000" stroke-width="0.8" shape-rendering="crispEdges"/>
<rect x="207.69" y="1154.04" width="1.90" height="2.96" fill="none" stroke="#5e5e5e" stroke-width="0.8" shape-rendering="crispEdges"/>
<rect x="207.69" y="1152.94" width="1.90" height="1.11" fill="url(#pl)" stroke="#1a1a1a" stroke-width="0.8" shape-rendering="crispEdges"/>
<rect x="209.59" y="1156.89" width="1.90" height="0.51" fill="#000" stroke="#000" stroke-width="0.8" shape-rendering="crispEdges"/>
<rect x="209.59" y="1152.95" width="1.90" height="3.94" fill="none" stroke="#5e5e5e" stroke-width="0.8" shape-rendering="crispEdges"/>
<rect x="209.59" y="1151.37" width="1.90" height="1.58" fill="url(#pl)" stroke="#1a1a1a" stroke-width="0.8" shape-rendering="crispEdges"/>
<rect x="211.50" y="1157.05" width="1.90" height="0.35" fill="#000" stroke="#000" stroke-width="0.8" shape-rendering="crispEdges"/>
<rect x="211.50" y="1154.34" width="1.90" height="2.72" fill="none" stroke="#5e5e5e" stroke-width="0.8" shape-rendering="crispEdges"/>
<rect x="211.50" y="1153.18" width="1.90" height="1.15" fill="url(#pl)" stroke="#1a1a1a" stroke-width="0.8" shape-rendering="crispEdges"/>
<rect x="213.40" y="1156.92" width="1.90" height="0.48" fill="#000" stroke="#000" stroke-width="0.8" shape-rendering="crispEdges"/>
<rect x="213.40" y="1153.36" width="1.90" height="3.56" fill="none" stroke="#5e5e5e" stroke-width="0.8" shape-rendering="crispEdges"/>
<rect x="213.40" y="1152.03" width="1.90" height="1.33" fill="url(#pl)" stroke="#1a1a1a" stroke-width="0.8" shape-rendering="crispEdges"/>
<rect x="215.30" y="1157.09" width="1.90" height="0.31" fill="#000" stroke="#000" stroke-width="0.8" shape-rendering="crispEdges"/>
<rect x="215.30" y="1154.58" width="1.90" height="2.51" fill="none" stroke="#5e5e5e" stroke-width="0.8" shape-rendering="crispEdges"/>
<rect x="215.30" y="1153.67" width="1.90" height="0.91" fill="url(#pl)" stroke="#1a1a1a" stroke-width="0.8" shape-rendering="crispEdges"/>
<rect x="217.20" y="1157.09" width="1.90" height="0.31" fill="#000" stroke="#000" stroke-width="0.8" shape-rendering="crispEdges"/>
<rect x="217.20" y="1154.78" width="1.90" height="2.31" fill="none" stroke="#5e5e5e" stroke-width="0.8" shape-rendering="crispEdges"/>
<rect x="217.20" y="1153.94" width="1.90" height="0.84" fill="url(#pl)" stroke="#1a1a1a" stroke-width="0.8" shape-rendering="crispEdges"/>
<rect x="219.10" y="1157.12" width="1.90" height="0.28" fill="#000" stroke="#000" stroke-width="0.8" shape-rendering="crispEdges"/>
<rect x="219.10" y="1154.94" width="1.90" height="2.18" fill="none" stroke="#5e5e5e" stroke-width="0.8" shape-rendering="crispEdges"/>
<rect x="219.10" y="1154.13" width="1.90" height="0.82" fill="url(#pl)" stroke="#1a1a1a" stroke-width="0.8" shape-rendering="crispEdges"/>
<rect x="221.01" y="1157.16" width="1.90" height="0.24" fill="#000" stroke="#000" stroke-width="0.8" shape-rendering="crispEdges"/>
<rect x="221.01" y="1155.23" width="1.90" height="1.93" fill="none" stroke="#5e5e5e" stroke-width="0.8" shape-rendering="crispEdges"/>
<rect x="221.01" y="1154.46" width="1.90" height="0.77" fill="url(#pl)" stroke="#1a1a1a" stroke-width="0.8" shape-rendering="crispEdges"/>
<rect x="222.91" y="1157.13" width="1.90" height="0.27" fill="#000" stroke="#000" stroke-width="0.8" shape-rendering="crispEdges"/>
<rect x="222.91" y="1155.09" width="1.90" height="2.04" fill="none" stroke="#5e5e5e" stroke-width="0.8" shape-rendering="crispEdges"/>
<rect x="222.91" y="1154.17" width="1.90" height="0.92" fill="url(#pl)" stroke="#1a1a1a" stroke-width="0.8" shape-rendering="crispEdges"/>
<rect x="224.81" y="1157.17" width="1.90" height="0.23" fill="#000" stroke="#000" stroke-width="0.8" shape-rendering="crispEdges"/>
<rect x="224.81" y="1155.48" width="1.90" height="1.69" fill="none" stroke="#5e5e5e" stroke-width="0.8" shape-rendering="crispEdges"/>
<rect x="224.81" y="1154.92" width="1.90" height="0.55" fill="url(#pl)" stroke="#1a1a1a" stroke-width="0.8" shape-rendering="crispEdges"/>
<rect x="226.71" y="1157.21" width="1.90" height="0.19" fill="#000" stroke="#000" stroke-width="0.8" shape-rendering="crispEdges"/>
<rect x="226.71" y="1155.67" width="1.90" height="1.54" fill="none" stroke="#5e5e5e" stroke-width="0.8" shape-rendering="crispEdges"/>
<rect x="226.71" y="1155.02" width="1.90" height="0.65" fill="url(#pl)" stroke="#1a1a1a" stroke-width="0.8" shape-rendering="crispEdges"/>
<rect x="228.61" y="1157.21" width="1.90" height="0.19" fill="#000" stroke="#000" stroke-width="0.8" shape-rendering="crispEdges"/>
<rect x="228.61" y="1155.84" width="1.90" height="1.37" fill="none" stroke="#5e5e5e" stroke-width="0.8" shape-rendering="crispEdges"/>
<rect x="228.61" y="1155.21" width="1.90" height="0.63" fill="url(#pl)" stroke="#1a1a1a" stroke-width="0.8" shape-rendering="crispEdges"/>
<rect x="230.52" y="1157.24" width="1.90" height="0.16" fill="#000" stroke="#000" stroke-width="0.8" shape-rendering="crispEdges"/>
<rect x="230.52" y="1155.99" width="1.90" height="1.25" fill="none" stroke="#5e5e5e" stroke-width="0.8" shape-rendering="crispEdges"/>
<rect x="230.52" y="1155.45" width="1.90" height="0.55" fill="url(#pl)" stroke="#1a1a1a" stroke-width="0.8" shape-rendering="crispEdges"/>
<rect x="232.42" y="1157.25" width="1.90" height="0.15" fill="#000" stroke="#000" stroke-width="0.8" shape-rendering="crispEdges"/>
<rect x="232.42" y="1155.94" width="1.90" height="1.30" fill="none" stroke="#5e5e5e" stroke-width="0.8" shape-rendering="crispEdges"/>
<rect x="232.42" y="1155.39" width="1.90" height="0.55" fill="url(#pl)" stroke="#1a1a1a" stroke-width="0.8" shape-rendering="crispEdges"/>
<rect x="234.32" y="1157.24" width="1.90" height="0.16" fill="#000" stroke="#000" stroke-width="0.8" shape-rendering="crispEdges"/>
<rect x="234.32" y="1156.19" width="1.90" height="1.05" fill="none" stroke="#5e5e5e" stroke-width="0.8" shape-rendering="crispEdges"/>
<rect x="234.32" y="1155.74" width="1.90" height="0.45" fill="url(#pl)" stroke="#1a1a1a" stroke-width="0.8" shape-rendering="crispEdges"/>
<rect x="236.22" y="1157.28" width="1.90" height="0.12" fill="#000" stroke="#000" stroke-width="0.8" shape-rendering="crispEdges"/>
<rect x="236.22" y="1156.28" width="1.90" height="1.00" fill="none" stroke="#5e5e5e" stroke-width="0.8" shape-rendering="crispEdges"/>
<rect x="236.22" y="1155.90" width="1.90" height="0.39" fill="url(#pl)" stroke="#1a1a1a" stroke-width="0.8" shape-rendering="crispEdges"/>
<rect x="238.12" y="1157.28" width="1.90" height="0.12" fill="#000" stroke="#000" stroke-width="0.8" shape-rendering="crispEdges"/>
<rect x="238.12" y="1156.44" width="1.90" height="0.84" fill="none" stroke="#5e5e5e" stroke-width="0.8" shape-rendering="crispEdges"/>
<rect x="238.12" y="1156.05" width="1.90" height="0.39" fill="url(#pl)" stroke="#1a1a1a" stroke-width="0.8" shape-rendering="crispEdges"/>
<rect x="240.03" y="1157.28" width="1.90" height="0.12" fill="#000" stroke="#000" stroke-width="0.8" shape-rendering="crispEdges"/>
<rect x="240.03" y="1156.56" width="1.90" height="0.72" fill="none" stroke="#5e5e5e" stroke-width="0.8" shape-rendering="crispEdges"/>
<rect x="240.03" y="1156.25" width="1.90" height="0.32" fill="url(#pl)" stroke="#1a1a1a" stroke-width="0.8" shape-rendering="crispEdges"/>
<rect x="241.93" y="1157.28" width="1.90" height="0.12" fill="#000" stroke="#000" stroke-width="0.8" shape-rendering="crispEdges"/>
<rect x="241.93" y="1156.55" width="1.90" height="0.73" fill="none" stroke="#5e5e5e" stroke-width="0.8" shape-rendering="crispEdges"/>
<rect x="241.93" y="1156.21" width="1.90" height="0.35" fill="url(#pl)" stroke="#1a1a1a" stroke-width="0.8" shape-rendering="crispEdges"/>
<rect x="243.83" y="1157.32" width="1.90" height="0.08" fill="#000" stroke="#000" stroke-width="0.8" shape-rendering="crispEdges"/>
<rect x="243.83" y="1156.69" width="1.90" height="0.64" fill="none" stroke="#5e5e5e" stroke-width="0.8" shape-rendering="crispEdges"/>
<rect x="243.83" y="1156.47" width="1.90" height="0.22" fill="url(#pl)" stroke="#1a1a1a" stroke-width="0.8" shape-rendering="crispEdges"/>
<rect x="245.73" y="1157.32" width="1.90" height="0.08" fill="#000" stroke="#000" stroke-width="0.8" shape-rendering="crispEdges"/>
<rect x="245.73" y="1156.80" width="1.90" height="0.52" fill="none" stroke="#5e5e5e" stroke-width="0.8" shape-rendering="crispEdges"/>
<rect x="245.73" y="1156.61" width="1.90" height="0.19" fill="url(#pl)" stroke="#1a1a1a" stroke-width="0.8" shape-rendering="crispEdges"/>
<rect x="247.63" y="1157.36" width="1.90" height="0.04" fill="#000" stroke="#000" stroke-width="0.8" shape-rendering="crispEdges"/>
<rect x="247.63" y="1156.92" width="1.90" height="0.44" fill="none" stroke="#5e5e5e" stroke-width="0.8" shape-rendering="crispEdges"/>
<rect x="247.63" y="1156.76" width="1.90" height="0.16" fill="url(#pl)" stroke="#1a1a1a" stroke-width="0.8" shape-rendering="crispEdges"/>
<rect x="249.54" y="1157.36" width="1.90" height="0.04" fill="#000" stroke="#000" stroke-width="0.8" shape-rendering="crispEdges"/>
<rect x="249.54" y="1157.00" width="1.90" height="0.36" fill="none" stroke="#5e5e5e" stroke-width="0.8" shape-rendering="crispEdges"/>
<rect x="249.54" y="1156.84" width="1.90" height="0.17" fill="url(#pl)" stroke="#1a1a1a" stroke-width="0.8" shape-rendering="crispEdges"/>
<rect x="251.44" y="1157.36" width="1.90" height="0.04" fill="#000" stroke="#000" stroke-width="0.8" shape-rendering="crispEdges"/>
<rect x="251.44" y="1157.04" width="1.90" height="0.32" fill="none" stroke="#5e5e5e" stroke-width="0.8" shape-rendering="crispEdges"/>
<rect x="251.44" y="1156.93" width="1.90" height="0.11" fill="url(#pl)" stroke="#1a1a1a" stroke-width="0.8" shape-rendering="crispEdges"/>
<rect x="253.34" y="1157.36" width="1.90" height="0.04" fill="#000" stroke="#000" stroke-width="0.8" shape-rendering="crispEdges"/>
<rect x="253.34" y="1157.12" width="1.90" height="0.24" fill="none" stroke="#5e5e5e" stroke-width="0.8" shape-rendering="crispEdges"/>
<rect x="253.34" y="1157.05" width="1.90" height="0.07" fill="url(#pl)" stroke="#1a1a1a" stroke-width="0.8" shape-rendering="crispEdges"/>
<rect x="255.24" y="1157.36" width="1.90" height="0.04" fill="#000" stroke="#000" stroke-width="0.8" shape-rendering="crispEdges"/>
<rect x="255.24" y="1157.20" width="1.90" height="0.16" fill="none" stroke="#5e5e5e" stroke-width="0.8" shape-rendering="crispEdges"/>
<rect x="255.24" y="1157.12" width="1.90" height="0.08" fill="url(#pl)" stroke="#1a1a1a" stroke-width="0.8" shape-rendering="crispEdges"/>
<rect x="257.14" y="1157.25" width="1.90" height="0.15" fill="none" stroke="#5e5e5e" stroke-width="0.8" shape-rendering="crispEdges"/>
<rect x="257.14" y="1157.20" width="1.90" height="0.04" fill="url(#pl)" stroke="#1a1a1a" stroke-width="0.8" shape-rendering="crispEdges"/>
<rect x="259.05" y="1157.32" width="1.90" height="0.08" fill="none" stroke="#5e5e5e" stroke-width="0.8" shape-rendering="crispEdges"/>
<rect x="259.05" y="1157.28" width="1.90" height="0.04" fill="url(#pl)" stroke="#1a1a1a" stroke-width="0.8" shape-rendering="crispEdges"/>
<rect x="260.95" y="1157.36" width="1.90" height="0.04" fill="none" stroke="#5e5e5e" stroke-width="0.8" shape-rendering="crispEdges"/>
<rect x="260.95" y="1157.32" width="1.90" height="0.04" fill="url(#pl)" stroke="#1a1a1a" stroke-width="0.8" shape-rendering="crispEdges"/>
<rect x="61.50" y="939.40" width="210.30" height="218.00" fill="none" stroke="#636363" stroke-width="1"/>
<line x1="56.90" y1="1157.40" x2="61.50" y2="1157.40" stroke="#636363" stroke-width="1"/>
<text transform="translate(56.10,1163.20) scale(1,0.95)" font-family="Liberation Sans, sans-serif" font-size="13.4" text-anchor="end" fill="#1a1a1a">0</text>
<line x1="56.90" y1="1118.20" x2="61.50" y2="1118.20" stroke="#636363" stroke-width="1"/>
<text transform="translate(56.10,1124.00) scale(1,0.95)" font-family="Liberation Sans, sans-serif" font-size="13.4" text-anchor="end" fill="#1a1a1a">1 000</text>
<line x1="56.90" y1="1079.00" x2="61.50" y2="1079.00" stroke="#636363" stroke-width="1"/>
<text transform="translate(56.10,1084.80) scale(1,0.95)" font-family="Liberation Sans, sans-serif" font-size="13.4" text-anchor="end" fill="#1a1a1a">2 000</text>
<line x1="56.90" y1="1039.80" x2="61.50" y2="1039.80" stroke="#636363" stroke-width="1"/>
<text transform="translate(56.10,1045.60) scale(1,0.95)" font-family="Liberation Sans, sans-serif" font-size="13.4" text-anchor="end" fill="#1a1a1a">3 000</text>
<line x1="56.90" y1="1000.60" x2="61.50" y2="1000.60" stroke="#636363" stroke-width="1"/>
<text transform="translate(56.10,1006.40) scale(1,0.95)" font-family="Liberation Sans, sans-serif" font-size="13.4" text-anchor="end" fill="#1a1a1a">4 000</text>
<line x1="56.90" y1="961.40" x2="61.50" y2="961.40" stroke="#636363" stroke-width="1"/>
<text transform="translate(56.10,967.20) scale(1,0.95)" font-family="Liberation Sans, sans-serif" font-size="13.4" text-anchor="end" fill="#1a1a1a">5 000</text>
<line x1="71.70" y1="1157.40" x2="71.70" y2="1161.90" stroke="#636363" stroke-width="1"/>
<text transform="translate(71.70,1174.40) scale(1,0.95)" font-family="Liberation Sans, sans-serif" font-size="13.4" text-anchor="middle" fill="#1a1a1a">−100</text>
<line x1="119.25" y1="1157.40" x2="119.25" y2="1161.90" stroke="#636363" stroke-width="1"/>
<text transform="translate(119.25,1174.40) scale(1,0.95)" font-family="Liberation Sans, sans-serif" font-size="13.4" text-anchor="middle" fill="#1a1a1a">−50</text>
<line x1="166.80" y1="1157.40" x2="166.80" y2="1161.90" stroke="#636363" stroke-width="1"/>
<text transform="translate(166.80,1174.40) scale(1,0.95)" font-family="Liberation Sans, sans-serif" font-size="13.4" text-anchor="middle" fill="#1a1a1a">0</text>
<line x1="214.35" y1="1157.40" x2="214.35" y2="1161.90" stroke="#636363" stroke-width="1"/>
<text transform="translate(214.35,1174.40) scale(1,0.95)" font-family="Liberation Sans, sans-serif" font-size="13.4" text-anchor="middle" fill="#1a1a1a">50</text>
<line x1="261.90" y1="1157.40" x2="261.90" y2="1161.90" stroke="#636363" stroke-width="1"/>
<text transform="translate(261.90,1174.40) scale(1,0.95)" font-family="Liberation Sans, sans-serif" font-size="13.4" text-anchor="middle" fill="#1a1a1a">100</text>
<text transform="translate(167.05,1193.00) scale(1,0.95)" font-family="Liberation Sans, sans-serif" font-size="12.8" text-anchor="middle" fill="#1a1a1a" textLength="173.30" lengthAdjust="spacing">Score change in VAS leg pain</text>
<text transform="translate(166.20,1205.50) scale(1,0.95)" font-family="Liberation Sans, sans-serif" font-size="12.8" text-anchor="middle" fill="#1a1a1a" textLength="199.80" lengthAdjust="spacing">between 1st and 2nd year postop</text>
<text transform="translate(10.60,1047.30) rotate(-90) scale(1,1.0)" font-family="Liberation Sans, sans-serif" font-size="13.5" text-anchor="middle" fill="#1a1a1a" textLength="61.80" lengthAdjust="spacing">Frequency</text>
<rect x="273.80" y="941.90" width="10.40" height="10.00" fill="url(#pl)" stroke="#555" stroke-width="1"/>
<text transform="translate(286.00,952.40) scale(1,1.0)" font-family="Liberation Sans, sans-serif" font-size="12.8" text-anchor="start" fill="#1a1a1a" textLength="24.50" lengthAdjust="spacingAndGlyphs">LDH</text>
<rect x="273.80" y="956.65" width="10.40" height="10.00" fill="#fff" stroke="#777" stroke-width="1"/>
<text transform="translate(286.00,967.15) scale(1,1.0)" font-family="Liberation Sans, sans-serif" font-size="12.8" text-anchor="start" fill="#1a1a1a" textLength="19.00" lengthAdjust="spacingAndGlyphs">LSS</text>
<rect x="273.80" y="971.40" width="10.40" height="10.00" fill="#000" stroke="#000" stroke-width="1"/>
<text transform="translate(286.00,981.90) scale(1,1.0)" font-family="Liberation Sans, sans-serif" font-size="12.8" text-anchor="start" fill="#1a1a1a" textLength="27.40" lengthAdjust="spacingAndGlyphs">DDD</text>
<line x1="528.30" y1="650.70" x2="528.30" y2="834.30" stroke="#555" stroke-width="1.2"/>
<rect x="452.70" y="834.27" width="2.70" height="0.03" fill="none" stroke="#262626" stroke-width="0.8" shape-rendering="crispEdges"/>
<rect x="452.70" y="834.26" width="2.70" height="0.01" fill="url(#pl)" stroke="#1a1a1a" stroke-width="0.8" shape-rendering="crispEdges"/>
<rect x="455.40" y="834.26" width="2.70" height="0.04" fill="none" stroke="#262626" stroke-width="0.8" shape-rendering="crispEdges"/>
<rect x="455.40" y="834.24" width="2.70" height="0.01" fill="url(#pl)" stroke="#1a1a1a" stroke-width="0.8" shape-rendering="crispEdges"/>
<rect x="458.10" y="834.24" width="2.70" height="0.06" fill="none" stroke="#262626" stroke-width="0.8" shape-rendering="crispEdges"/>
<rect x="458.10" y="834.23" width="2.70" height="0.01" fill="url(#pl)" stroke="#1a1a1a" stroke-width="0.8" shape-rendering="crispEdges"/>
<rect x="460.80" y="834.29" width="2.70" height="0.01" fill="#000" stroke="#000" stroke-width="0.8" shape-rendering="crispEdges"/>
<rect x="460.80" y="834.23" width="2.70" height="0.06" fill="none" stroke="#262626" stroke-width="0.8" shape-rendering="crispEdges"/>
<rect x="460.80" y="834.21" width="2.70" height="0.02" fill="url(#pl)" stroke="#1a1a1a" stroke-width="0.8" shape-rendering="crispEdges"/>
<rect x="463.50" y="834.29" width="2.70" height="0.01" fill="#000" stroke="#000" stroke-width="0.8" shape-rendering="crispEdges"/>
<rect x="463.50" y="834.23" width="2.70" height="0.06" fill="none" stroke="#262626" stroke-width="0.8" shape-rendering="crispEdges"/>
<rect x="463.50" y="834.21" width="2.70" height="0.02" fill="url(#pl)" stroke="#1a1a1a" stroke-width="0.8" shape-rendering="crispEdges"/>
<rect x="466.20" y="834.29" width="2.70" height="0.01" fill="#000" stroke="#000" stroke-width="0.8" shape-rendering="crispEdges"/>
<rect x="466.20" y="834.23" width="2.70" height="0.06" fill="none" stroke="#262626" stroke-width="0.8" shape-rendering="crispEdges"/>
<rect x="466.20" y="834.21" width="2.70" height="0.02" fill="url(#pl)" stroke="#1a1a1a" stroke-width="0.8" shape-rendering="crispEdges"/>
<rect x="468.90" y="834.29" width="2.70" height="0.01" fill="#000" stroke="#000" stroke-width="0.8" shape-rendering="crispEdges"/>
<rect x="468.90" y="834.23" width="2.70" height="0.06" fill="none" stroke="#262626" stroke-width="0.8" shape-rendering="crispEdges"/>
<rect x="468.90" y="834.21" width="2.70" height="0.02" fill="url(#pl)" stroke="#1a1a1a" stroke-width="0.8" shape-rendering="crispEdges"/>
<rect x="471.60" y="834.29" width="2.70" height="0.01" fill="#000" stroke="#000" stroke-width="0.8" shape-rendering="crispEdges"/>
<rect x="471.60" y="834.23" width="2.70" height="0.06" fill="none" stroke="#262626" stroke-width="0.8" shape-rendering="crispEdges"/>
<rect x="471.60" y="834.21" width="2.70" height="0.02" fill="url(#pl)" stroke="#1a1a1a" stroke-width="0.8" shape-rendering="crispEdges"/>
<rect x="474.30" y="834.27" width="2.70" height="0.03" fill="#000" stroke="#000" stroke-width="0.8" shape-rendering="crispEdges"/>
<rect x="474.30" y="834.08" width="2.70" height="0.19" fill="none" stroke="#262626" stroke-width="0.8" shape-rendering="crispEdges"/>
<rect x="474.30" y="834.04" width="2.70" height="0.04" fill="url(#pl)" stroke="#1a1a1a" stroke-width="0.8" shape-rendering="crispEdges"/>
<rect x="477.00" y="834.27" width="2.70" height="0.03" fill="#000" stroke="#000" stroke-width="0.8" shape-rendering="crispEdges"/>
<rect x="477.00" y="834.08" width="2.70" height="0.19" fill="none" stroke="#262626" stroke-width="0.8" shape-rendering="crispEdges"/>
<rect x="477.00" y="834.04" width="2.70" height="0.04" fill="url(#pl)" stroke="#1a1a1a" stroke-width="0.8" shape-rendering="crispEdges"/>
<rect x="479.70" y="834.27" width="2.70" height="0.03" fill="#000" stroke="#000" stroke-width="0.8" shape-rendering="crispEdges"/>
<rect x="479.70" y="834.08" width="2.70" height="0.19" fill="none" stroke="#262626" stroke-width="0.8" shape-rendering="crispEdges"/>
<rect x="479.70" y="834.04" width="2.70" height="0.04" fill="url(#pl)" stroke="#1a1a1a" stroke-width="0.8" shape-rendering="crispEdges"/>
<rect x="482.40" y="834.27" width="2.70" height="0.03" fill="#000" stroke="#000" stroke-width="0.8" shape-rendering="crispEdges"/>
<rect x="482.40" y="834.08" width="2.70" height="0.19" fill="none" stroke="#262626" stroke-width="0.8" shape-rendering="crispEdges"/>
<rect x="482.40" y="834.04" width="2.70" height="0.04" fill="url(#pl)" stroke="#1a1a1a" stroke-width="0.8" shape-rendering="crispEdges"/>
<rect x="485.10" y="834.27" width="2.70" height="0.03" fill="#000" stroke="#000" stroke-width="0.8" shape-rendering="crispEdges"/>
<rect x="485.10" y="834.08" width="2.70" height="0.19" fill="none" stroke="#262626" stroke-width="0.8" shape-rendering="crispEdges"/>
<rect x="485.10" y="834.04" width="2.70" height="0.04" fill="url(#pl)" stroke="#1a1a1a" stroke-width="0.8" shape-rendering="crispEdges"/>
<rect x="487.80" y="834.21" width="2.70" height="0.09" fill="#000" stroke="#000" stroke-width="0.8" shape-rendering="crispEdges"/>
<rect x="487.80" y="833.80" width="2.70" height="0.41" fill="none" stroke="#262626" stroke-width="0.8" shape-rendering="crispEdges"/>
<rect x="487.80" y="833.68" width="2.70" height="0.12" fill="url(#pl)" stroke="#1a1a1a" stroke-width="0.8" shape-rendering="crispEdges"/>
<rect x="490.50" y="834.13" width="2.70" height="0.17" fill="#000" stroke="#000" stroke-width="0.8" shape-rendering="crispEdges"/>
<rect x="490.50" y="833.25" width="2.70" height="0.88" fill="none" stroke="#262626" stroke-width="0.8" shape-rendering="crispEdges"/>
<rect x="490.50" y="832.99" width="2.70" height="0.26" fill="url(#pl)" stroke="#1a1a1a" stroke-width="0.8" shape-rendering="crispEdges"/>
<rect x="493.20" y="834.02" width="2.70" height="0.28" fill="#000" stroke="#000" stroke-width="0.8" shape-rendering="crispEdges"/>
<rect x="493.20" y="832.26" width="2.70" height="1.76" fill="none" stroke="#262626" stroke-width="0.8" shape-rendering="crispEdges"/>
<rect x="493.20" y="831.66" width="2.70" height="0.60" fill="url(#pl)" stroke="#1a1a1a" stroke-width="0.8" shape-rendering="crispEdges"/>
<rect x="495.90" y="834.22" width="2.70" height="0.08" fill="#000" stroke="#000" stroke-width="0.8" shape-rendering="crispEdges"/>
<rect x="495.90" y="833.89" width="2.70" height="0.33" fill="none" stroke="#262626" stroke-width="0.8" shape-rendering="crispEdges"/>
<rect x="495.90" y="833.80" width="2.70" height="0.09" fill="url(#pl)" stroke="#1a1a1a" stroke-width="0.8" shape-rendering="crispEdges"/>
<rect x="498.60" y="834.22" width="2.70" height="0.08" fill="#000" stroke="#000" stroke-width="0.8" shape-rendering="crispEdges"/>
<rect x="498.60" y="833.94" width="2.70" height="0.29" fill="none" stroke="#262626" stroke-width="0.8" shape-rendering="crispEdges"/>
<rect x="498.60" y="833.86" width="2.70" height="0.08" fill="url(#pl)" stroke="#1a1a1a" stroke-width="0.8" shape-rendering="crispEdges"/>
<rect x="501.30" y="834.22" width="2.70" height="0.08" fill="#000" stroke="#000" stroke-width="0.8" shape-rendering="crispEdges"/>
<rect x="501.30" y="833.94" width="2.70" height="0.29" fill="none" stroke="#262626" stroke-width="0.8" shape-rendering="crispEdges"/>
<rect x="501.30" y="833.86" width="2.70" height="0.08" fill="url(#pl)" stroke="#1a1a1a" stroke-width="0.8" shape-rendering="crispEdges"/>
<rect x="504.00" y="834.22" width="2.70" height="0.08" fill="#000" stroke="#000" stroke-width="0.8" shape-rendering="crispEdges"/>
<rect x="504.00" y="833.94" width="2.70" height="0.29" fill="none" stroke="#262626" stroke-width="0.8" shape-rendering="crispEdges"/>
<rect x="504.00" y="833.86" width="2.70" height="0.08" fill="url(#pl)" stroke="#1a1a1a" stroke-width="0.8" shape-rendering="crispEdges"/>
<rect x="506.70" y="834.22" width="2.70" height="0.08" fill="#000" stroke="#000" stroke-width="0.8" shape-rendering="crispEdges"/>
<rect x="506.70" y="833.94" width="2.70" height="0.29" fill="none" stroke="#262626" stroke-width="0.8" shape-rendering="crispEdges"/>
<rect x="506.70" y="833.86" width="2.70" height="0.08" fill="url(#pl)" stroke="#1a1a1a" stroke-width="0.8" shape-rendering="crispEdges"/>
<rect x="509.40" y="834.22" width="2.70" height="0.08" fill="#000" stroke="#000" stroke-width="0.8" shape-rendering="crispEdges"/>
<rect x="509.40" y="833.94" width="2.70" height="0.29" fill="none" stroke="#262626" stroke-width="0.8" shape-rendering="crispEdges"/>
<rect x="509.40" y="833.86" width="2.70" height="0.08" fill="url(#pl)" stroke="#1a1a1a" stroke-width="0.8" shape-rendering="crispEdges"/>
<rect x="512.10" y="834.19" width="2.70" height="0.11" fill="#000" stroke="#000" stroke-width="0.8" shape-rendering="crispEdges"/>
<rect x="512.10" y="833.78" width="2.70" height="0.41" fill="none" stroke="#262626" stroke-width="0.8" shape-rendering="crispEdges"/>
<rect x="512.10" y="833.68" width="2.70" height="0.10" fill="url(#pl)" stroke="#1a1a1a" stroke-width="0.8" shape-rendering="crispEdges"/>
<rect x="514.80" y="834.02" width="2.70" height="0.28" fill="#000" stroke="#000" stroke-width="0.8" shape-rendering="crispEdges"/>
<rect x="514.80" y="833.20" width="2.70" height="0.83" fill="none" stroke="#262626" stroke-width="0.8" shape-rendering="crispEdges"/>
<rect x="514.80" y="832.99" width="2.70" height="0.21" fill="url(#pl)" stroke="#1a1a1a" stroke-width="0.8" shape-rendering="crispEdges"/>
<rect x="517.50" y="833.86" width="2.70" height="0.44" fill="#000" stroke="#000" stroke-width="0.8" shape-rendering="crispEdges"/>
<rect x="517.50" y="832.09" width="2.70" height="1.76" fill="none" stroke="#262626" stroke-width="0.8" shape-rendering="crispEdges"/>
<rect x="517.50" y="831.66" width="2.70" height="0.43" fill="url(#pl)" stroke="#1a1a1a" stroke-width="0.8" shape-rendering="crispEdges"/>
<rect x="520.20" y="833.42" width="2.70" height="0.88" fill="#000" stroke="#000" stroke-width="0.8" shape-rendering="crispEdges"/>
<rect x="520.20" y="829.34" width="2.70" height="4.08" fill="none" stroke="#262626" stroke-width="0.8" shape-rendering="crispEdges"/>
<rect x="520.20" y="828.42" width="2.70" height="0.92" fill="url(#pl)" stroke="#1a1a1a" stroke-width="0.8" shape-rendering="crispEdges"/>
<rect x="522.90" y="833.09" width="2.70" height="1.21" fill="#000" stroke="#000" stroke-width="0.8" shape-rendering="crispEdges"/>
<rect x="522.90" y="826.58" width="2.70" height="6.51" fill="none" stroke="#262626" stroke-width="0.8" shape-rendering="crispEdges"/>
<rect x="522.90" y="825.26" width="2.70" height="1.32" fill="url(#pl)" stroke="#1a1a1a" stroke-width="0.8" shape-rendering="crispEdges"/>
<rect x="525.60" y="833.16" width="2.70" height="1.14" fill="#000" stroke="#000" stroke-width="0.8" shape-rendering="crispEdges"/>
<rect x="525.60" y="826.80" width="2.70" height="6.36" fill="none" stroke="#262626" stroke-width="0.8" shape-rendering="crispEdges"/>
<rect x="525.60" y="825.96" width="2.70" height="0.84" fill="url(#pl)" stroke="#1a1a1a" stroke-width="0.8" shape-rendering="crispEdges"/>
<rect x="528.30" y="825.52" width="2.70" height="8.78" fill="#000" stroke="#000" stroke-width="0.8" shape-rendering="crispEdges"/>
<rect x="528.30" y="790.15" width="2.70" height="35.37" fill="none" stroke="#262626" stroke-width="0.8" shape-rendering="crispEdges"/>
<rect x="528.30" y="780.75" width="2.70" height="9.39" fill="url(#pl)" stroke="#1a1a1a" stroke-width="0.8" shape-rendering="crispEdges"/>
<rect x="531.00" y="830.64" width="2.70" height="3.66" fill="#000" stroke="#000" stroke-width="0.8" shape-rendering="crispEdges"/>
<rect x="531.00" y="816.75" width="2.70" height="13.89" fill="none" stroke="#262626" stroke-width="0.8" shape-rendering="crispEdges"/>
<rect x="531.00" y="811.98" width="2.70" height="4.76" fill="url(#pl)" stroke="#1a1a1a" stroke-width="0.8" shape-rendering="crispEdges"/>
<rect x="533.70" y="831.00" width="2.70" height="3.30" fill="#000" stroke="#000" stroke-width="0.8" shape-rendering="crispEdges"/>
<rect x="533.70" y="817.47" width="2.70" height="13.53" fill="none" stroke="#262626" stroke-width="0.8" shape-rendering="crispEdges"/>
<rect x="533.70" y="811.98" width="2.70" height="5.49" fill="url(#pl)" stroke="#1a1a1a" stroke-width="0.8" shape-rendering="crispEdges"/>
<rect x="536.40" y="833.20" width="2.70" height="1.10" fill="#000" stroke="#000" stroke-width="0.8" shape-rendering="crispEdges"/>
<rect x="536.40" y="828.08" width="2.70" height="5.12" fill="none" stroke="#262626" stroke-width="0.8" shape-rendering="crispEdges"/>
<rect x="536.40" y="825.16" width="2.70" height="2.92" fill="url(#pl)" stroke="#1a1a1a" stroke-width="0.8" shape-rendering="crispEdges"/>
<rect x="539.10" y="831.38" width="2.70" height="2.92" fill="#000" stroke="#000" stroke-width="0.8" shape-rendering="crispEdges"/>
<rect x="539.10" y="823.33" width="2.70" height="8.05" fill="none" stroke="#262626" stroke-width="0.8" shape-rendering="crispEdges"/>
<rect x="539.10" y="818.20" width="2.70" height="5.13" fill="url(#pl)" stroke="#1a1a1a" stroke-width="0.8" shape-rendering="crispEdges"/>
<rect x="541.80" y="832.83" width="2.70" height="1.47" fill="#000" stroke="#000" stroke-width="0.8" shape-rendering="crispEdges"/>
<rect x="541.80" y="831.00" width="2.70" height="1.83" fill="none" stroke="#262626" stroke-width="0.8" shape-rendering="crispEdges"/>
<rect x="541.80" y="829.18" width="2.70" height="1.82" fill="url(#pl)" stroke="#1a1a1a" stroke-width="0.8" shape-rendering="crispEdges"/>
<rect x="544.50" y="833.20" width="2.70" height="1.10" fill="#000" stroke="#000" stroke-width="0.8" shape-rendering="crispEdges"/>
<rect x="544.50" y="825.52" width="2.70" height="7.67" fill="none" stroke="#262626" stroke-width="0.8" shape-rendering="crispEdges"/>
<rect x="544.50" y="822.59" width="2.70" height="2.93" fill="url(#pl)" stroke="#1a1a1a" stroke-width="0.8" shape-rendering="crispEdges"/>
<rect x="547.20" y="832.47" width="2.70" height="1.83" fill="#000" stroke="#000" stroke-width="0.8" shape-rendering="crispEdges"/>
<rect x="547.20" y="825.89" width="2.70" height="6.58" fill="none" stroke="#262626" stroke-width="0.8" shape-rendering="crispEdges"/>
<rect x="547.20" y="820.77" width="2.70" height="5.12" fill="url(#pl)" stroke="#1a1a1a" stroke-width="0.8" shape-rendering="crispEdges"/>
<rect x="549.90" y="833.20" width="2.70" height="1.10" fill="#000" stroke="#000" stroke-width="0.8" shape-rendering="crispEdges"/>
<rect x="549.90" y="830.64" width="2.70" height="2.56" fill="none" stroke="#262626" stroke-width="0.8" shape-rendering="crispEdges"/>
<rect x="549.90" y="828.44" width="2.70" height="2.19" fill="url(#pl)" stroke="#1a1a1a" stroke-width="0.8" shape-rendering="crispEdges"/>
<rect x="552.60" y="833.57" width="2.70" height="0.73" fill="#000" stroke="#000" stroke-width="0.8" shape-rendering="crispEdges"/>
<rect x="552.60" y="829.91" width="2.70" height="3.66" fill="none" stroke="#262626" stroke-width="0.8" shape-rendering="crispEdges"/>
<rect x="552.60" y="828.08" width="2.70" height="1.83" fill="url(#pl)" stroke="#1a1a1a" stroke-width="0.8" shape-rendering="crispEdges"/>
<rect x="555.30" y="833.79" width="2.70" height="0.51" fill="#000" stroke="#000" stroke-width="0.8" shape-rendering="crispEdges"/>
<rect x="555.30" y="832.65" width="2.70" height="1.15" fill="none" stroke="#262626" stroke-width="0.8" shape-rendering="crispEdges"/>
<rect x="555.30" y="832.11" width="2.70" height="0.54" fill="url(#pl)" stroke="#1a1a1a" stroke-width="0.8" shape-rendering="crispEdges"/>
<rect x="558.00" y="833.57" width="2.70" height="0.73" fill="#000" stroke="#000" stroke-width="0.8" shape-rendering="crispEdges"/>
<rect x="558.00" y="830.64" width="2.70" height="2.93" fill="none" stroke="#262626" stroke-width="0.8" shape-rendering="crispEdges"/>
<rect x="558.00" y="828.81" width="2.70" height="1.83" fill="url(#pl)" stroke="#1a1a1a" stroke-width="0.8" shape-rendering="crispEdges"/>
<rect x="560.70" y="832.83" width="2.70" height="1.47" fill="#000" stroke="#000" stroke-width="0.8" shape-rendering="crispEdges"/>
<rect x="560.70" y="821.86" width="2.70" height="10.97" fill="none" stroke="#262626" stroke-width="0.8" shape-rendering="crispEdges"/>
<rect x="560.70" y="818.20" width="2.70" height="3.66" fill="url(#pl)" stroke="#1a1a1a" stroke-width="0.8" shape-rendering="crispEdges"/>
<rect x="563.40" y="831.38" width="2.70" height="2.92" fill="#000" stroke="#000" stroke-width="0.8" shape-rendering="crispEdges"/>
<rect x="563.40" y="816.37" width="2.70" height="15.01" fill="none" stroke="#262626" stroke-width="0.8" shape-rendering="crispEdges"/>
<rect x="563.40" y="811.98" width="2.70" height="4.39" fill="url(#pl)" stroke="#1a1a1a" stroke-width="0.8" shape-rendering="crispEdges"/>
<rect x="566.10" y="831.74" width="2.70" height="2.56" fill="#000" stroke="#000" stroke-width="0.8" shape-rendering="crispEdges"/>
<rect x="566.10" y="820.40" width="2.70" height="11.35" fill="none" stroke="#262626" stroke-width="0.8" shape-rendering="crispEdges"/>
<rect x="566.10" y="816.01" width="2.70" height="4.39" fill="url(#pl)" stroke="#1a1a1a" stroke-width="0.8" shape-rendering="crispEdges"/>
<rect x="568.80" y="832.83" width="2.70" height="1.47" fill="#000" stroke="#000" stroke-width="0.8" shape-rendering="crispEdges"/>
<rect x="568.80" y="827.35" width="2.70" height="5.48" fill="none" stroke="#262626" stroke-width="0.8" shape-rendering="crispEdges"/>
<rect x="568.80" y="822.96" width="2.70" height="4.39" fill="url(#pl)" stroke="#1a1a1a" stroke-width="0.8" shape-rendering="crispEdges"/>
<rect x="571.50" y="832.83" width="2.70" height="1.47" fill="#000" stroke="#000" stroke-width="0.8" shape-rendering="crispEdges"/>
<rect x="571.50" y="825.16" width="2.70" height="7.67" fill="none" stroke="#262626" stroke-width="0.8" shape-rendering="crispEdges"/>
<rect x="571.50" y="820.03" width="2.70" height="5.13" fill="url(#pl)" stroke="#1a1a1a" stroke-width="0.8" shape-rendering="crispEdges"/>
<rect x="574.20" y="833.20" width="2.70" height="1.10" fill="#000" stroke="#000" stroke-width="0.8" shape-rendering="crispEdges"/>
<rect x="574.20" y="826.58" width="2.70" height="6.62" fill="none" stroke="#262626" stroke-width="0.8" shape-rendering="crispEdges"/>
<rect x="574.20" y="822.96" width="2.70" height="3.62" fill="url(#pl)" stroke="#1a1a1a" stroke-width="0.8" shape-rendering="crispEdges"/>
<rect x="576.90" y="833.42" width="2.70" height="0.88" fill="#000" stroke="#000" stroke-width="0.8" shape-rendering="crispEdges"/>
<rect x="576.90" y="828.13" width="2.70" height="5.29" fill="none" stroke="#262626" stroke-width="0.8" shape-rendering="crispEdges"/>
<rect x="576.90" y="825.16" width="2.70" height="2.97" fill="url(#pl)" stroke="#1a1a1a" stroke-width="0.8" shape-rendering="crispEdges"/>
<rect x="579.60" y="833.64" width="2.70" height="0.66" fill="#000" stroke="#000" stroke-width="0.8" shape-rendering="crispEdges"/>
<rect x="579.60" y="830.44" width="2.70" height="3.20" fill="none" stroke="#262626" stroke-width="0.8" shape-rendering="crispEdges"/>
<rect x="579.60" y="828.44" width="2.70" height="2.00" fill="url(#pl)" stroke="#1a1a1a" stroke-width="0.8" shape-rendering="crispEdges"/>
<rect x="582.30" y="833.57" width="2.70" height="0.73" fill="#000" stroke="#000" stroke-width="0.8" shape-rendering="crispEdges"/>
<rect x="582.30" y="826.58" width="2.70" height="6.99" fill="none" stroke="#262626" stroke-width="0.8" shape-rendering="crispEdges"/>
<rect x="582.30" y="822.96" width="2.70" height="3.62" fill="url(#pl)" stroke="#1a1a1a" stroke-width="0.8" shape-rendering="crispEdges"/>
<rect x="585.00" y="833.86" width="2.70" height="0.44" fill="#000" stroke="#000" stroke-width="0.8" shape-rendering="crispEdges"/>
<rect x="585.00" y="832.09" width="2.70" height="1.76" fill="none" stroke="#262626" stroke-width="0.8" shape-rendering="crispEdges"/>
<rect x="585.00" y="831.74" width="2.70" height="0.35" fill="url(#pl)" stroke="#1a1a1a" stroke-width="0.8" shape-rendering="crispEdges"/>
<rect x="587.70" y="833.75" width="2.70" height="0.55" fill="#000" stroke="#000" stroke-width="0.8" shape-rendering="crispEdges"/>
<rect x="587.70" y="831.54" width="2.70" height="2.21" fill="none" stroke="#262626" stroke-width="0.8" shape-rendering="crispEdges"/>
<rect x="587.70" y="831.00" width="2.70" height="0.54" fill="url(#pl)" stroke="#1a1a1a" stroke-width="0.8" shape-rendering="crispEdges"/>
<rect x="590.40" y="833.75" width="2.70" height="0.55" fill="#000" stroke="#000" stroke-width="0.8" shape-rendering="crispEdges"/>
<rect x="590.40" y="831.54" width="2.70" height="2.21" fill="none" stroke="#262626" stroke-width="0.8" shape-rendering="crispEdges"/>
<rect x="590.40" y="831.00" width="2.70" height="0.54" fill="url(#pl)" stroke="#1a1a1a" stroke-width="0.8" shape-rendering="crispEdges"/>
<rect x="593.10" y="833.86" width="2.70" height="0.44" fill="#000" stroke="#000" stroke-width="0.8" shape-rendering="crispEdges"/>
<rect x="593.10" y="832.43" width="2.70" height="1.43" fill="none" stroke="#262626" stroke-width="0.8" shape-rendering="crispEdges"/>
<rect x="593.10" y="832.11" width="2.70" height="0.32" fill="url(#pl)" stroke="#1a1a1a" stroke-width="0.8" shape-rendering="crispEdges"/>
<rect x="595.80" y="834.23" width="2.70" height="0.07" fill="#000" stroke="#000" stroke-width="0.8" shape-rendering="crispEdges"/>
<rect x="595.80" y="833.91" width="2.70" height="0.32" fill="none" stroke="#262626" stroke-width="0.8" shape-rendering="crispEdges"/>
<rect x="595.80" y="833.86" width="2.70" height="0.06" fill="url(#pl)" stroke="#1a1a1a" stroke-width="0.8" shape-rendering="crispEdges"/>
<rect x="598.50" y="834.24" width="2.70" height="0.06" fill="#000" stroke="#000" stroke-width="0.8" shape-rendering="crispEdges"/>
<rect x="598.50" y="833.99" width="2.70" height="0.25" fill="none" stroke="#262626" stroke-width="0.8" shape-rendering="crispEdges"/>
<rect x="598.50" y="833.94" width="2.70" height="0.06" fill="url(#pl)" stroke="#1a1a1a" stroke-width="0.8" shape-rendering="crispEdges"/>
<rect x="601.20" y="834.24" width="2.70" height="0.06" fill="#000" stroke="#000" stroke-width="0.8" shape-rendering="crispEdges"/>
<rect x="601.20" y="834.02" width="2.70" height="0.22" fill="none" stroke="#262626" stroke-width="0.8" shape-rendering="crispEdges"/>
<rect x="601.20" y="833.97" width="2.70" height="0.06" fill="url(#pl)" stroke="#1a1a1a" stroke-width="0.8" shape-rendering="crispEdges"/>
<rect x="603.90" y="834.26" width="2.70" height="0.04" fill="#000" stroke="#000" stroke-width="0.8" shape-rendering="crispEdges"/>
<rect x="603.90" y="834.07" width="2.70" height="0.19" fill="none" stroke="#262626" stroke-width="0.8" shape-rendering="crispEdges"/>
<rect x="603.90" y="834.02" width="2.70" height="0.04" fill="url(#pl)" stroke="#1a1a1a" stroke-width="0.8" shape-rendering="crispEdges"/>
<rect x="606.60" y="834.27" width="2.70" height="0.03" fill="#000" stroke="#000" stroke-width="0.8" shape-rendering="crispEdges"/>
<rect x="606.60" y="834.11" width="2.70" height="0.15" fill="none" stroke="#262626" stroke-width="0.8" shape-rendering="crispEdges"/>
<rect x="606.60" y="834.08" width="2.70" height="0.03" fill="url(#pl)" stroke="#1a1a1a" stroke-width="0.8" shape-rendering="crispEdges"/>
<rect x="609.30" y="834.28" width="2.70" height="0.02" fill="#000" stroke="#000" stroke-width="0.8" shape-rendering="crispEdges"/>
<rect x="609.30" y="834.16" width="2.70" height="0.12" fill="none" stroke="#262626" stroke-width="0.8" shape-rendering="crispEdges"/>
<rect x="609.30" y="834.13" width="2.70" height="0.02" fill="url(#pl)" stroke="#1a1a1a" stroke-width="0.8" shape-rendering="crispEdges"/>
<rect x="612.00" y="834.29" width="2.70" height="0.01" fill="#000" stroke="#000" stroke-width="0.8" shape-rendering="crispEdges"/>
<rect x="612.00" y="834.21" width="2.70" height="0.08" fill="none" stroke="#262626" stroke-width="0.8" shape-rendering="crispEdges"/>
<rect x="612.00" y="834.19" width="2.70" height="0.02" fill="url(#pl)" stroke="#1a1a1a" stroke-width="0.8" shape-rendering="crispEdges"/>
<rect x="614.70" y="834.29" width="2.70" height="0.01" fill="#000" stroke="#000" stroke-width="0.8" shape-rendering="crispEdges"/>
<rect x="614.70" y="834.24" width="2.70" height="0.04" fill="none" stroke="#262626" stroke-width="0.8" shape-rendering="crispEdges"/>
<rect x="614.70" y="834.23" width="2.70" height="0.01" fill="url(#pl)" stroke="#1a1a1a" stroke-width="0.8" shape-rendering="crispEdges"/>
<rect x="425.50" y="650.70" width="205.90" height="183.60" fill="none" stroke="#636363" stroke-width="1"/>
<line x1="420.90" y1="834.30" x2="425.50" y2="834.30" stroke="#636363" stroke-width="1"/>
<text transform="translate(420.60,840.20) scale(1,0.87)" font-family="Liberation Sans, sans-serif" font-size="13.8" text-anchor="end" fill="#1a1a1a">0</text>
<line x1="420.90" y1="779.17" x2="425.50" y2="779.17" stroke="#636363" stroke-width="1"/>
<text transform="translate(420.60,785.07) scale(1,0.87)" font-family="Liberation Sans, sans-serif" font-size="13.8" text-anchor="end" fill="#1a1a1a">5 000</text>
<line x1="420.90" y1="724.03" x2="425.50" y2="724.03" stroke="#636363" stroke-width="1"/>
<text transform="translate(420.60,729.93) scale(1,0.87)" font-family="Liberation Sans, sans-serif" font-size="13.8" text-anchor="end" fill="#1a1a1a">10 000</text>
<line x1="420.90" y1="668.90" x2="425.50" y2="668.90" stroke="#636363" stroke-width="1"/>
<text transform="translate(420.60,674.80) scale(1,0.87)" font-family="Liberation Sans, sans-serif" font-size="13.8" text-anchor="end" fill="#1a1a1a">15 000</text>
<line x1="435.80" y1="834.30" x2="435.80" y2="838.30" stroke="#636363" stroke-width="1"/>
<text transform="translate(435.80,849.80) scale(1,0.87)" font-family="Liberation Sans, sans-serif" font-size="13.8" text-anchor="middle" fill="#1a1a1a">−1,50</text>
<line x1="497.47" y1="834.30" x2="497.47" y2="838.30" stroke="#636363" stroke-width="1"/>
<text transform="translate(497.47,849.80) scale(1,0.87)" font-family="Liberation Sans, sans-serif" font-size="13.8" text-anchor="middle" fill="#1a1a1a">−,50</text>
<line x1="559.13" y1="834.30" x2="559.13" y2="838.30" stroke="#636363" stroke-width="1"/>
<text transform="translate(559.13,849.80) scale(1,0.87)" font-family="Liberation Sans, sans-serif" font-size="13.8" text-anchor="middle" fill="#1a1a1a">,50</text>
<line x1="620.80" y1="834.30" x2="620.80" y2="838.30" stroke="#636363" stroke-width="1"/>
<text transform="translate(620.80,849.80) scale(1,0.87)" font-family="Liberation Sans, sans-serif" font-size="13.8" text-anchor="middle" fill="#1a1a1a">1,50</text>
<line x1="466.63" y1="834.30" x2="466.63" y2="848.90" stroke="#636363" stroke-width="1"/>
<text transform="translate(466.63,861.70) scale(1,0.87)" font-family="Liberation Sans, sans-serif" font-size="13.8" text-anchor="middle" fill="#1a1a1a">−1,00</text>
<line x1="528.30" y1="834.30" x2="528.30" y2="848.90" stroke="#636363" stroke-width="1"/>
<text transform="translate(528.30,861.70) scale(1,0.87)" font-family="Liberation Sans, sans-serif" font-size="13.8" text-anchor="middle" fill="#1a1a1a">,00</text>
<line x1="589.97" y1="834.30" x2="589.97" y2="848.90" stroke="#636363" stroke-width="1"/>
<text transform="translate(589.97,861.70) scale(1,0.87)" font-family="Liberation Sans, sans-serif" font-size="13.8" text-anchor="middle" fill="#1a1a1a">1,00</text>
<text transform="translate(528.30,877.60) scale(1,0.83)" font-family="Liberation Sans, sans-serif" font-size="12.8" text-anchor="middle" fill="#1a1a1a" textLength="178.60" lengthAdjust="spacing">Score change in EQ–5D index</text>
<text transform="translate(528.80,889.00) scale(1,0.83)" font-family="Liberation Sans, sans-serif" font-size="12.8" text-anchor="middle" fill="#1a1a1a" textLength="185.00" lengthAdjust="spacing">between baseline and 1st year</text>
<text transform="translate(529.15,899.70) scale(1,0.83)" font-family="Liberation Sans, sans-serif" font-size="12.8" text-anchor="middle" fill="#1a1a1a" textLength="41.30" lengthAdjust="spacing">postop</text>
<text transform="translate(366.50,740.50) rotate(-90) scale(1,1.0)" font-family="Liberation Sans, sans-serif" font-size="13.5" text-anchor="middle" fill="#1a1a1a" textLength="56.20" lengthAdjust="spacingAndGlyphs">Frequency</text>
<rect x="633.40" y="652.80" width="10.60" height="8.70" fill="url(#pl)" stroke="#555" stroke-width="1"/>
<text transform="translate(645.80,661.70) scale(1,0.8)" font-family="Liberation Sans, sans-serif" font-size="13.5" text-anchor="start" fill="#1a1a1a" textLength="25.20" lengthAdjust="spacingAndGlyphs">LDH</text>
<rect x="633.40" y="666.00" width="10.60" height="8.70" fill="#fff" stroke="#777" stroke-width="1"/>
<text transform="translate(645.80,674.90) scale(1,0.8)" font-family="Liberation Sans, sans-serif" font-size="13.5" text-anchor="start" fill="#1a1a1a" textLength="19.60" lengthAdjust="spacingAndGlyphs">LSS</text>
<rect x="633.40" y="679.20" width="10.60" height="8.70" fill="#000" stroke="#000" stroke-width="1"/>
<text transform="translate(645.80,688.10) scale(1,0.8)" font-family="Liberation Sans, sans-serif" font-size="13.5" text-anchor="start" fill="#1a1a1a" textLength="28.60" lengthAdjust="spacingAndGlyphs">DDD</text>
<text transform="translate(357.00,655.00) scale(1,1.0)" font-family="Liberation Serif, serif" font-size="18.5" text-anchor="start" fill="#000" font-weight="bold">(d)</text>
<line x1="528.30" y1="917.80" x2="528.30" y2="1126.00" stroke="#555" stroke-width="1.2"/>
<rect x="471.70" y="1125.95" width="2.83" height="0.05" fill="#000" stroke="#000" stroke-width="0.8" shape-rendering="crispEdges"/>
<rect x="471.70" y="1125.70" width="2.83" height="0.25" fill="none" stroke="#262626" stroke-width="0.8" shape-rendering="crispEdges"/>
<rect x="471.70" y="1125.62" width="2.83" height="0.08" fill="url(#pl)" stroke="#1a1a1a" stroke-width="0.8" shape-rendering="crispEdges"/>
<rect x="474.53" y="1125.94" width="2.83" height="0.06" fill="#000" stroke="#000" stroke-width="0.8" shape-rendering="crispEdges"/>
<rect x="474.53" y="1125.60" width="2.83" height="0.34" fill="none" stroke="#262626" stroke-width="0.8" shape-rendering="crispEdges"/>
<rect x="474.53" y="1125.50" width="2.83" height="0.10" fill="url(#pl)" stroke="#1a1a1a" stroke-width="0.8" shape-rendering="crispEdges"/>
<rect x="477.36" y="1125.92" width="2.83" height="0.08" fill="#000" stroke="#000" stroke-width="0.8" shape-rendering="crispEdges"/>
<rect x="477.36" y="1125.50" width="2.83" height="0.43" fill="none" stroke="#262626" stroke-width="0.8" shape-rendering="crispEdges"/>
<rect x="477.36" y="1125.39" width="2.83" height="0.11" fill="url(#pl)" stroke="#1a1a1a" stroke-width="0.8" shape-rendering="crispEdges"/>
<rect x="480.19" y="1125.87" width="2.83" height="0.13" fill="#000" stroke="#000" stroke-width="0.8" shape-rendering="crispEdges"/>
<rect x="480.19" y="1125.16" width="2.83" height="0.71" fill="none" stroke="#262626" stroke-width="0.8" shape-rendering="crispEdges"/>
<rect x="480.19" y="1124.95" width="2.83" height="0.21" fill="url(#pl)" stroke="#1a1a1a" stroke-width="0.8" shape-rendering="crispEdges"/>
<rect x="483.02" y="1125.77" width="2.83" height="0.23" fill="#000" stroke="#000" stroke-width="0.8" shape-rendering="crispEdges"/>
<rect x="483.02" y="1124.44" width="2.83" height="1.34" fill="none" stroke="#262626" stroke-width="0.8" shape-rendering="crispEdges"/>
<rect x="483.02" y="1124.07" width="2.83" height="0.36" fill="url(#pl)" stroke="#1a1a1a" stroke-width="0.8" shape-rendering="crispEdges"/>
<rect x="485.85" y="1125.69" width="2.83" height="0.31" fill="#000" stroke="#000" stroke-width="0.8" shape-rendering="crispEdges"/>
<rect x="485.85" y="1123.75" width="2.83" height="1.94" fill="none" stroke="#262626" stroke-width="0.8" shape-rendering="crispEdges"/>
<rect x="485.85" y="1123.21" width="2.83" height="0.54" fill="url(#pl)" stroke="#1a1a1a" stroke-width="0.8" shape-rendering="crispEdges"/>
<rect x="488.68" y="1125.56" width="2.83" height="0.44" fill="#000" stroke="#000" stroke-width="0.8" shape-rendering="crispEdges"/>
<rect x="488.68" y="1122.87" width="2.83" height="2.69" fill="none" stroke="#262626" stroke-width="0.8" shape-rendering="crispEdges"/>
<rect x="488.68" y="1122.07" width="2.83" height="0.80" fill="url(#pl)" stroke="#1a1a1a" stroke-width="0.8" shape-rendering="crispEdges"/>
<rect x="491.51" y="1125.62" width="2.83" height="0.38" fill="#000" stroke="#000" stroke-width="0.8" shape-rendering="crispEdges"/>
<rect x="491.51" y="1123.37" width="2.83" height="2.25" fill="none" stroke="#262626" stroke-width="0.8" shape-rendering="crispEdges"/>
<rect x="491.51" y="1122.68" width="2.83" height="0.69" fill="url(#pl)" stroke="#1a1a1a" stroke-width="0.8" shape-rendering="crispEdges"/>
<rect x="494.34" y="1125.25" width="2.83" height="0.75" fill="#000" stroke="#000" stroke-width="0.8" shape-rendering="crispEdges"/>
<rect x="494.34" y="1120.32" width="2.83" height="4.93" fill="none" stroke="#262626" stroke-width="0.8" shape-rendering="crispEdges"/>
<rect x="494.34" y="1118.32" width="2.83" height="2.00" fill="url(#pl)" stroke="#1a1a1a" stroke-width="0.8" shape-rendering="crispEdges"/>
<rect x="497.17" y="1125.69" width="2.83" height="0.31" fill="#000" stroke="#000" stroke-width="0.8" shape-rendering="crispEdges"/>
<rect x="497.17" y="1124.25" width="2.83" height="1.44" fill="none" stroke="#262626" stroke-width="0.8" shape-rendering="crispEdges"/>
<rect x="497.17" y="1123.81" width="2.83" height="0.44" fill="url(#pl)" stroke="#1a1a1a" stroke-width="0.8" shape-rendering="crispEdges"/>
<rect x="500.00" y="1125.75" width="2.83" height="0.25" fill="#000" stroke="#000" stroke-width="0.8" shape-rendering="crispEdges"/>
<rect x="500.00" y="1124.44" width="2.83" height="1.31" fill="none" stroke="#262626" stroke-width="0.8" shape-rendering="crispEdges"/>
<rect x="500.00" y="1124.07" width="2.83" height="0.36" fill="url(#pl)" stroke="#1a1a1a" stroke-width="0.8" shape-rendering="crispEdges"/>
<rect x="502.83" y="1125.87" width="2.83" height="0.13" fill="#000" stroke="#000" stroke-width="0.8" shape-rendering="crispEdges"/>
<rect x="502.83" y="1125.44" width="2.83" height="0.44" fill="none" stroke="#262626" stroke-width="0.8" shape-rendering="crispEdges"/>
<rect x="502.83" y="1125.30" width="2.83" height="0.14" fill="url(#pl)" stroke="#1a1a1a" stroke-width="0.8" shape-rendering="crispEdges"/>
<rect x="505.66" y="1125.69" width="2.83" height="0.31" fill="#000" stroke="#000" stroke-width="0.8" shape-rendering="crispEdges"/>
<rect x="505.66" y="1124.44" width="2.83" height="1.25" fill="none" stroke="#262626" stroke-width="0.8" shape-rendering="crispEdges"/>
<rect x="505.66" y="1124.07" width="2.83" height="0.36" fill="url(#pl)" stroke="#1a1a1a" stroke-width="0.8" shape-rendering="crispEdges"/>
<rect x="508.49" y="1125.37" width="2.83" height="0.63" fill="#000" stroke="#000" stroke-width="0.8" shape-rendering="crispEdges"/>
<rect x="508.49" y="1122.51" width="2.83" height="2.87" fill="none" stroke="#262626" stroke-width="0.8" shape-rendering="crispEdges"/>
<rect x="508.49" y="1120.58" width="2.83" height="1.93" fill="url(#pl)" stroke="#1a1a1a" stroke-width="0.8" shape-rendering="crispEdges"/>
<rect x="511.32" y="1125.75" width="2.83" height="0.25" fill="#000" stroke="#000" stroke-width="0.8" shape-rendering="crispEdges"/>
<rect x="511.32" y="1124.94" width="2.83" height="0.81" fill="none" stroke="#262626" stroke-width="0.8" shape-rendering="crispEdges"/>
<rect x="511.32" y="1124.69" width="2.83" height="0.25" fill="url(#pl)" stroke="#1a1a1a" stroke-width="0.8" shape-rendering="crispEdges"/>
<rect x="514.15" y="1124.25" width="2.83" height="1.75" fill="#000" stroke="#000" stroke-width="0.8" shape-rendering="crispEdges"/>
<rect x="514.15" y="1115.08" width="2.83" height="9.17" fill="none" stroke="#262626" stroke-width="0.8" shape-rendering="crispEdges"/>
<rect x="514.15" y="1108.36" width="2.83" height="6.72" fill="url(#pl)" stroke="#1a1a1a" stroke-width="0.8" shape-rendering="crispEdges"/>
<rect x="516.98" y="1124.69" width="2.83" height="1.31" fill="#000" stroke="#000" stroke-width="0.8" shape-rendering="crispEdges"/>
<rect x="516.98" y="1117.27" width="2.83" height="7.42" fill="none" stroke="#262626" stroke-width="0.8" shape-rendering="crispEdges"/>
<rect x="516.98" y="1115.51" width="2.83" height="1.75" fill="url(#pl)" stroke="#1a1a1a" stroke-width="0.8" shape-rendering="crispEdges"/>
<rect x="519.81" y="1124.25" width="2.83" height="1.75" fill="#000" stroke="#000" stroke-width="0.8" shape-rendering="crispEdges"/>
<rect x="519.81" y="1115.08" width="2.83" height="9.17" fill="none" stroke="#262626" stroke-width="0.8" shape-rendering="crispEdges"/>
<rect x="519.81" y="1111.32" width="2.83" height="3.75" fill="url(#pl)" stroke="#1a1a1a" stroke-width="0.8" shape-rendering="crispEdges"/>
<rect x="522.64" y="1122.07" width="2.83" height="3.93" fill="#000" stroke="#000" stroke-width="0.8" shape-rendering="crispEdges"/>
<rect x="522.64" y="1104.16" width="2.83" height="17.91" fill="none" stroke="#262626" stroke-width="0.8" shape-rendering="crispEdges"/>
<rect x="522.64" y="1096.31" width="2.83" height="7.86" fill="url(#pl)" stroke="#1a1a1a" stroke-width="0.8" shape-rendering="crispEdges"/>
<rect x="525.47" y="1123.81" width="2.83" height="2.19" fill="#000" stroke="#000" stroke-width="0.8" shape-rendering="crispEdges"/>
<rect x="525.47" y="1112.46" width="2.83" height="11.35" fill="none" stroke="#262626" stroke-width="0.8" shape-rendering="crispEdges"/>
<rect x="525.47" y="1107.23" width="2.83" height="5.23" fill="url(#pl)" stroke="#1a1a1a" stroke-width="0.8" shape-rendering="crispEdges"/>
<rect x="528.30" y="1095.43" width="2.83" height="30.57" fill="#000" stroke="#000" stroke-width="0.8" shape-rendering="crispEdges"/>
<rect x="528.30" y="999.64" width="2.83" height="95.79" fill="none" stroke="#262626" stroke-width="0.8" shape-rendering="crispEdges"/>
<rect x="528.30" y="946.18" width="2.83" height="53.46" fill="url(#pl)" stroke="#1a1a1a" stroke-width="0.8" shape-rendering="crispEdges"/>
<rect x="531.13" y="1121.63" width="2.83" height="4.37" fill="#000" stroke="#000" stroke-width="0.8" shape-rendering="crispEdges"/>
<rect x="531.13" y="1106.78" width="2.83" height="14.85" fill="none" stroke="#262626" stroke-width="0.8" shape-rendering="crispEdges"/>
<rect x="531.13" y="1099.80" width="2.83" height="6.98" fill="url(#pl)" stroke="#1a1a1a" stroke-width="0.8" shape-rendering="crispEdges"/>
<rect x="533.96" y="1123.81" width="2.83" height="2.19" fill="#000" stroke="#000" stroke-width="0.8" shape-rendering="crispEdges"/>
<rect x="533.96" y="1115.51" width="2.83" height="8.30" fill="none" stroke="#262626" stroke-width="0.8" shape-rendering="crispEdges"/>
<rect x="533.96" y="1111.15" width="2.83" height="4.37" fill="url(#pl)" stroke="#1a1a1a" stroke-width="0.8" shape-rendering="crispEdges"/>
<rect x="536.79" y="1124.25" width="2.83" height="1.75" fill="#000" stroke="#000" stroke-width="0.8" shape-rendering="crispEdges"/>
<rect x="536.79" y="1119.88" width="2.83" height="4.37" fill="none" stroke="#262626" stroke-width="0.8" shape-rendering="crispEdges"/>
<rect x="536.79" y="1116.83" width="2.83" height="3.05" fill="url(#pl)" stroke="#1a1a1a" stroke-width="0.8" shape-rendering="crispEdges"/>
<rect x="539.62" y="1122.95" width="2.83" height="3.05" fill="#000" stroke="#000" stroke-width="0.8" shape-rendering="crispEdges"/>
<rect x="539.62" y="1114.65" width="2.83" height="8.30" fill="none" stroke="#262626" stroke-width="0.8" shape-rendering="crispEdges"/>
<rect x="539.62" y="1108.09" width="2.83" height="6.56" fill="url(#pl)" stroke="#1a1a1a" stroke-width="0.8" shape-rendering="crispEdges"/>
<rect x="542.45" y="1125.50" width="2.83" height="0.50" fill="#000" stroke="#000" stroke-width="0.8" shape-rendering="crispEdges"/>
<rect x="542.45" y="1124.62" width="2.83" height="0.88" fill="none" stroke="#262626" stroke-width="0.8" shape-rendering="crispEdges"/>
<rect x="542.45" y="1124.25" width="2.83" height="0.38" fill="url(#pl)" stroke="#1a1a1a" stroke-width="0.8" shape-rendering="crispEdges"/>
<rect x="545.28" y="1125.37" width="2.83" height="0.63" fill="#000" stroke="#000" stroke-width="0.8" shape-rendering="crispEdges"/>
<rect x="545.28" y="1122.25" width="2.83" height="3.13" fill="none" stroke="#262626" stroke-width="0.8" shape-rendering="crispEdges"/>
<rect x="545.28" y="1121.19" width="2.83" height="1.05" fill="url(#pl)" stroke="#1a1a1a" stroke-width="0.8" shape-rendering="crispEdges"/>
<rect x="548.11" y="1125.62" width="2.83" height="0.38" fill="#000" stroke="#000" stroke-width="0.8" shape-rendering="crispEdges"/>
<rect x="548.11" y="1124.25" width="2.83" height="1.38" fill="none" stroke="#262626" stroke-width="0.8" shape-rendering="crispEdges"/>
<rect x="548.11" y="1123.81" width="2.83" height="0.44" fill="url(#pl)" stroke="#1a1a1a" stroke-width="0.8" shape-rendering="crispEdges"/>
<rect x="550.94" y="1125.90" width="2.83" height="0.10" fill="#000" stroke="#000" stroke-width="0.8" shape-rendering="crispEdges"/>
<rect x="550.94" y="1125.65" width="2.83" height="0.25" fill="none" stroke="#262626" stroke-width="0.8" shape-rendering="crispEdges"/>
<rect x="550.94" y="1125.56" width="2.83" height="0.09" fill="url(#pl)" stroke="#1a1a1a" stroke-width="0.8" shape-rendering="crispEdges"/>
<rect x="553.77" y="1125.69" width="2.83" height="0.31" fill="#000" stroke="#000" stroke-width="0.8" shape-rendering="crispEdges"/>
<rect x="553.77" y="1124.44" width="2.83" height="1.25" fill="none" stroke="#262626" stroke-width="0.8" shape-rendering="crispEdges"/>
<rect x="553.77" y="1124.07" width="2.83" height="0.36" fill="url(#pl)" stroke="#1a1a1a" stroke-width="0.8" shape-rendering="crispEdges"/>
<rect x="556.60" y="1125.75" width="2.83" height="0.25" fill="#000" stroke="#000" stroke-width="0.8" shape-rendering="crispEdges"/>
<rect x="556.60" y="1124.62" width="2.83" height="1.13" fill="none" stroke="#262626" stroke-width="0.8" shape-rendering="crispEdges"/>
<rect x="556.60" y="1124.25" width="2.83" height="0.38" fill="url(#pl)" stroke="#1a1a1a" stroke-width="0.8" shape-rendering="crispEdges"/>
<rect x="559.43" y="1125.50" width="2.83" height="0.50" fill="#000" stroke="#000" stroke-width="0.8" shape-rendering="crispEdges"/>
<rect x="559.43" y="1122.00" width="2.83" height="3.50" fill="none" stroke="#262626" stroke-width="0.8" shape-rendering="crispEdges"/>
<rect x="559.43" y="1121.02" width="2.83" height="0.98" fill="url(#pl)" stroke="#1a1a1a" stroke-width="0.8" shape-rendering="crispEdges"/>
<rect x="562.26" y="1125.62" width="2.83" height="0.38" fill="#000" stroke="#000" stroke-width="0.8" shape-rendering="crispEdges"/>
<rect x="562.26" y="1123.56" width="2.83" height="2.06" fill="none" stroke="#262626" stroke-width="0.8" shape-rendering="crispEdges"/>
<rect x="562.26" y="1122.95" width="2.83" height="0.61" fill="url(#pl)" stroke="#1a1a1a" stroke-width="0.8" shape-rendering="crispEdges"/>
<rect x="565.09" y="1125.69" width="2.83" height="0.31" fill="#000" stroke="#000" stroke-width="0.8" shape-rendering="crispEdges"/>
<rect x="565.09" y="1123.87" width="2.83" height="1.81" fill="none" stroke="#262626" stroke-width="0.8" shape-rendering="crispEdges"/>
<rect x="565.09" y="1123.38" width="2.83" height="0.49" fill="url(#pl)" stroke="#1a1a1a" stroke-width="0.8" shape-rendering="crispEdges"/>
<rect x="567.92" y="1125.75" width="2.83" height="0.25" fill="#000" stroke="#000" stroke-width="0.8" shape-rendering="crispEdges"/>
<rect x="567.92" y="1124.44" width="2.83" height="1.31" fill="none" stroke="#262626" stroke-width="0.8" shape-rendering="crispEdges"/>
<rect x="567.92" y="1124.07" width="2.83" height="0.36" fill="url(#pl)" stroke="#1a1a1a" stroke-width="0.8" shape-rendering="crispEdges"/>
<rect x="570.75" y="1125.77" width="2.83" height="0.23" fill="#000" stroke="#000" stroke-width="0.8" shape-rendering="crispEdges"/>
<rect x="570.75" y="1124.62" width="2.83" height="1.15" fill="none" stroke="#262626" stroke-width="0.8" shape-rendering="crispEdges"/>
<rect x="570.75" y="1124.25" width="2.83" height="0.38" fill="url(#pl)" stroke="#1a1a1a" stroke-width="0.8" shape-rendering="crispEdges"/>
<rect x="573.58" y="1125.87" width="2.83" height="0.13" fill="#000" stroke="#000" stroke-width="0.8" shape-rendering="crispEdges"/>
<rect x="573.58" y="1125.30" width="2.83" height="0.58" fill="none" stroke="#262626" stroke-width="0.8" shape-rendering="crispEdges"/>
<rect x="573.58" y="1125.12" width="2.83" height="0.18" fill="url(#pl)" stroke="#1a1a1a" stroke-width="0.8" shape-rendering="crispEdges"/>
<rect x="576.41" y="1125.90" width="2.83" height="0.10" fill="#000" stroke="#000" stroke-width="0.8" shape-rendering="crispEdges"/>
<rect x="576.41" y="1125.50" width="2.83" height="0.40" fill="none" stroke="#262626" stroke-width="0.8" shape-rendering="crispEdges"/>
<rect x="576.41" y="1125.37" width="2.83" height="0.13" fill="url(#pl)" stroke="#1a1a1a" stroke-width="0.8" shape-rendering="crispEdges"/>
<rect x="579.24" y="1125.92" width="2.83" height="0.08" fill="#000" stroke="#000" stroke-width="0.8" shape-rendering="crispEdges"/>
<rect x="579.24" y="1125.60" width="2.83" height="0.33" fill="none" stroke="#262626" stroke-width="0.8" shape-rendering="crispEdges"/>
<rect x="579.24" y="1125.50" width="2.83" height="0.10" fill="url(#pl)" stroke="#1a1a1a" stroke-width="0.8" shape-rendering="crispEdges"/>
<rect x="582.07" y="1125.95" width="2.83" height="0.05" fill="#000" stroke="#000" stroke-width="0.8" shape-rendering="crispEdges"/>
<rect x="582.07" y="1125.70" width="2.83" height="0.25" fill="none" stroke="#262626" stroke-width="0.8" shape-rendering="crispEdges"/>
<rect x="582.07" y="1125.62" width="2.83" height="0.08" fill="url(#pl)" stroke="#1a1a1a" stroke-width="0.8" shape-rendering="crispEdges"/>
<rect x="584.90" y="1125.96" width="2.83" height="0.04" fill="#000" stroke="#000" stroke-width="0.8" shape-rendering="crispEdges"/>
<rect x="584.90" y="1125.75" width="2.83" height="0.21" fill="none" stroke="#262626" stroke-width="0.8" shape-rendering="crispEdges"/>
<rect x="584.90" y="1125.69" width="2.83" height="0.06" fill="url(#pl)" stroke="#1a1a1a" stroke-width="0.8" shape-rendering="crispEdges"/>
<rect x="587.73" y="1125.97" width="2.83" height="0.03" fill="#000" stroke="#000" stroke-width="0.8" shape-rendering="crispEdges"/>
<rect x="587.73" y="1125.80" width="2.83" height="0.18" fill="none" stroke="#262626" stroke-width="0.8" shape-rendering="crispEdges"/>
<rect x="587.73" y="1125.75" width="2.83" height="0.05" fill="url(#pl)" stroke="#1a1a1a" stroke-width="0.8" shape-rendering="crispEdges"/>
<rect x="590.56" y="1125.97" width="2.83" height="0.03" fill="#000" stroke="#000" stroke-width="0.8" shape-rendering="crispEdges"/>
<rect x="590.56" y="1125.85" width="2.83" height="0.13" fill="none" stroke="#262626" stroke-width="0.8" shape-rendering="crispEdges"/>
<rect x="590.56" y="1125.81" width="2.83" height="0.04" fill="url(#pl)" stroke="#1a1a1a" stroke-width="0.8" shape-rendering="crispEdges"/>
<rect x="425.50" y="917.80" width="205.90" height="208.20" fill="none" stroke="#636363" stroke-width="1"/>
<line x1="420.90" y1="1126.00" x2="425.50" y2="1126.00" stroke="#636363" stroke-width="1"/>
<text transform="translate(420.60,1132.50) scale(1,0.98)" font-family="Liberation Sans, sans-serif" font-size="13.8" text-anchor="end" fill="#1a1a1a">0</text>
<line x1="420.90" y1="1063.43" x2="425.50" y2="1063.43" stroke="#636363" stroke-width="1"/>
<text transform="translate(420.60,1069.93) scale(1,0.98)" font-family="Liberation Sans, sans-serif" font-size="13.8" text-anchor="end" fill="#1a1a1a">5 000</text>
<line x1="420.90" y1="1000.87" x2="425.50" y2="1000.87" stroke="#636363" stroke-width="1"/>
<text transform="translate(420.60,1007.37) scale(1,0.98)" font-family="Liberation Sans, sans-serif" font-size="13.8" text-anchor="end" fill="#1a1a1a">10 000</text>
<line x1="420.90" y1="938.30" x2="425.50" y2="938.30" stroke="#636363" stroke-width="1"/>
<text transform="translate(420.60,944.80) scale(1,0.98)" font-family="Liberation Sans, sans-serif" font-size="13.8" text-anchor="end" fill="#1a1a1a">15 000</text>
<line x1="435.80" y1="1126.00" x2="435.80" y2="1130.00" stroke="#636363" stroke-width="1"/>
<text transform="translate(435.80,1142.50) scale(1,0.98)" font-family="Liberation Sans, sans-serif" font-size="13.8" text-anchor="middle" fill="#1a1a1a">−1,50</text>
<line x1="497.47" y1="1126.00" x2="497.47" y2="1130.00" stroke="#636363" stroke-width="1"/>
<text transform="translate(497.47,1142.50) scale(1,0.98)" font-family="Liberation Sans, sans-serif" font-size="13.8" text-anchor="middle" fill="#1a1a1a">−,50</text>
<line x1="559.13" y1="1126.00" x2="559.13" y2="1130.00" stroke="#636363" stroke-width="1"/>
<text transform="translate(559.13,1142.50) scale(1,0.98)" font-family="Liberation Sans, sans-serif" font-size="13.8" text-anchor="middle" fill="#1a1a1a">,50</text>
<line x1="620.80" y1="1126.00" x2="620.80" y2="1130.00" stroke="#636363" stroke-width="1"/>
<text transform="translate(620.80,1142.50) scale(1,0.98)" font-family="Liberation Sans, sans-serif" font-size="13.8" text-anchor="middle" fill="#1a1a1a">1,50</text>
<line x1="466.63" y1="1126.00" x2="466.63" y2="1141.50" stroke="#636363" stroke-width="1"/>
<text transform="translate(466.63,1155.30) scale(1,0.98)" font-family="Liberation Sans, sans-serif" font-size="13.8" text-anchor="middle" fill="#1a1a1a">−1,00</text>
<line x1="528.30" y1="1126.00" x2="528.30" y2="1141.50" stroke="#636363" stroke-width="1"/>
<text transform="translate(528.30,1155.30) scale(1,0.98)" font-family="Liberation Sans, sans-serif" font-size="13.8" text-anchor="middle" fill="#1a1a1a">,00</text>
<line x1="589.97" y1="1126.00" x2="589.97" y2="1141.50" stroke="#636363" stroke-width="1"/>
<text transform="translate(589.97,1155.30) scale(1,0.98)" font-family="Liberation Sans, sans-serif" font-size="13.8" text-anchor="middle" fill="#1a1a1a">1,00</text>
<text transform="translate(528.30,1174.80) scale(1,0.93)" font-family="Liberation Sans, sans-serif" font-size="12.8" text-anchor="middle" fill="#1a1a1a" textLength="178.60" lengthAdjust="spacing">Score change in EQ–5D index</text>
<text transform="translate(528.30,1187.40) scale(1,0.93)" font-family="Liberation Sans, sans-serif" font-size="12.8" text-anchor="middle" fill="#1a1a1a" textLength="157.20" lengthAdjust="spacing">between 1st and 2nd year</text>
<text transform="translate(529.15,1199.70) scale(1,0.93)" font-family="Liberation Sans, sans-serif" font-size="12.8" text-anchor="middle" fill="#1a1a1a" textLength="41.30" lengthAdjust="spacing">postop</text>
<text transform="translate(366.80,1018.00) rotate(-90) scale(1,1.0)" font-family="Liberation Sans, sans-serif" font-size="13.5" text-anchor="middle" fill="#1a1a1a" textLength="63.10" lengthAdjust="spacing">Frequency</text>
<rect x="633.40" y="919.80" width="10.60" height="10.90" fill="url(#pl)" stroke="#555" stroke-width="1"/>
<text transform="translate(645.80,930.50) scale(1,0.99)" font-family="Liberation Sans, sans-serif" font-size="13.5" text-anchor="start" fill="#1a1a1a" textLength="25.20" lengthAdjust="spacingAndGlyphs">LDH</text>
<rect x="633.40" y="935.10" width="10.60" height="10.90" fill="#fff" stroke="#777" stroke-width="1"/>
<text transform="translate(645.80,945.80) scale(1,0.99)" font-family="Liberation Sans, sans-serif" font-size="13.5" text-anchor="start" fill="#1a1a1a" textLength="19.60" lengthAdjust="spacingAndGlyphs">LSS</text>
<rect x="633.40" y="950.40" width="10.60" height="10.90" fill="#000" stroke="#000" stroke-width="1"/>
<text transform="translate(645.80,961.10) scale(1,0.99)" font-family="Liberation Sans, sans-serif" font-size="13.5" text-anchor="start" fill="#1a1a1a" textLength="28.60" lengthAdjust="spacingAndGlyphs">DDD</text>
</svg>
</body></html>
